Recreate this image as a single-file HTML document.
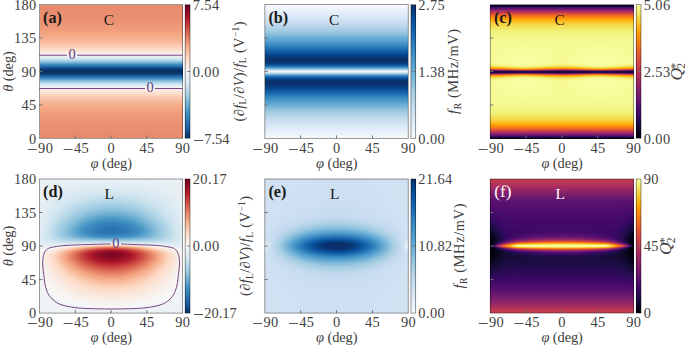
<!DOCTYPE html>
<html><head><meta charset="utf-8"><style>
html,body{margin:0;padding:0;background:#fff}
#w{position:relative;width:685px;height:346px;overflow:hidden;background:#fff}
.hm{position:absolute;display:flex;flex-direction:column}
.hm i{display:block;flex:1 1 0}
svg{position:absolute;left:0;top:0}
svg{font-family:"Liberation Serif",serif;font-size:14.4px;fill:#404040}
.n{letter-spacing:0.4px}
.tk{stroke:#777;stroke-width:1;fill:none}
.fr{fill:none;stroke:#000;stroke-opacity:0.45;stroke-width:0.9}
.ct{stroke:#764585;stroke-width:1;fill:none}
.cl{fill:#643a80}
.w{fill:#fff}
.k{fill:#1a1a1a}
.mn{stroke:#555;stroke-width:1;fill:none}
</style></head><body><div id="w">

<div style="position:absolute;left:39.50px;top:4.50px;width:143.10px;height:133.90px;background:linear-gradient(#e98b6e,#e98b6e,#e98b6e,#e98b6e,#e98b6e,#e98b6e,#e98b6e,#e98b6e,#e98b6e,#e98b6e,#e98b6e,#e98b6e,#ea8e70,#ea8e70,#ea8e70,#ea8e70,#ea8e70,#ea8e70,#ea8e70,#ea8e70,#ea8e70,#ea8e70,#ea8e70,#ea8e70,#ea8e70,#eb9172,#eb9172,#eb9172,#eb9172,#eb9172,#eb9172,#eb9172,#ec9374,#ec9374,#ec9374,#ec9374,#ec9374,#ec9374,#ee9677,#ee9677,#ee9677,#ee9677,#ef9979,#ef9979,#ef9979,#ef9979,#f09c7b,#f09c7b,#f09c7b,#f09c7b,#f19e7d,#f19e7d,#f19e7d,#f2a17f,#f2a17f,#f3a481,#f3a481,#f3a481,#f4a683,#f4a683,#f5a886,#f5a886,#f5aa89,#f5aa89,#f5ac8b,#f5ac8b,#f6af8e,#f6af8e,#f6b191,#f6b394,#f6b394,#f7b596,#f7b799,#f7b99c,#f7b99c,#f8bb9e,#f8bda1,#f8bfa4,#f9c2a7,#f9c4a9,#f9c6ac,#fac8af,#facab1,#fbccb4,#fbd0b9,#fcd3bc,#fcd5bf,#fdd9c4,#fddbc7,#fdddcb,#fcdfcf,#fce0d0,#fbe3d4,#fbe5d8,#fae7dc,#fae9df,#f9ebe3,#f9efe9,#f8f1ed,#f8f3f0,#f7f6f6,#f3f5f6,#eff3f5,#eaf1f5,#e6eff4,#e1edf3,#dbeaf2,#d7e8f1,#d1e5f0,#c7e0ed,#bddbea,#b1d5e7,#a7d0e4,#9bc9e0,#8dc2dc,#81bad8,#71b0d3,#62a7ce,#4f9bc7,#4291c2,#3b88be,#3480b9,#2e77b5,#276eb0,#2065ab,#1b5a9c,#175290,#124984,#0f437b,#0c3d73,#08366a,#073467,#053061,#053061,#053061,#053061,#073467,#08366a,#0c3d73,#0f437b,#124984,#175290,#1b5a9c,#2065ab,#276eb0,#2e77b5,#3480b9,#3b88be,#4291c2,#4f9bc7,#62a7ce,#71b0d3,#81bad8,#8dc2dc,#9bc9e0,#a7d0e4,#b1d5e7,#bddbea,#c7e0ed,#d1e5f0,#d7e8f1,#dbeaf2,#e1edf3,#e6eff4,#eaf1f5,#eff3f5,#f3f5f6,#f7f6f6,#f8f3f0,#f8f1ed,#f9efe9,#f9ebe3,#fae9df,#fae7dc,#fbe5d8,#fbe3d4,#fce0d0,#fcdfcf,#fdddcb,#fddbc7,#fdd9c4,#fcd5bf,#fcd3bc,#fbd0b9,#fbccb4,#facab1,#fac8af,#f9c6ac,#f9c4a9,#f9c2a7,#f8bfa4,#f8bda1,#f8bb9e,#f7b99c,#f7b99c,#f7b799,#f7b596,#f6b394,#f6b394,#f6b191,#f6af8e,#f6af8e,#f5ac8b,#f5ac8b,#f5aa89,#f5aa89,#f5a886,#f5a886,#f4a683,#f4a683,#f3a481,#f3a481,#f3a481,#f2a17f,#f2a17f,#f19e7d,#f19e7d,#f19e7d,#f09c7b,#f09c7b,#f09c7b,#f09c7b,#ef9979,#ef9979,#ef9979,#ef9979,#ee9677,#ee9677,#ee9677,#ee9677,#ec9374,#ec9374,#ec9374,#ec9374,#ec9374,#ec9374,#eb9172,#eb9172,#eb9172,#eb9172,#eb9172,#eb9172,#eb9172,#ea8e70,#ea8e70,#ea8e70,#ea8e70,#ea8e70,#ea8e70,#ea8e70,#ea8e70,#ea8e70,#ea8e70,#ea8e70,#ea8e70,#ea8e70,#e98b6e,#e98b6e,#e98b6e,#e98b6e,#e98b6e,#e98b6e,#e98b6e,#e98b6e,#e98b6e,#e98b6e,#e98b6e,#e98b6e)"></div>
<div style="position:absolute;left:264.80px;top:4.50px;width:143.50px;height:133.90px;background:linear-gradient(#f7fbff,#f5fafe,#f4f9fe,#f3f8fe,#f2f7fd,#f1f7fd,#eff6fc,#eef5fc,#edf4fc,#ebf3fb,#eaf3fb,#e9f2fa,#e7f1fa,#e7f0fa,#e5eff9,#e3eef9,#e3eef8,#e1edf8,#dfecf7,#dfebf7,#ddeaf7,#dce9f6,#dbe9f6,#d9e8f5,#d8e7f5,#d6e6f4,#d6e5f4,#d4e4f4,#d3e3f3,#d1e2f3,#d0e2f2,#cfe1f2,#cde0f1,#ccdff1,#cadef0,#caddf0,#c8dcf0,#c7dbef,#c4daee,#c2d9ee,#bfd8ed,#bdd7ec,#bad6eb,#b8d5ea,#b5d4e9,#b3d3e8,#b0d2e7,#aed1e7,#abd0e6,#a9cfe5,#a6cee4,#a4cce3,#a1cbe2,#9fcae1,#9ac8e0,#97c6df,#94c4df,#91c3de,#8cc0dd,#89bedc,#85bcdc,#81badb,#7db8da,#79b5d9,#75b4d8,#71b1d7,#6dafd7,#69add5,#65aad4,#63a8d3,#5fa6d1,#5ba3d0,#57a0ce,#549fcd,#519ccc,#4d99ca,#4997c9,#4594c7,#4191c6,#3e8ec4,#3b8bc2,#3888c1,#3484bf,#3181bd,#2e7ebc,#2b7bba,#2676b8,#2373b6,#2070b4,#1d6cb1,#1b69af,#1865ac,#1562a9,#125ea6,#105ba4,#0e58a2,#0a549e,#08519c,#084d96,#084a91,#08478d,#084488,#084184,#083d7f,#083a7a,#083877,#083674,#083471,#08326e,#08316d,#08306b,#08306b,#08306b,#08316d,#08326e,#083471,#083877,#083c7d,#084285,#08488e,#08509b,#0e58a2,#1562a9,#1f6eb3,#2c7cba,#3a8ac2,#4d99ca,#63a8d3,#7db8da,#9dcae1,#b7d4ea,#cddff1,#ddeaf7,#eef5fc,#eef5fc,#ddeaf7,#cddff1,#b7d4ea,#9dcae1,#7db8da,#63a8d3,#4d99ca,#3a8ac2,#2c7cba,#1f6eb3,#1562a9,#0e58a2,#08509b,#08488e,#084285,#083c7d,#083877,#083471,#08326e,#08316d,#08306b,#08306b,#08306b,#08316d,#08326e,#083471,#083674,#083877,#083a7a,#083d7f,#084184,#084488,#08478d,#084a91,#084d96,#08519c,#0a549e,#0e58a2,#105ba4,#125ea6,#1562a9,#1865ac,#1b69af,#1d6cb1,#2070b4,#2373b6,#2676b8,#2b7bba,#2e7ebc,#3181bd,#3484bf,#3888c1,#3b8bc2,#3e8ec4,#4191c6,#4594c7,#4997c9,#4d99ca,#519ccc,#549fcd,#57a0ce,#5ba3d0,#5fa6d1,#63a8d3,#65aad4,#69add5,#6dafd7,#71b1d7,#75b4d8,#79b5d9,#7db8da,#81badb,#85bcdc,#89bedc,#8cc0dd,#91c3de,#94c4df,#97c6df,#9ac8e0,#9fcae1,#a1cbe2,#a4cce3,#a6cee4,#a9cfe5,#abd0e6,#aed1e7,#b0d2e7,#b3d3e8,#b5d4e9,#b8d5ea,#bad6eb,#bdd7ec,#bfd8ed,#c2d9ee,#c4daee,#c7dbef,#c8dcf0,#caddf0,#cadef0,#ccdff1,#cde0f1,#cfe1f2,#d0e2f2,#d1e2f3,#d3e3f3,#d4e4f4,#d6e5f4,#d6e6f4,#d8e7f5,#d9e8f5,#dbe9f6,#dce9f6,#ddeaf7,#dfebf7,#dfecf7,#e1edf8,#e3eef8,#e3eef9,#e5eff9,#e7f0fa,#e7f1fa,#e9f2fa,#eaf3fb,#ebf3fb,#edf4fc,#eef5fc,#eff6fc,#f1f7fd,#f2f7fd,#f3f8fe,#f4f9fe,#f5fafe,#f7fbff)"></div>
<div class="hm" style="left:490.30px;top:4.50px;width:143.30px;height:133.90px"><i style="background:linear-gradient(90deg,#040314,#040314,#040314,#040314,#040314,#040314,#040314,#040314,#040314,#040314,#040314,#040314,#040314,#040314,#040314,#040314,#040314,#040314,#040314,#040314,#040314,#040314,#040314,#040314)"></i><i style="background:linear-gradient(90deg,#1c0c43,#1c0c43,#1c0c43,#1c0c43,#1c0c43,#1c0c43,#1c0c43,#1c0c43,#1c0c43,#1c0c43,#1c0c43,#1c0c43,#1c0c43,#1c0c43,#1c0c43,#1c0c43,#1c0c43,#1c0c43,#1c0c43,#1c0c43,#1c0c43,#1c0c43,#1c0c43,#1c0c43)"></i><i style="background:linear-gradient(90deg,#3e0966,#3e0966,#3e0966,#3e0966,#3e0966,#3e0966,#3e0966,#3e0966,#3e0966,#3e0966,#3e0966,#3e0966,#3e0966,#3e0966,#3e0966,#3e0966,#3e0966,#3e0966,#3e0966,#3e0966,#3e0966,#3e0966,#3e0966,#3e0966)"></i><i style="background:linear-gradient(90deg,#5c126e,#5c126e,#5c126e,#5c126e,#5c126e,#5c126e,#5c126e,#5c126e,#5c126e,#5c126e,#5c126e,#5c126e,#5c126e,#5c126e,#5c126e,#5c126e,#5c126e,#5c126e,#5c126e,#5c126e,#5c126e,#5c126e,#5c126e,#5c126e)"></i><i style="background:linear-gradient(90deg,#781c6d,#781c6d,#781c6d,#781c6d,#781c6d,#781c6d,#781c6d,#781c6d,#781c6d,#781c6d,#781c6d,#781c6d,#781c6d,#781c6d,#781c6d,#781c6d,#781c6d,#781c6d,#781c6d,#781c6d,#781c6d,#781c6d,#781c6d,#781c6d)"></i><i style="background:linear-gradient(90deg,#952667,#952667,#952667,#952667,#952667,#952667,#952667,#952667,#952667,#952667,#952667,#952667,#952667,#952667,#952667,#952667,#952667,#952667,#952667,#952667,#952667,#952667,#952667,#952667)"></i><i style="background:linear-gradient(90deg,#ae305c,#ae305c,#ae305c,#ae305c,#ae305c,#ae305c,#ae305c,#ae305c,#ae305c,#ae305c,#ae305c,#ae305c,#ae305c,#ae305c,#ae305c,#ae305c,#ae305c,#ae305c,#ae305c,#ae305c,#ae305c,#ae305c,#ae305c,#ae305c)"></i><i style="background:linear-gradient(90deg,#c33b4f,#c33b4f,#c33b4f,#c33b4f,#c33b4f,#c33b4f,#c33b4f,#c33b4f,#c33b4f,#c33b4f,#c33b4f,#c33b4f,#c33b4f,#c33b4f,#c33b4f,#c33b4f,#c33b4f,#c33b4f,#c33b4f,#c33b4f,#c33b4f,#c33b4f,#c33b4f,#c33b4f)"></i><i style="background:linear-gradient(90deg,#d54a41,#d54a41,#d54a41,#d54a41,#d54a41,#d54a41,#d54a41,#d54a41,#d54a41,#d54a41,#d54a41,#d54a41,#d54a41,#d54a41,#d54a41,#d54a41,#d54a41,#d54a41,#d54a41,#d54a41,#d54a41,#d54a41,#d54a41,#d54a41)"></i><i style="background:linear-gradient(90deg,#e45a31,#e45a31,#e45a31,#e45a31,#e45a31,#e45a31,#e45a31,#e45a31,#e45a31,#e45a31,#e45a31,#e45a31,#e45a31,#e45a31,#e45a31,#e45a31,#e45a31,#e45a31,#e45a31,#e45a31,#e45a31,#e45a31,#e45a31,#e45a31)"></i><i style="background:linear-gradient(90deg,#ee6a24,#ee6a24,#ee6a24,#ee6a24,#ee6a24,#ee6a24,#ee6a24,#ee6a24,#ee6a24,#ee6a24,#ee6a24,#ee6a24,#ee6a24,#ee6a24,#ee6a24,#ee6a24,#ee6a24,#ee6a24,#ee6a24,#ee6a24,#ee6a24,#ee6a24,#ee6a24,#ee6a24)"></i><i style="background:linear-gradient(90deg,#f57b17,#f57b17,#f57b17,#f57b17,#f57b17,#f57b17,#f57b17,#f57b17,#f57b17,#f57b17,#f57b17,#f57b17,#f57b17,#f57b17,#f57b17,#f57b17,#f57b17,#f57b17,#f57b17,#f57b17,#f57b17,#f57b17,#f57b17,#f57b17)"></i><i style="background:linear-gradient(90deg,#f98b0b,#f98b0b,#f98b0b,#f98b0b,#f98b0b,#f98b0b,#f98b0b,#f98b0b,#f98b0b,#f98b0b,#f98b0b,#f98b0b,#f98b0b,#f98b0b,#f98b0b,#f98b0b,#f98b0b,#f98b0b,#f98b0b,#f98b0b,#f98b0b,#f98b0b,#f98b0b,#f98b0b)"></i><i style="background:linear-gradient(90deg,#fb9906,#fb9906,#fb9906,#fb9906,#fb9906,#fb9906,#fb9906,#fb9906,#fb9906,#fb9906,#fb9906,#fb9906,#fb9906,#fb9906,#fb9906,#fb9906,#fb9906,#fb9906,#fb9906,#fb9906,#fb9906,#fb9906,#fb9906,#fb9906)"></i><i style="background:linear-gradient(90deg,#fca60c,#fca60c,#fca60c,#fca60c,#fca60c,#fca60c,#fca60c,#fca60c,#fca60c,#fca60c,#fca60c,#fca60c,#fca60c,#fca60c,#fca60c,#fca60c,#fca60c,#fca60c,#fca60c,#fca60c,#fca60c,#fca60c,#fca60c,#fca60c)"></i><i style="background:linear-gradient(90deg,#fcb216,#fcb216,#fcb216,#fcb216,#fcb216,#fcb216,#fcb216,#fcb216,#fcb216,#fcb216,#fcb216,#fcb216,#fcb216,#fcb216,#fcb216,#fcb216,#fcb216,#fcb216,#fcb216,#fcb216,#fcb216,#fcb216,#fcb216,#fcb216)"></i><i style="background:linear-gradient(90deg,#fbbe23,#fbbe23,#fbbe23,#fbbe23,#fbbe23,#fbbe23,#fbbe23,#fbbe23,#fbbe23,#fbbe23,#fbbe23,#fbbe23,#fbbe23,#fbbe23,#fbbe23,#fbbe23,#fbbe23,#fbbe23,#fbbe23,#fbbe23,#fbbe23,#fbbe23,#fbbe23,#fbbe23)"></i><i style="background:linear-gradient(90deg,#f9c72f,#f9c72f,#f9c72f,#f9c72f,#f9c72f,#f9c72f,#f9c72f,#f9c72f,#f9c72f,#f9c72f,#f9c72f,#f9c72f,#f9c72f,#f9c72f,#f9c72f,#f9c72f,#f9c72f,#f9c72f,#f9c72f,#f9c72f,#f9c72f,#f9c72f,#f9c72f,#f9c72f)"></i><i style="background:linear-gradient(90deg,#f8cf3a,#f8cf3a,#f8cf3a,#f8cf3a,#f8cf3a,#f8cf3a,#f8cf3a,#f8cf3a,#f8cf3a,#f8cf3a,#f8cf3a,#f8cf3a,#f8cf3a,#f8cf3a,#f8cf3a,#f8cf3a,#f8cf3a,#f8cf3a,#f8cf3a,#f8cf3a,#f8cf3a,#f8cf3a,#f8cf3a,#f8cf3a)"></i><i style="background:linear-gradient(90deg,#f6d543,#f6d543,#f6d543,#f6d543,#f6d543,#f6d543,#f6d543,#f6d543,#f6d543,#f6d543,#f6d543,#f6d543,#f6d543,#f6d543,#f6d543,#f6d543,#f6d543,#f6d543,#f6d543,#f6d543,#f6d543,#f6d543,#f6d543,#f6d543)"></i><i style="background:linear-gradient(90deg,#f5db4c,#f5db4c,#f5db4c,#f5db4c,#f5db4c,#f5db4c,#f5db4c,#f5db4c,#f5db4c,#f5db4c,#f5db4c,#f5db4c,#f5db4c,#f5db4c,#f5db4c,#f5db4c,#f5db4c,#f5db4c,#f5db4c,#f5db4c,#f5db4c,#f5db4c,#f5db4c,#f5db4c)"></i><i style="background:linear-gradient(90deg,#f4e156,#f4e156,#f4e156,#f4e156,#f4e156,#f4e156,#f4e156,#f4e156,#f4e156,#f4e156,#f4e156,#f4e156,#f4e156,#f4e156,#f4e156,#f4e156,#f4e156,#f4e156,#f4e156,#f4e156,#f4e156,#f4e156,#f4e156,#f4e156)"></i><i style="background:linear-gradient(90deg,#f3e55d,#f3e55d,#f3e55d,#f3e55d,#f3e55d,#f3e55d,#f3e55d,#f3e55d,#f3e55d,#f3e55d,#f3e55d,#f3e55d,#f3e55d,#f3e55d,#f3e55d,#f3e55d,#f3e55d,#f3e55d,#f3e55d,#f3e55d,#f3e55d,#f3e55d,#f3e55d,#f3e55d)"></i><i style="background:linear-gradient(90deg,#f2e865,#f2e865,#f2e865,#f2e865,#f2e865,#f2e865,#f2e865,#f2e865,#f2e865,#f2e865,#f2e865,#f2e865,#f2e865,#f2e865,#f2e865,#f2e865,#f2e865,#f2e865,#f2e865,#f2e865,#f2e865,#f2e865,#f2e865,#f2e865)"></i><i style="background:linear-gradient(90deg,#f1ec6d,#f1ec6d,#f1ec6d,#f1ec6d,#f1ec6d,#f1ec6d,#f1ec6d,#f1ec6d,#f1ec6d,#f1ec6d,#f1ec6d,#f1ec6d,#f1ec6d,#f1ec6d,#f1ec6d,#f1ec6d,#f1ec6d,#f1ec6d,#f1ec6d,#f1ec6d,#f1ec6d,#f1ec6d,#f1ec6d,#f1ec6d)"></i><i style="background:linear-gradient(90deg,#f1ef75,#f1ef75,#f1ef75,#f1ef75,#f1ef75,#f1ef75,#f1ef75,#f1ef75,#f1ef75,#f1ef75,#f1ef75,#f1ef75,#f1ef75,#f1ef75,#f1ef75,#f1ef75,#f1ef75,#f1ef75,#f1ef75,#f1ef75,#f1ef75,#f1ef75,#f1ef75,#f1ef75)"></i><i style="background:linear-gradient(90deg,#f1f179,#f1f179,#f1f179,#f1f179,#f1f179,#f1f179,#f1f179,#f1f179,#f1f179,#f1f179,#f1f179,#f1f179,#f1f179,#f1f179,#f1f179,#f1f179,#f1f179,#f1f179,#f1f179,#f1f179,#f1f179,#f1f179,#f1f179,#f1f179)"></i><i style="background:linear-gradient(90deg,#f2f27d,#f2f27d,#f2f27d,#f2f27d,#f2f27d,#f2f27d,#f2f27d,#f2f27d,#f2f27d,#f2f27d,#f2f27d,#f2f27d,#f2f27d,#f2f27d,#f2f27d,#f2f27d,#f2f27d,#f2f27d,#f2f27d,#f2f27d,#f2f27d,#f2f27d,#f2f27d,#f2f27d)"></i><i style="background:linear-gradient(90deg,#f2f482,#f2f482,#f2f482,#f2f482,#f2f482,#f2f482,#f2f482,#f2f482,#f2f482,#f2f482,#f2f482,#f2f482,#f2f482,#f2f482,#f2f482,#f2f482,#f2f482,#f2f482,#f2f482,#f2f482,#f2f482,#f2f482,#f2f482,#f2f482)"></i><i style="background:linear-gradient(90deg,#f3f586,#f3f586,#f3f586,#f3f586,#f3f586,#f3f586,#f3f586,#f3f586,#f3f586,#f3f586,#f3f586,#f3f586,#f3f586,#f3f586,#f3f586,#f3f586,#f3f586,#f3f586,#f3f586,#f3f586,#f3f586,#f3f586,#f3f586,#f3f586)"></i><i style="background:linear-gradient(90deg,#f3f586,#f3f586,#f3f586,#f3f586,#f3f68a,#f3f68a,#f3f68a,#f3f68a,#f3f586,#f3f586,#f3f586,#f3f586,#f3f586,#f3f586,#f3f586,#f3f586,#f3f68a,#f3f68a,#f3f68a,#f3f68a,#f3f586,#f3f586,#f3f586,#f3f586)"></i><i style="background:linear-gradient(90deg,#f3f68a,#f3f68a,#f3f68a,#f3f68a,#f3f68a,#f3f68a,#f3f68a,#f3f68a,#f3f68a,#f3f68a,#f3f68a,#f3f68a,#f3f68a,#f3f68a,#f3f68a,#f3f68a,#f3f68a,#f3f68a,#f3f68a,#f3f68a,#f3f68a,#f3f68a,#f3f68a,#f3f68a)"></i><i style="background:linear-gradient(90deg,#f3f68a,#f3f68a,#f4f88e,#f4f88e,#f4f88e,#f4f88e,#f4f88e,#f4f88e,#f4f88e,#f4f88e,#f3f68a,#f3f68a,#f3f68a,#f3f68a,#f4f88e,#f4f88e,#f4f88e,#f4f88e,#f4f88e,#f4f88e,#f4f88e,#f4f88e,#f3f68a,#f3f68a)"></i><i style="background:linear-gradient(90deg,#f4f88e,#f4f88e,#f4f88e,#f4f88e,#f4f88e,#f4f88e,#f4f88e,#f4f88e,#f4f88e,#f4f88e,#f4f88e,#f4f88e,#f4f88e,#f4f88e,#f4f88e,#f4f88e,#f4f88e,#f4f88e,#f4f88e,#f4f88e,#f4f88e,#f4f88e,#f4f88e,#f4f88e)"></i><i style="background:linear-gradient(90deg,#f4f88e,#f4f88e,#f4f88e,#f4f88e,#f5f992,#f5f992,#f5f992,#f5f992,#f4f88e,#f4f88e,#f4f88e,#f4f88e,#f4f88e,#f4f88e,#f4f88e,#f4f88e,#f5f992,#f5f992,#f5f992,#f5f992,#f4f88e,#f4f88e,#f4f88e,#f4f88e)"></i><i style="background:linear-gradient(90deg,#f5f992,#f5f992,#f5f992,#f5f992,#f5f992,#f5f992,#f5f992,#f5f992,#f5f992,#f5f992,#f5f992,#f5f992,#f5f992,#f5f992,#f5f992,#f5f992,#f5f992,#f5f992,#f5f992,#f5f992,#f5f992,#f5f992,#f5f992,#f5f992)"></i><i style="background:linear-gradient(90deg,#f5f992,#f5f992,#f5f992,#f5f992,#f5f992,#f5f992,#f5f992,#f5f992,#f5f992,#f5f992,#f5f992,#f5f992,#f5f992,#f5f992,#f5f992,#f5f992,#f5f992,#f5f992,#f5f992,#f5f992,#f5f992,#f5f992,#f5f992,#f5f992)"></i><i style="background:linear-gradient(90deg,#f5f992,#f5f992,#f5f992,#f5f992,#f6fa96,#f6fa96,#f6fa96,#f6fa96,#f5f992,#f5f992,#f5f992,#f5f992,#f5f992,#f5f992,#f5f992,#f5f992,#f6fa96,#f6fa96,#f6fa96,#f6fa96,#f5f992,#f5f992,#f5f992,#f5f992)"></i><i style="background:linear-gradient(90deg,#f5f992,#f5f992,#f5f992,#f6fa96,#f6fa96,#f6fa96,#f6fa96,#f6fa96,#f6fa96,#f5f992,#f5f992,#f5f992,#f5f992,#f5f992,#f5f992,#f6fa96,#f6fa96,#f6fa96,#f6fa96,#f6fa96,#f6fa96,#f5f992,#f5f992,#f5f992)"></i><i style="background:linear-gradient(90deg,#f5f992,#f6fa96,#f6fa96,#f6fa96,#f6fa96,#f6fa96,#f6fa96,#f6fa96,#f6fa96,#f6fa96,#f6fa96,#f5f992,#f5f992,#f6fa96,#f6fa96,#f6fa96,#f6fa96,#f6fa96,#f6fa96,#f6fa96,#f6fa96,#f6fa96,#f6fa96,#f5f992)"></i><i style="background:linear-gradient(90deg,#f6fa96,#f6fa96,#f6fa96,#f6fa96,#f6fa96,#f6fa96,#f6fa96,#f6fa96,#f6fa96,#f6fa96,#f6fa96,#f6fa96,#f6fa96,#f6fa96,#f6fa96,#f6fa96,#f6fa96,#f6fa96,#f6fa96,#f6fa96,#f6fa96,#f6fa96,#f6fa96,#f6fa96)"></i><i style="background:linear-gradient(90deg,#f6fa96,#f6fa96,#f6fa96,#f6fa96,#f6fa96,#f8fb9a,#f8fb9a,#f6fa96,#f6fa96,#f6fa96,#f6fa96,#f6fa96,#f6fa96,#f6fa96,#f6fa96,#f6fa96,#f6fa96,#f8fb9a,#f8fb9a,#f6fa96,#f6fa96,#f6fa96,#f6fa96,#f6fa96)"></i><i style="background:linear-gradient(90deg,#f6fa96,#f6fa96,#f6fa96,#f6fa96,#f8fb9a,#f8fb9a,#f8fb9a,#f8fb9a,#f6fa96,#f6fa96,#f6fa96,#f6fa96,#f6fa96,#f6fa96,#f6fa96,#f6fa96,#f8fb9a,#f8fb9a,#f8fb9a,#f8fb9a,#f6fa96,#f6fa96,#f6fa96,#f6fa96)"></i><i style="background:linear-gradient(90deg,#f6fa96,#f6fa96,#f6fa96,#f8fb9a,#f8fb9a,#f8fb9a,#f8fb9a,#f8fb9a,#f8fb9a,#f6fa96,#f6fa96,#f6fa96,#f6fa96,#f6fa96,#f6fa96,#f8fb9a,#f8fb9a,#f8fb9a,#f8fb9a,#f8fb9a,#f8fb9a,#f6fa96,#f6fa96,#f6fa96)"></i><i style="background:linear-gradient(90deg,#f6fa96,#f6fa96,#f6fa96,#f8fb9a,#f8fb9a,#f8fb9a,#f8fb9a,#f8fb9a,#f8fb9a,#f6fa96,#f6fa96,#f6fa96,#f6fa96,#f6fa96,#f6fa96,#f8fb9a,#f8fb9a,#f8fb9a,#f8fb9a,#f8fb9a,#f8fb9a,#f6fa96,#f6fa96,#f6fa96)"></i><i style="background:linear-gradient(90deg,#f6fa96,#f6fa96,#f8fb9a,#f8fb9a,#f8fb9a,#f8fb9a,#f8fb9a,#f8fb9a,#f8fb9a,#f8fb9a,#f6fa96,#f6fa96,#f6fa96,#f6fa96,#f8fb9a,#f8fb9a,#f8fb9a,#f8fb9a,#f8fb9a,#f8fb9a,#f8fb9a,#f8fb9a,#f6fa96,#f6fa96)"></i><i style="background:linear-gradient(90deg,#f6fa96,#f6fa96,#f8fb9a,#f8fb9a,#f8fb9a,#f9fc9d,#f9fc9d,#f8fb9a,#f8fb9a,#f8fb9a,#f6fa96,#f6fa96,#f6fa96,#f6fa96,#f8fb9a,#f8fb9a,#f8fb9a,#f9fc9d,#f9fc9d,#f8fb9a,#f8fb9a,#f8fb9a,#f6fa96,#f6fa96)"></i><i style="background:linear-gradient(90deg,#f6fa96,#f6fa96,#f8fb9a,#f8fb9a,#f9fc9d,#f9fc9d,#f9fc9d,#f9fc9d,#f8fb9a,#f8fb9a,#f6fa96,#f6fa96,#f6fa96,#f6fa96,#f8fb9a,#f8fb9a,#f9fc9d,#f9fc9d,#f9fc9d,#f9fc9d,#f8fb9a,#f8fb9a,#f6fa96,#f6fa96)"></i><i style="background:linear-gradient(90deg,#f6fa96,#f6fa96,#f8fb9a,#f8fb9a,#f9fc9d,#f9fc9d,#f9fc9d,#f9fc9d,#f8fb9a,#f8fb9a,#f6fa96,#f6fa96,#f6fa96,#f6fa96,#f8fb9a,#f8fb9a,#f9fc9d,#f9fc9d,#f9fc9d,#f9fc9d,#f8fb9a,#f8fb9a,#f6fa96,#f6fa96)"></i><i style="background:linear-gradient(90deg,#f6fa96,#f6fa96,#f8fb9a,#f8fb9a,#f9fc9d,#f9fc9d,#f9fc9d,#f9fc9d,#f8fb9a,#f8fb9a,#f6fa96,#f6fa96,#f6fa96,#f6fa96,#f8fb9a,#f8fb9a,#f9fc9d,#f9fc9d,#f9fc9d,#f9fc9d,#f8fb9a,#f8fb9a,#f6fa96,#f6fa96)"></i><i style="background:linear-gradient(90deg,#f6fa96,#f8fb9a,#f8fb9a,#f9fc9d,#f9fc9d,#f9fc9d,#f9fc9d,#f9fc9d,#f9fc9d,#f8fb9a,#f8fb9a,#f6fa96,#f6fa96,#f8fb9a,#f8fb9a,#f9fc9d,#f9fc9d,#f9fc9d,#f9fc9d,#f9fc9d,#f9fc9d,#f8fb9a,#f8fb9a,#f6fa96)"></i><i style="background:linear-gradient(90deg,#f6fa96,#f8fb9a,#f8fb9a,#f9fc9d,#f9fc9d,#fafda1,#fafda1,#f9fc9d,#f9fc9d,#f8fb9a,#f8fb9a,#f6fa96,#f6fa96,#f8fb9a,#f8fb9a,#f9fc9d,#f9fc9d,#fafda1,#fafda1,#f9fc9d,#f9fc9d,#f8fb9a,#f8fb9a,#f6fa96)"></i><i style="background:linear-gradient(90deg,#f6fa96,#f8fb9a,#f8fb9a,#f9fc9d,#f9fc9d,#fafda1,#fafda1,#f9fc9d,#f9fc9d,#f8fb9a,#f8fb9a,#f6fa96,#f6fa96,#f8fb9a,#f8fb9a,#f9fc9d,#f9fc9d,#fafda1,#fafda1,#f9fc9d,#f9fc9d,#f8fb9a,#f8fb9a,#f6fa96)"></i><i style="background:linear-gradient(90deg,#f6fa96,#f8fb9a,#f8fb9a,#f9fc9d,#fafda1,#fafda1,#fafda1,#fafda1,#f9fc9d,#f8fb9a,#f8fb9a,#f6fa96,#f6fa96,#f8fb9a,#f8fb9a,#f9fc9d,#fafda1,#fafda1,#fafda1,#fafda1,#f9fc9d,#f8fb9a,#f8fb9a,#f6fa96)"></i><i style="background:linear-gradient(90deg,#f6fa96,#f8fb9a,#f8fb9a,#f9fc9d,#fafda1,#fafda1,#fafda1,#fafda1,#f9fc9d,#f8fb9a,#f8fb9a,#f6fa96,#f6fa96,#f8fb9a,#f8fb9a,#f9fc9d,#fafda1,#fafda1,#fafda1,#fafda1,#f9fc9d,#f8fb9a,#f8fb9a,#f6fa96)"></i><i style="background:linear-gradient(90deg,#f6fa96,#f8fb9a,#f8fb9a,#f9fc9d,#fafda1,#fafda1,#fafda1,#fafda1,#f9fc9d,#f8fb9a,#f8fb9a,#f6fa96,#f6fa96,#f8fb9a,#f8fb9a,#f9fc9d,#fafda1,#fafda1,#fafda1,#fafda1,#f9fc9d,#f8fb9a,#f8fb9a,#f6fa96)"></i><i style="background:linear-gradient(90deg,#f6fa96,#f8fb9a,#f9fc9d,#f9fc9d,#fafda1,#fafda1,#fafda1,#fafda1,#f9fc9d,#f9fc9d,#f8fb9a,#f6fa96,#f6fa96,#f8fb9a,#f9fc9d,#f9fc9d,#fafda1,#fafda1,#fafda1,#fafda1,#f9fc9d,#f9fc9d,#f8fb9a,#f6fa96)"></i><i style="background:linear-gradient(90deg,#f6fa96,#f8fb9a,#f9fc9d,#f9fc9d,#fafda1,#fcffa4,#fcffa4,#fafda1,#f9fc9d,#f9fc9d,#f8fb9a,#f6fa96,#f6fa96,#f8fb9a,#f9fc9d,#f9fc9d,#fafda1,#fcffa4,#fcffa4,#fafda1,#f9fc9d,#f9fc9d,#f8fb9a,#f6fa96)"></i><i style="background:linear-gradient(90deg,#f4f88e,#f5f992,#f8fb9a,#fafda1,#fafda1,#fcffa4,#fcffa4,#fafda1,#fafda1,#f8fb9a,#f5f992,#f4f88e,#f4f88e,#f5f992,#f8fb9a,#fafda1,#fafda1,#fcffa4,#fcffa4,#fafda1,#fafda1,#f8fb9a,#f5f992,#f4f88e)"></i><i style="background:linear-gradient(90deg,#f2f482,#f3f586,#f4f88e,#f6fa96,#f9fc9d,#fcffa4,#fcffa4,#f9fc9d,#f6fa96,#f4f88e,#f3f586,#f2f482,#f2f482,#f3f586,#f4f88e,#f6fa96,#f9fc9d,#fcffa4,#fcffa4,#f9fc9d,#f6fa96,#f4f88e,#f3f586,#f2f482)"></i><i style="background:linear-gradient(90deg,#f1ec6d,#f1ef75,#f2f482,#f3f68a,#f5f992,#f6fa96,#f6fa96,#f5f992,#f3f68a,#f2f482,#f1ef75,#f1ec6d,#f1ec6d,#f1ef75,#f2f482,#f3f68a,#f5f992,#f6fa96,#f6fa96,#f5f992,#f3f68a,#f2f482,#f1ef75,#f1ec6d)"></i><i style="background:linear-gradient(90deg,#f5d949,#f4dd4f,#f3e35a,#f1ec6d,#f2f482,#f3f68a,#f3f68a,#f2f482,#f1ec6d,#f3e35a,#f4dd4f,#f5d949,#f5d949,#f4dd4f,#f3e35a,#f1ec6d,#f2f482,#f3f68a,#f3f68a,#f2f482,#f1ec6d,#f3e35a,#f4dd4f,#f5d949)"></i><i style="background:linear-gradient(90deg,#fbb81d,#fbbe23,#f9c932,#f6d746,#f4dd4f,#f3e35a,#f3e35a,#f4dd4f,#f6d746,#f9c932,#fbbe23,#fbb81d,#fbb81d,#fbbe23,#f9c932,#f6d746,#f4dd4f,#f3e35a,#f3e35a,#f4dd4f,#f6d746,#f9c932,#fbbe23,#fbb81d)"></i><i style="background:linear-gradient(90deg,#fa9008,#fb9606,#fb9d07,#fca80d,#fcb418,#fbbc21,#fbbc21,#fcb418,#fca80d,#fb9d07,#fb9606,#fa9008,#fa9008,#fb9606,#fb9d07,#fca80d,#fcb418,#fbbc21,#fbbc21,#fcb418,#fca80d,#fb9d07,#fb9606,#fa9008)"></i><i style="background:linear-gradient(90deg,#ca404a,#cf4446,#da4e3c,#e65d2f,#ef6c23,#f37819,#f37819,#ef6c23,#e65d2f,#da4e3c,#cf4446,#ca404a,#ca404a,#cf4446,#da4e3c,#e65d2f,#ef6c23,#f37819,#f37819,#ef6c23,#e65d2f,#da4e3c,#cf4446,#ca404a)"></i><i style="background:linear-gradient(90deg,#771c6d,#7a1d6d,#82206c,#8c2369,#932667,#9a2865,#9a2865,#932667,#8c2369,#82206c,#7a1d6d,#771c6d,#771c6d,#7a1d6d,#82206c,#8c2369,#932667,#9a2865,#9a2865,#932667,#8c2369,#82206c,#7a1d6d,#771c6d)"></i><i style="background:linear-gradient(90deg,#150b37,#160b39,#180c3c,#190c3e,#1b0c41,#1c0c43,#1c0c43,#1b0c41,#190c3e,#180c3c,#160b39,#150b37,#150b37,#160b39,#180c3c,#190c3e,#1b0c41,#1c0c43,#1c0c43,#1b0c41,#190c3e,#180c3c,#160b39,#150b37)"></i><i style="background:linear-gradient(90deg,#150b37,#160b39,#180c3c,#190c3e,#1b0c41,#1c0c43,#1c0c43,#1b0c41,#190c3e,#180c3c,#160b39,#150b37,#150b37,#160b39,#180c3c,#190c3e,#1b0c41,#1c0c43,#1c0c43,#1b0c41,#190c3e,#180c3c,#160b39,#150b37)"></i><i style="background:linear-gradient(90deg,#771c6d,#7a1d6d,#82206c,#8c2369,#932667,#9a2865,#9a2865,#932667,#8c2369,#82206c,#7a1d6d,#771c6d,#771c6d,#7a1d6d,#82206c,#8c2369,#932667,#9a2865,#9a2865,#932667,#8c2369,#82206c,#7a1d6d,#771c6d)"></i><i style="background:linear-gradient(90deg,#ca404a,#cf4446,#da4e3c,#e65d2f,#ef6c23,#f37819,#f37819,#ef6c23,#e65d2f,#da4e3c,#cf4446,#ca404a,#ca404a,#cf4446,#da4e3c,#e65d2f,#ef6c23,#f37819,#f37819,#ef6c23,#e65d2f,#da4e3c,#cf4446,#ca404a)"></i><i style="background:linear-gradient(90deg,#fa9008,#fb9606,#fb9d07,#fca80d,#fcb418,#fbbc21,#fbbc21,#fcb418,#fca80d,#fb9d07,#fb9606,#fa9008,#fa9008,#fb9606,#fb9d07,#fca80d,#fcb418,#fbbc21,#fbbc21,#fcb418,#fca80d,#fb9d07,#fb9606,#fa9008)"></i><i style="background:linear-gradient(90deg,#fbb81d,#fbbe23,#f9c932,#f6d746,#f4dd4f,#f3e35a,#f3e35a,#f4dd4f,#f6d746,#f9c932,#fbbe23,#fbb81d,#fbb81d,#fbbe23,#f9c932,#f6d746,#f4dd4f,#f3e35a,#f3e35a,#f4dd4f,#f6d746,#f9c932,#fbbe23,#fbb81d)"></i><i style="background:linear-gradient(90deg,#f5d949,#f4dd4f,#f3e35a,#f1ec6d,#f2f482,#f3f68a,#f3f68a,#f2f482,#f1ec6d,#f3e35a,#f4dd4f,#f5d949,#f5d949,#f4dd4f,#f3e35a,#f1ec6d,#f2f482,#f3f68a,#f3f68a,#f2f482,#f1ec6d,#f3e35a,#f4dd4f,#f5d949)"></i><i style="background:linear-gradient(90deg,#f1ec6d,#f1ef75,#f2f482,#f3f68a,#f5f992,#f6fa96,#f6fa96,#f5f992,#f3f68a,#f2f482,#f1ef75,#f1ec6d,#f1ec6d,#f1ef75,#f2f482,#f3f68a,#f5f992,#f6fa96,#f6fa96,#f5f992,#f3f68a,#f2f482,#f1ef75,#f1ec6d)"></i><i style="background:linear-gradient(90deg,#f2f482,#f3f586,#f4f88e,#f6fa96,#f9fc9d,#fcffa4,#fcffa4,#f9fc9d,#f6fa96,#f4f88e,#f3f586,#f2f482,#f2f482,#f3f586,#f4f88e,#f6fa96,#f9fc9d,#fcffa4,#fcffa4,#f9fc9d,#f6fa96,#f4f88e,#f3f586,#f2f482)"></i><i style="background:linear-gradient(90deg,#f4f88e,#f5f992,#f8fb9a,#fafda1,#fafda1,#fcffa4,#fcffa4,#fafda1,#fafda1,#f8fb9a,#f5f992,#f4f88e,#f4f88e,#f5f992,#f8fb9a,#fafda1,#fafda1,#fcffa4,#fcffa4,#fafda1,#fafda1,#f8fb9a,#f5f992,#f4f88e)"></i><i style="background:linear-gradient(90deg,#f6fa96,#f8fb9a,#f9fc9d,#f9fc9d,#fafda1,#fcffa4,#fcffa4,#fafda1,#f9fc9d,#f9fc9d,#f8fb9a,#f6fa96,#f6fa96,#f8fb9a,#f9fc9d,#f9fc9d,#fafda1,#fcffa4,#fcffa4,#fafda1,#f9fc9d,#f9fc9d,#f8fb9a,#f6fa96)"></i><i style="background:linear-gradient(90deg,#f6fa96,#f8fb9a,#f9fc9d,#f9fc9d,#fafda1,#fafda1,#fafda1,#fafda1,#f9fc9d,#f9fc9d,#f8fb9a,#f6fa96,#f6fa96,#f8fb9a,#f9fc9d,#f9fc9d,#fafda1,#fafda1,#fafda1,#fafda1,#f9fc9d,#f9fc9d,#f8fb9a,#f6fa96)"></i><i style="background:linear-gradient(90deg,#f6fa96,#f8fb9a,#f8fb9a,#f9fc9d,#fafda1,#fafda1,#fafda1,#fafda1,#f9fc9d,#f8fb9a,#f8fb9a,#f6fa96,#f6fa96,#f8fb9a,#f8fb9a,#f9fc9d,#fafda1,#fafda1,#fafda1,#fafda1,#f9fc9d,#f8fb9a,#f8fb9a,#f6fa96)"></i><i style="background:linear-gradient(90deg,#f6fa96,#f8fb9a,#f8fb9a,#f9fc9d,#fafda1,#fafda1,#fafda1,#fafda1,#f9fc9d,#f8fb9a,#f8fb9a,#f6fa96,#f6fa96,#f8fb9a,#f8fb9a,#f9fc9d,#fafda1,#fafda1,#fafda1,#fafda1,#f9fc9d,#f8fb9a,#f8fb9a,#f6fa96)"></i><i style="background:linear-gradient(90deg,#f6fa96,#f8fb9a,#f8fb9a,#f9fc9d,#fafda1,#fafda1,#fafda1,#fafda1,#f9fc9d,#f8fb9a,#f8fb9a,#f6fa96,#f6fa96,#f8fb9a,#f8fb9a,#f9fc9d,#fafda1,#fafda1,#fafda1,#fafda1,#f9fc9d,#f8fb9a,#f8fb9a,#f6fa96)"></i><i style="background:linear-gradient(90deg,#f6fa96,#f8fb9a,#f8fb9a,#f9fc9d,#f9fc9d,#fafda1,#fafda1,#f9fc9d,#f9fc9d,#f8fb9a,#f8fb9a,#f6fa96,#f6fa96,#f8fb9a,#f8fb9a,#f9fc9d,#f9fc9d,#fafda1,#fafda1,#f9fc9d,#f9fc9d,#f8fb9a,#f8fb9a,#f6fa96)"></i><i style="background:linear-gradient(90deg,#f6fa96,#f8fb9a,#f8fb9a,#f9fc9d,#f9fc9d,#fafda1,#fafda1,#f9fc9d,#f9fc9d,#f8fb9a,#f8fb9a,#f6fa96,#f6fa96,#f8fb9a,#f8fb9a,#f9fc9d,#f9fc9d,#fafda1,#fafda1,#f9fc9d,#f9fc9d,#f8fb9a,#f8fb9a,#f6fa96)"></i><i style="background:linear-gradient(90deg,#f6fa96,#f8fb9a,#f8fb9a,#f9fc9d,#f9fc9d,#f9fc9d,#f9fc9d,#f9fc9d,#f9fc9d,#f8fb9a,#f8fb9a,#f6fa96,#f6fa96,#f8fb9a,#f8fb9a,#f9fc9d,#f9fc9d,#f9fc9d,#f9fc9d,#f9fc9d,#f9fc9d,#f8fb9a,#f8fb9a,#f6fa96)"></i><i style="background:linear-gradient(90deg,#f6fa96,#f6fa96,#f8fb9a,#f8fb9a,#f9fc9d,#f9fc9d,#f9fc9d,#f9fc9d,#f8fb9a,#f8fb9a,#f6fa96,#f6fa96,#f6fa96,#f6fa96,#f8fb9a,#f8fb9a,#f9fc9d,#f9fc9d,#f9fc9d,#f9fc9d,#f8fb9a,#f8fb9a,#f6fa96,#f6fa96)"></i><i style="background:linear-gradient(90deg,#f6fa96,#f6fa96,#f8fb9a,#f8fb9a,#f9fc9d,#f9fc9d,#f9fc9d,#f9fc9d,#f8fb9a,#f8fb9a,#f6fa96,#f6fa96,#f6fa96,#f6fa96,#f8fb9a,#f8fb9a,#f9fc9d,#f9fc9d,#f9fc9d,#f9fc9d,#f8fb9a,#f8fb9a,#f6fa96,#f6fa96)"></i><i style="background:linear-gradient(90deg,#f6fa96,#f6fa96,#f8fb9a,#f8fb9a,#f9fc9d,#f9fc9d,#f9fc9d,#f9fc9d,#f8fb9a,#f8fb9a,#f6fa96,#f6fa96,#f6fa96,#f6fa96,#f8fb9a,#f8fb9a,#f9fc9d,#f9fc9d,#f9fc9d,#f9fc9d,#f8fb9a,#f8fb9a,#f6fa96,#f6fa96)"></i><i style="background:linear-gradient(90deg,#f6fa96,#f6fa96,#f8fb9a,#f8fb9a,#f8fb9a,#f9fc9d,#f9fc9d,#f8fb9a,#f8fb9a,#f8fb9a,#f6fa96,#f6fa96,#f6fa96,#f6fa96,#f8fb9a,#f8fb9a,#f8fb9a,#f9fc9d,#f9fc9d,#f8fb9a,#f8fb9a,#f8fb9a,#f6fa96,#f6fa96)"></i><i style="background:linear-gradient(90deg,#f6fa96,#f6fa96,#f8fb9a,#f8fb9a,#f8fb9a,#f8fb9a,#f8fb9a,#f8fb9a,#f8fb9a,#f8fb9a,#f6fa96,#f6fa96,#f6fa96,#f6fa96,#f8fb9a,#f8fb9a,#f8fb9a,#f8fb9a,#f8fb9a,#f8fb9a,#f8fb9a,#f8fb9a,#f6fa96,#f6fa96)"></i><i style="background:linear-gradient(90deg,#f6fa96,#f6fa96,#f6fa96,#f8fb9a,#f8fb9a,#f8fb9a,#f8fb9a,#f8fb9a,#f8fb9a,#f6fa96,#f6fa96,#f6fa96,#f6fa96,#f6fa96,#f6fa96,#f8fb9a,#f8fb9a,#f8fb9a,#f8fb9a,#f8fb9a,#f8fb9a,#f6fa96,#f6fa96,#f6fa96)"></i><i style="background:linear-gradient(90deg,#f6fa96,#f6fa96,#f6fa96,#f8fb9a,#f8fb9a,#f8fb9a,#f8fb9a,#f8fb9a,#f8fb9a,#f6fa96,#f6fa96,#f6fa96,#f6fa96,#f6fa96,#f6fa96,#f8fb9a,#f8fb9a,#f8fb9a,#f8fb9a,#f8fb9a,#f8fb9a,#f6fa96,#f6fa96,#f6fa96)"></i><i style="background:linear-gradient(90deg,#f6fa96,#f6fa96,#f6fa96,#f6fa96,#f8fb9a,#f8fb9a,#f8fb9a,#f8fb9a,#f6fa96,#f6fa96,#f6fa96,#f6fa96,#f6fa96,#f6fa96,#f6fa96,#f6fa96,#f8fb9a,#f8fb9a,#f8fb9a,#f8fb9a,#f6fa96,#f6fa96,#f6fa96,#f6fa96)"></i><i style="background:linear-gradient(90deg,#f6fa96,#f6fa96,#f6fa96,#f6fa96,#f6fa96,#f8fb9a,#f8fb9a,#f6fa96,#f6fa96,#f6fa96,#f6fa96,#f6fa96,#f6fa96,#f6fa96,#f6fa96,#f6fa96,#f6fa96,#f8fb9a,#f8fb9a,#f6fa96,#f6fa96,#f6fa96,#f6fa96,#f6fa96)"></i><i style="background:linear-gradient(90deg,#f6fa96,#f6fa96,#f6fa96,#f6fa96,#f6fa96,#f6fa96,#f6fa96,#f6fa96,#f6fa96,#f6fa96,#f6fa96,#f6fa96,#f6fa96,#f6fa96,#f6fa96,#f6fa96,#f6fa96,#f6fa96,#f6fa96,#f6fa96,#f6fa96,#f6fa96,#f6fa96,#f6fa96)"></i><i style="background:linear-gradient(90deg,#f5f992,#f6fa96,#f6fa96,#f6fa96,#f6fa96,#f6fa96,#f6fa96,#f6fa96,#f6fa96,#f6fa96,#f6fa96,#f5f992,#f5f992,#f6fa96,#f6fa96,#f6fa96,#f6fa96,#f6fa96,#f6fa96,#f6fa96,#f6fa96,#f6fa96,#f6fa96,#f5f992)"></i><i style="background:linear-gradient(90deg,#f5f992,#f5f992,#f5f992,#f6fa96,#f6fa96,#f6fa96,#f6fa96,#f6fa96,#f6fa96,#f5f992,#f5f992,#f5f992,#f5f992,#f5f992,#f5f992,#f6fa96,#f6fa96,#f6fa96,#f6fa96,#f6fa96,#f6fa96,#f5f992,#f5f992,#f5f992)"></i><i style="background:linear-gradient(90deg,#f5f992,#f5f992,#f5f992,#f5f992,#f6fa96,#f6fa96,#f6fa96,#f6fa96,#f5f992,#f5f992,#f5f992,#f5f992,#f5f992,#f5f992,#f5f992,#f5f992,#f6fa96,#f6fa96,#f6fa96,#f6fa96,#f5f992,#f5f992,#f5f992,#f5f992)"></i><i style="background:linear-gradient(90deg,#f5f992,#f5f992,#f5f992,#f5f992,#f5f992,#f5f992,#f5f992,#f5f992,#f5f992,#f5f992,#f5f992,#f5f992,#f5f992,#f5f992,#f5f992,#f5f992,#f5f992,#f5f992,#f5f992,#f5f992,#f5f992,#f5f992,#f5f992,#f5f992)"></i><i style="background:linear-gradient(90deg,#f5f992,#f5f992,#f5f992,#f5f992,#f5f992,#f5f992,#f5f992,#f5f992,#f5f992,#f5f992,#f5f992,#f5f992,#f5f992,#f5f992,#f5f992,#f5f992,#f5f992,#f5f992,#f5f992,#f5f992,#f5f992,#f5f992,#f5f992,#f5f992)"></i><i style="background:linear-gradient(90deg,#f4f88e,#f4f88e,#f4f88e,#f4f88e,#f5f992,#f5f992,#f5f992,#f5f992,#f4f88e,#f4f88e,#f4f88e,#f4f88e,#f4f88e,#f4f88e,#f4f88e,#f4f88e,#f5f992,#f5f992,#f5f992,#f5f992,#f4f88e,#f4f88e,#f4f88e,#f4f88e)"></i><i style="background:linear-gradient(90deg,#f4f88e,#f4f88e,#f4f88e,#f4f88e,#f4f88e,#f4f88e,#f4f88e,#f4f88e,#f4f88e,#f4f88e,#f4f88e,#f4f88e,#f4f88e,#f4f88e,#f4f88e,#f4f88e,#f4f88e,#f4f88e,#f4f88e,#f4f88e,#f4f88e,#f4f88e,#f4f88e,#f4f88e)"></i><i style="background:linear-gradient(90deg,#f3f68a,#f3f68a,#f4f88e,#f4f88e,#f4f88e,#f4f88e,#f4f88e,#f4f88e,#f4f88e,#f4f88e,#f3f68a,#f3f68a,#f3f68a,#f3f68a,#f4f88e,#f4f88e,#f4f88e,#f4f88e,#f4f88e,#f4f88e,#f4f88e,#f4f88e,#f3f68a,#f3f68a)"></i><i style="background:linear-gradient(90deg,#f3f68a,#f3f68a,#f3f68a,#f3f68a,#f3f68a,#f3f68a,#f3f68a,#f3f68a,#f3f68a,#f3f68a,#f3f68a,#f3f68a,#f3f68a,#f3f68a,#f3f68a,#f3f68a,#f3f68a,#f3f68a,#f3f68a,#f3f68a,#f3f68a,#f3f68a,#f3f68a,#f3f68a)"></i><i style="background:linear-gradient(90deg,#f3f586,#f3f586,#f3f586,#f3f586,#f3f68a,#f3f68a,#f3f68a,#f3f68a,#f3f586,#f3f586,#f3f586,#f3f586,#f3f586,#f3f586,#f3f586,#f3f586,#f3f68a,#f3f68a,#f3f68a,#f3f68a,#f3f586,#f3f586,#f3f586,#f3f586)"></i><i style="background:linear-gradient(90deg,#f3f586,#f3f586,#f3f586,#f3f586,#f3f586,#f3f586,#f3f586,#f3f586,#f3f586,#f3f586,#f3f586,#f3f586,#f3f586,#f3f586,#f3f586,#f3f586,#f3f586,#f3f586,#f3f586,#f3f586,#f3f586,#f3f586,#f3f586,#f3f586)"></i><i style="background:linear-gradient(90deg,#f2f482,#f2f482,#f2f482,#f2f482,#f2f482,#f2f482,#f2f482,#f2f482,#f2f482,#f2f482,#f2f482,#f2f482,#f2f482,#f2f482,#f2f482,#f2f482,#f2f482,#f2f482,#f2f482,#f2f482,#f2f482,#f2f482,#f2f482,#f2f482)"></i><i style="background:linear-gradient(90deg,#f2f27d,#f2f27d,#f2f27d,#f2f27d,#f2f27d,#f2f27d,#f2f27d,#f2f27d,#f2f27d,#f2f27d,#f2f27d,#f2f27d,#f2f27d,#f2f27d,#f2f27d,#f2f27d,#f2f27d,#f2f27d,#f2f27d,#f2f27d,#f2f27d,#f2f27d,#f2f27d,#f2f27d)"></i><i style="background:linear-gradient(90deg,#f1f179,#f1f179,#f1f179,#f1f179,#f1f179,#f1f179,#f1f179,#f1f179,#f1f179,#f1f179,#f1f179,#f1f179,#f1f179,#f1f179,#f1f179,#f1f179,#f1f179,#f1f179,#f1f179,#f1f179,#f1f179,#f1f179,#f1f179,#f1f179)"></i><i style="background:linear-gradient(90deg,#f1ef75,#f1ef75,#f1ef75,#f1ef75,#f1ef75,#f1ef75,#f1ef75,#f1ef75,#f1ef75,#f1ef75,#f1ef75,#f1ef75,#f1ef75,#f1ef75,#f1ef75,#f1ef75,#f1ef75,#f1ef75,#f1ef75,#f1ef75,#f1ef75,#f1ef75,#f1ef75,#f1ef75)"></i><i style="background:linear-gradient(90deg,#f1ec6d,#f1ec6d,#f1ec6d,#f1ec6d,#f1ec6d,#f1ec6d,#f1ec6d,#f1ec6d,#f1ec6d,#f1ec6d,#f1ec6d,#f1ec6d,#f1ec6d,#f1ec6d,#f1ec6d,#f1ec6d,#f1ec6d,#f1ec6d,#f1ec6d,#f1ec6d,#f1ec6d,#f1ec6d,#f1ec6d,#f1ec6d)"></i><i style="background:linear-gradient(90deg,#f2e865,#f2e865,#f2e865,#f2e865,#f2e865,#f2e865,#f2e865,#f2e865,#f2e865,#f2e865,#f2e865,#f2e865,#f2e865,#f2e865,#f2e865,#f2e865,#f2e865,#f2e865,#f2e865,#f2e865,#f2e865,#f2e865,#f2e865,#f2e865)"></i><i style="background:linear-gradient(90deg,#f3e55d,#f3e55d,#f3e55d,#f3e55d,#f3e55d,#f3e55d,#f3e55d,#f3e55d,#f3e55d,#f3e55d,#f3e55d,#f3e55d,#f3e55d,#f3e55d,#f3e55d,#f3e55d,#f3e55d,#f3e55d,#f3e55d,#f3e55d,#f3e55d,#f3e55d,#f3e55d,#f3e55d)"></i><i style="background:linear-gradient(90deg,#f4e156,#f4e156,#f4e156,#f4e156,#f4e156,#f4e156,#f4e156,#f4e156,#f4e156,#f4e156,#f4e156,#f4e156,#f4e156,#f4e156,#f4e156,#f4e156,#f4e156,#f4e156,#f4e156,#f4e156,#f4e156,#f4e156,#f4e156,#f4e156)"></i><i style="background:linear-gradient(90deg,#f5db4c,#f5db4c,#f5db4c,#f5db4c,#f5db4c,#f5db4c,#f5db4c,#f5db4c,#f5db4c,#f5db4c,#f5db4c,#f5db4c,#f5db4c,#f5db4c,#f5db4c,#f5db4c,#f5db4c,#f5db4c,#f5db4c,#f5db4c,#f5db4c,#f5db4c,#f5db4c,#f5db4c)"></i><i style="background:linear-gradient(90deg,#f6d543,#f6d543,#f6d543,#f6d543,#f6d543,#f6d543,#f6d543,#f6d543,#f6d543,#f6d543,#f6d543,#f6d543,#f6d543,#f6d543,#f6d543,#f6d543,#f6d543,#f6d543,#f6d543,#f6d543,#f6d543,#f6d543,#f6d543,#f6d543)"></i><i style="background:linear-gradient(90deg,#f8cf3a,#f8cf3a,#f8cf3a,#f8cf3a,#f8cf3a,#f8cf3a,#f8cf3a,#f8cf3a,#f8cf3a,#f8cf3a,#f8cf3a,#f8cf3a,#f8cf3a,#f8cf3a,#f8cf3a,#f8cf3a,#f8cf3a,#f8cf3a,#f8cf3a,#f8cf3a,#f8cf3a,#f8cf3a,#f8cf3a,#f8cf3a)"></i><i style="background:linear-gradient(90deg,#f9c72f,#f9c72f,#f9c72f,#f9c72f,#f9c72f,#f9c72f,#f9c72f,#f9c72f,#f9c72f,#f9c72f,#f9c72f,#f9c72f,#f9c72f,#f9c72f,#f9c72f,#f9c72f,#f9c72f,#f9c72f,#f9c72f,#f9c72f,#f9c72f,#f9c72f,#f9c72f,#f9c72f)"></i><i style="background:linear-gradient(90deg,#fbbe23,#fbbe23,#fbbe23,#fbbe23,#fbbe23,#fbbe23,#fbbe23,#fbbe23,#fbbe23,#fbbe23,#fbbe23,#fbbe23,#fbbe23,#fbbe23,#fbbe23,#fbbe23,#fbbe23,#fbbe23,#fbbe23,#fbbe23,#fbbe23,#fbbe23,#fbbe23,#fbbe23)"></i><i style="background:linear-gradient(90deg,#fcb216,#fcb216,#fcb216,#fcb216,#fcb216,#fcb216,#fcb216,#fcb216,#fcb216,#fcb216,#fcb216,#fcb216,#fcb216,#fcb216,#fcb216,#fcb216,#fcb216,#fcb216,#fcb216,#fcb216,#fcb216,#fcb216,#fcb216,#fcb216)"></i><i style="background:linear-gradient(90deg,#fca60c,#fca60c,#fca60c,#fca60c,#fca60c,#fca60c,#fca60c,#fca60c,#fca60c,#fca60c,#fca60c,#fca60c,#fca60c,#fca60c,#fca60c,#fca60c,#fca60c,#fca60c,#fca60c,#fca60c,#fca60c,#fca60c,#fca60c,#fca60c)"></i><i style="background:linear-gradient(90deg,#fb9906,#fb9906,#fb9906,#fb9906,#fb9906,#fb9906,#fb9906,#fb9906,#fb9906,#fb9906,#fb9906,#fb9906,#fb9906,#fb9906,#fb9906,#fb9906,#fb9906,#fb9906,#fb9906,#fb9906,#fb9906,#fb9906,#fb9906,#fb9906)"></i><i style="background:linear-gradient(90deg,#f98b0b,#f98b0b,#f98b0b,#f98b0b,#f98b0b,#f98b0b,#f98b0b,#f98b0b,#f98b0b,#f98b0b,#f98b0b,#f98b0b,#f98b0b,#f98b0b,#f98b0b,#f98b0b,#f98b0b,#f98b0b,#f98b0b,#f98b0b,#f98b0b,#f98b0b,#f98b0b,#f98b0b)"></i><i style="background:linear-gradient(90deg,#f57b17,#f57b17,#f57b17,#f57b17,#f57b17,#f57b17,#f57b17,#f57b17,#f57b17,#f57b17,#f57b17,#f57b17,#f57b17,#f57b17,#f57b17,#f57b17,#f57b17,#f57b17,#f57b17,#f57b17,#f57b17,#f57b17,#f57b17,#f57b17)"></i><i style="background:linear-gradient(90deg,#ee6a24,#ee6a24,#ee6a24,#ee6a24,#ee6a24,#ee6a24,#ee6a24,#ee6a24,#ee6a24,#ee6a24,#ee6a24,#ee6a24,#ee6a24,#ee6a24,#ee6a24,#ee6a24,#ee6a24,#ee6a24,#ee6a24,#ee6a24,#ee6a24,#ee6a24,#ee6a24,#ee6a24)"></i><i style="background:linear-gradient(90deg,#e45a31,#e45a31,#e45a31,#e45a31,#e45a31,#e45a31,#e45a31,#e45a31,#e45a31,#e45a31,#e45a31,#e45a31,#e45a31,#e45a31,#e45a31,#e45a31,#e45a31,#e45a31,#e45a31,#e45a31,#e45a31,#e45a31,#e45a31,#e45a31)"></i><i style="background:linear-gradient(90deg,#d54a41,#d54a41,#d54a41,#d54a41,#d54a41,#d54a41,#d54a41,#d54a41,#d54a41,#d54a41,#d54a41,#d54a41,#d54a41,#d54a41,#d54a41,#d54a41,#d54a41,#d54a41,#d54a41,#d54a41,#d54a41,#d54a41,#d54a41,#d54a41)"></i><i style="background:linear-gradient(90deg,#c33b4f,#c33b4f,#c33b4f,#c33b4f,#c33b4f,#c33b4f,#c33b4f,#c33b4f,#c33b4f,#c33b4f,#c33b4f,#c33b4f,#c33b4f,#c33b4f,#c33b4f,#c33b4f,#c33b4f,#c33b4f,#c33b4f,#c33b4f,#c33b4f,#c33b4f,#c33b4f,#c33b4f)"></i><i style="background:linear-gradient(90deg,#ae305c,#ae305c,#ae305c,#ae305c,#ae305c,#ae305c,#ae305c,#ae305c,#ae305c,#ae305c,#ae305c,#ae305c,#ae305c,#ae305c,#ae305c,#ae305c,#ae305c,#ae305c,#ae305c,#ae305c,#ae305c,#ae305c,#ae305c,#ae305c)"></i><i style="background:linear-gradient(90deg,#952667,#952667,#952667,#952667,#952667,#952667,#952667,#952667,#952667,#952667,#952667,#952667,#952667,#952667,#952667,#952667,#952667,#952667,#952667,#952667,#952667,#952667,#952667,#952667)"></i><i style="background:linear-gradient(90deg,#781c6d,#781c6d,#781c6d,#781c6d,#781c6d,#781c6d,#781c6d,#781c6d,#781c6d,#781c6d,#781c6d,#781c6d,#781c6d,#781c6d,#781c6d,#781c6d,#781c6d,#781c6d,#781c6d,#781c6d,#781c6d,#781c6d,#781c6d,#781c6d)"></i><i style="background:linear-gradient(90deg,#5c126e,#5c126e,#5c126e,#5c126e,#5c126e,#5c126e,#5c126e,#5c126e,#5c126e,#5c126e,#5c126e,#5c126e,#5c126e,#5c126e,#5c126e,#5c126e,#5c126e,#5c126e,#5c126e,#5c126e,#5c126e,#5c126e,#5c126e,#5c126e)"></i><i style="background:linear-gradient(90deg,#3e0966,#3e0966,#3e0966,#3e0966,#3e0966,#3e0966,#3e0966,#3e0966,#3e0966,#3e0966,#3e0966,#3e0966,#3e0966,#3e0966,#3e0966,#3e0966,#3e0966,#3e0966,#3e0966,#3e0966,#3e0966,#3e0966,#3e0966,#3e0966)"></i><i style="background:linear-gradient(90deg,#1c0c43,#1c0c43,#1c0c43,#1c0c43,#1c0c43,#1c0c43,#1c0c43,#1c0c43,#1c0c43,#1c0c43,#1c0c43,#1c0c43,#1c0c43,#1c0c43,#1c0c43,#1c0c43,#1c0c43,#1c0c43,#1c0c43,#1c0c43,#1c0c43,#1c0c43,#1c0c43,#1c0c43)"></i><i style="background:linear-gradient(90deg,#040314,#040314,#040314,#040314,#040314,#040314,#040314,#040314,#040314,#040314,#040314,#040314,#040314,#040314,#040314,#040314,#040314,#040314,#040314,#040314,#040314,#040314,#040314,#040314)"></i></div>
<div class="hm" style="left:39.50px;top:179.00px;width:143.10px;height:134.10px"><i style="background:linear-gradient(90deg,#ecf2f5,#ecf2f5,#ecf2f5,#ecf2f5,#ecf2f5,#ecf2f5,#ecf2f5,#ecf2f5,#ecf2f5,#ecf2f5,#ecf2f5,#ecf2f5,#eaf1f5,#eaf1f5,#eaf1f5,#eaf1f5,#eaf1f5,#eaf1f5,#eaf1f5,#eaf1f5,#eaf1f5,#eaf1f5,#eaf1f5,#eaf1f5,#eaf1f5,#eaf1f5,#eaf1f5,#eaf1f5,#ecf2f5,#ecf2f5,#ecf2f5,#ecf2f5,#ecf2f5,#ecf2f5,#ecf2f5,#ecf2f5,#ecf2f5,#ecf2f5,#ecf2f5,#ecf2f5)"></i><i style="background:linear-gradient(90deg,#ecf2f5,#ecf2f5,#ecf2f5,#ecf2f5,#eaf1f5,#eaf1f5,#eaf1f5,#eaf1f5,#eaf1f5,#eaf1f5,#eaf1f5,#eaf1f5,#eaf1f5,#eaf1f5,#eaf1f5,#eaf1f5,#e9f0f4,#e9f0f4,#e9f0f4,#e9f0f4,#e9f0f4,#e9f0f4,#e9f0f4,#e9f0f4,#eaf1f5,#eaf1f5,#eaf1f5,#eaf1f5,#eaf1f5,#eaf1f5,#eaf1f5,#eaf1f5,#eaf1f5,#eaf1f5,#eaf1f5,#eaf1f5,#ecf2f5,#ecf2f5,#ecf2f5,#ecf2f5)"></i><i style="background:linear-gradient(90deg,#ecf2f5,#ecf2f5,#eaf1f5,#eaf1f5,#eaf1f5,#eaf1f5,#eaf1f5,#eaf1f5,#e9f0f4,#e9f0f4,#e9f0f4,#e9f0f4,#e9f0f4,#e9f0f4,#e9f0f4,#e9f0f4,#e7f0f4,#e7f0f4,#e7f0f4,#e7f0f4,#e7f0f4,#e7f0f4,#e7f0f4,#e7f0f4,#e9f0f4,#e9f0f4,#e9f0f4,#e9f0f4,#e9f0f4,#e9f0f4,#e9f0f4,#e9f0f4,#eaf1f5,#eaf1f5,#eaf1f5,#eaf1f5,#eaf1f5,#eaf1f5,#ecf2f5,#ecf2f5)"></i><i style="background:linear-gradient(90deg,#ecf2f5,#eaf1f5,#eaf1f5,#eaf1f5,#eaf1f5,#eaf1f5,#e9f0f4,#e9f0f4,#e9f0f4,#e9f0f4,#e7f0f4,#e7f0f4,#e7f0f4,#e7f0f4,#e7f0f4,#e7f0f4,#e6eff4,#e6eff4,#e6eff4,#e6eff4,#e6eff4,#e6eff4,#e6eff4,#e6eff4,#e7f0f4,#e7f0f4,#e7f0f4,#e7f0f4,#e7f0f4,#e7f0f4,#e9f0f4,#e9f0f4,#e9f0f4,#e9f0f4,#eaf1f5,#eaf1f5,#eaf1f5,#eaf1f5,#eaf1f5,#ecf2f5)"></i><i style="background:linear-gradient(90deg,#ecf2f5,#eaf1f5,#eaf1f5,#eaf1f5,#e9f0f4,#e9f0f4,#e9f0f4,#e9f0f4,#e7f0f4,#e7f0f4,#e7f0f4,#e6eff4,#e6eff4,#e6eff4,#e6eff4,#e6eff4,#e4eef4,#e4eef4,#e4eef4,#e4eef4,#e4eef4,#e4eef4,#e4eef4,#e4eef4,#e6eff4,#e6eff4,#e6eff4,#e6eff4,#e6eff4,#e7f0f4,#e7f0f4,#e7f0f4,#e9f0f4,#e9f0f4,#e9f0f4,#e9f0f4,#eaf1f5,#eaf1f5,#eaf1f5,#ecf2f5)"></i><i style="background:linear-gradient(90deg,#eaf1f5,#eaf1f5,#eaf1f5,#e9f0f4,#e9f0f4,#e9f0f4,#e7f0f4,#e7f0f4,#e7f0f4,#e6eff4,#e6eff4,#e6eff4,#e4eef4,#e4eef4,#e4eef4,#e4eef4,#e3edf3,#e3edf3,#e3edf3,#e3edf3,#e3edf3,#e3edf3,#e3edf3,#e3edf3,#e4eef4,#e4eef4,#e4eef4,#e4eef4,#e6eff4,#e6eff4,#e6eff4,#e7f0f4,#e7f0f4,#e7f0f4,#e9f0f4,#e9f0f4,#e9f0f4,#eaf1f5,#eaf1f5,#eaf1f5)"></i><i style="background:linear-gradient(90deg,#eaf1f5,#eaf1f5,#eaf1f5,#e9f0f4,#e9f0f4,#e7f0f4,#e7f0f4,#e6eff4,#e6eff4,#e6eff4,#e4eef4,#e4eef4,#e3edf3,#e3edf3,#e3edf3,#e3edf3,#e1edf3,#e1edf3,#e1edf3,#e1edf3,#e1edf3,#e1edf3,#e1edf3,#e1edf3,#e3edf3,#e3edf3,#e3edf3,#e3edf3,#e4eef4,#e4eef4,#e6eff4,#e6eff4,#e6eff4,#e7f0f4,#e7f0f4,#e9f0f4,#e9f0f4,#eaf1f5,#eaf1f5,#eaf1f5)"></i><i style="background:linear-gradient(90deg,#eaf1f5,#eaf1f5,#e9f0f4,#e9f0f4,#e7f0f4,#e7f0f4,#e6eff4,#e6eff4,#e4eef4,#e4eef4,#e3edf3,#e3edf3,#e3edf3,#e1edf3,#e1edf3,#e0ecf3,#e0ecf3,#e0ecf3,#e0ecf3,#e0ecf3,#e0ecf3,#e0ecf3,#e0ecf3,#e0ecf3,#e0ecf3,#e1edf3,#e1edf3,#e3edf3,#e3edf3,#e3edf3,#e4eef4,#e4eef4,#e6eff4,#e6eff4,#e7f0f4,#e7f0f4,#e9f0f4,#e9f0f4,#eaf1f5,#eaf1f5)"></i><i style="background:linear-gradient(90deg,#eaf1f5,#eaf1f5,#e9f0f4,#e9f0f4,#e7f0f4,#e6eff4,#e6eff4,#e4eef4,#e4eef4,#e3edf3,#e3edf3,#e1edf3,#e1edf3,#e0ecf3,#e0ecf3,#deebf2,#deebf2,#deebf2,#deebf2,#deebf2,#deebf2,#deebf2,#deebf2,#deebf2,#deebf2,#e0ecf3,#e0ecf3,#e1edf3,#e1edf3,#e3edf3,#e3edf3,#e4eef4,#e4eef4,#e6eff4,#e6eff4,#e7f0f4,#e9f0f4,#e9f0f4,#eaf1f5,#eaf1f5)"></i><i style="background:linear-gradient(90deg,#eaf1f5,#e9f0f4,#e9f0f4,#e7f0f4,#e7f0f4,#e6eff4,#e4eef4,#e4eef4,#e3edf3,#e1edf3,#e1edf3,#e0ecf3,#e0ecf3,#deebf2,#deebf2,#ddebf2,#ddebf2,#ddebf2,#dbeaf2,#dbeaf2,#dbeaf2,#dbeaf2,#ddebf2,#ddebf2,#ddebf2,#deebf2,#deebf2,#e0ecf3,#e0ecf3,#e1edf3,#e1edf3,#e3edf3,#e4eef4,#e4eef4,#e6eff4,#e7f0f4,#e7f0f4,#e9f0f4,#e9f0f4,#eaf1f5)"></i><i style="background:linear-gradient(90deg,#eaf1f5,#e9f0f4,#e9f0f4,#e7f0f4,#e6eff4,#e6eff4,#e4eef4,#e3edf3,#e1edf3,#e1edf3,#e0ecf3,#deebf2,#deebf2,#ddebf2,#dbeaf2,#dbeaf2,#dbeaf2,#dae9f2,#dae9f2,#dae9f2,#dae9f2,#dae9f2,#dae9f2,#dbeaf2,#dbeaf2,#dbeaf2,#ddebf2,#deebf2,#deebf2,#e0ecf3,#e1edf3,#e1edf3,#e3edf3,#e4eef4,#e6eff4,#e6eff4,#e7f0f4,#e9f0f4,#e9f0f4,#eaf1f5)"></i><i style="background:linear-gradient(90deg,#eaf1f5,#e9f0f4,#e7f0f4,#e7f0f4,#e6eff4,#e4eef4,#e3edf3,#e1edf3,#e1edf3,#e0ecf3,#deebf2,#ddebf2,#ddebf2,#dbeaf2,#dae9f2,#dae9f2,#d8e9f1,#d8e9f1,#d8e9f1,#d8e9f1,#d8e9f1,#d8e9f1,#d8e9f1,#d8e9f1,#dae9f2,#dae9f2,#dbeaf2,#ddebf2,#ddebf2,#deebf2,#e0ecf3,#e1edf3,#e1edf3,#e3edf3,#e4eef4,#e6eff4,#e7f0f4,#e7f0f4,#e9f0f4,#eaf1f5)"></i><i style="background:linear-gradient(90deg,#eaf1f5,#e9f0f4,#e7f0f4,#e6eff4,#e4eef4,#e4eef4,#e3edf3,#e1edf3,#e0ecf3,#deebf2,#ddebf2,#dbeaf2,#dbeaf2,#dae9f2,#d8e9f1,#d8e9f1,#d7e8f1,#d7e8f1,#d7e8f1,#d5e7f1,#d5e7f1,#d7e8f1,#d7e8f1,#d7e8f1,#d8e9f1,#d8e9f1,#dae9f2,#dbeaf2,#dbeaf2,#ddebf2,#deebf2,#e0ecf3,#e1edf3,#e3edf3,#e4eef4,#e4eef4,#e6eff4,#e7f0f4,#e9f0f4,#eaf1f5)"></i><i style="background:linear-gradient(90deg,#eaf1f5,#e9f0f4,#e7f0f4,#e6eff4,#e4eef4,#e3edf3,#e1edf3,#e0ecf3,#deebf2,#ddebf2,#dbeaf2,#dae9f2,#d8e9f1,#d8e9f1,#d7e8f1,#d5e7f1,#d5e7f1,#d4e6f1,#d4e6f1,#d4e6f1,#d4e6f1,#d4e6f1,#d4e6f1,#d5e7f1,#d5e7f1,#d7e8f1,#d8e9f1,#d8e9f1,#dae9f2,#dbeaf2,#ddebf2,#deebf2,#e0ecf3,#e1edf3,#e3edf3,#e4eef4,#e6eff4,#e7f0f4,#e9f0f4,#eaf1f5)"></i><i style="background:linear-gradient(90deg,#eaf1f5,#e9f0f4,#e7f0f4,#e6eff4,#e4eef4,#e1edf3,#e0ecf3,#deebf2,#ddebf2,#dbeaf2,#dae9f2,#d8e9f1,#d7e8f1,#d5e7f1,#d5e7f1,#d4e6f1,#d2e6f0,#d2e6f0,#d2e6f0,#d2e6f0,#d2e6f0,#d2e6f0,#d2e6f0,#d2e6f0,#d4e6f1,#d5e7f1,#d5e7f1,#d7e8f1,#d8e9f1,#dae9f2,#dbeaf2,#ddebf2,#deebf2,#e0ecf3,#e1edf3,#e4eef4,#e6eff4,#e7f0f4,#e9f0f4,#eaf1f5)"></i><i style="background:linear-gradient(90deg,#eaf1f5,#e7f0f4,#e6eff4,#e4eef4,#e3edf3,#e1edf3,#e0ecf3,#deebf2,#ddebf2,#dae9f2,#d8e9f1,#d7e8f1,#d5e7f1,#d4e6f1,#d2e6f0,#d2e6f0,#d1e5f0,#d1e5f0,#cfe4ef,#cfe4ef,#cfe4ef,#cfe4ef,#d1e5f0,#d1e5f0,#d2e6f0,#d2e6f0,#d4e6f1,#d5e7f1,#d7e8f1,#d8e9f1,#dae9f2,#ddebf2,#deebf2,#e0ecf3,#e1edf3,#e3edf3,#e4eef4,#e6eff4,#e7f0f4,#eaf1f5)"></i><i style="background:linear-gradient(90deg,#eaf1f5,#e7f0f4,#e6eff4,#e4eef4,#e3edf3,#e0ecf3,#deebf2,#ddebf2,#dbeaf2,#d8e9f1,#d7e8f1,#d5e7f1,#d4e6f1,#d2e6f0,#d1e5f0,#cfe4ef,#cfe4ef,#cce2ef,#cce2ef,#cce2ef,#cce2ef,#cce2ef,#cce2ef,#cfe4ef,#cfe4ef,#d1e5f0,#d2e6f0,#d4e6f1,#d5e7f1,#d7e8f1,#d8e9f1,#dbeaf2,#ddebf2,#deebf2,#e0ecf3,#e3edf3,#e4eef4,#e6eff4,#e7f0f4,#eaf1f5)"></i><i style="background:linear-gradient(90deg,#e9f0f4,#e7f0f4,#e6eff4,#e3edf3,#e1edf3,#e0ecf3,#deebf2,#dbeaf2,#dae9f2,#d8e9f1,#d5e7f1,#d4e6f1,#d2e6f0,#d1e5f0,#cfe4ef,#cce2ef,#cae1ee,#cae1ee,#c7e0ed,#c7e0ed,#c7e0ed,#c7e0ed,#cae1ee,#cae1ee,#cce2ef,#cfe4ef,#d1e5f0,#d2e6f0,#d4e6f1,#d5e7f1,#d8e9f1,#dae9f2,#dbeaf2,#deebf2,#e0ecf3,#e1edf3,#e3edf3,#e6eff4,#e7f0f4,#e9f0f4)"></i><i style="background:linear-gradient(90deg,#e9f0f4,#e7f0f4,#e4eef4,#e3edf3,#e1edf3,#deebf2,#ddebf2,#dae9f2,#d8e9f1,#d7e8f1,#d4e6f1,#d2e6f0,#d1e5f0,#cce2ef,#cae1ee,#c7e0ed,#c7e0ed,#c5dfec,#c5dfec,#c5dfec,#c5dfec,#c5dfec,#c5dfec,#c7e0ed,#c7e0ed,#cae1ee,#cce2ef,#d1e5f0,#d2e6f0,#d4e6f1,#d7e8f1,#d8e9f1,#dae9f2,#ddebf2,#deebf2,#e1edf3,#e3edf3,#e4eef4,#e7f0f4,#e9f0f4)"></i><i style="background:linear-gradient(90deg,#e9f0f4,#e6eff4,#e4eef4,#e3edf3,#e0ecf3,#deebf2,#dbeaf2,#dae9f2,#d7e8f1,#d5e7f1,#d2e6f0,#d1e5f0,#cce2ef,#cae1ee,#c7e0ed,#c5dfec,#c2ddec,#c2ddec,#c0dceb,#c0dceb,#c0dceb,#c0dceb,#c2ddec,#c2ddec,#c5dfec,#c7e0ed,#cae1ee,#cce2ef,#d1e5f0,#d2e6f0,#d5e7f1,#d7e8f1,#dae9f2,#dbeaf2,#deebf2,#e0ecf3,#e3edf3,#e4eef4,#e6eff4,#e9f0f4)"></i><i style="background:linear-gradient(90deg,#e9f0f4,#e6eff4,#e4eef4,#e1edf3,#e0ecf3,#ddebf2,#dae9f2,#d8e9f1,#d5e7f1,#d4e6f1,#d1e5f0,#cce2ef,#cae1ee,#c7e0ed,#c5dfec,#c0dceb,#c0dceb,#bddbea,#bddbea,#bbdaea,#bbdaea,#bddbea,#bddbea,#c0dceb,#c0dceb,#c5dfec,#c7e0ed,#cae1ee,#cce2ef,#d1e5f0,#d4e6f1,#d5e7f1,#d8e9f1,#dae9f2,#ddebf2,#e0ecf3,#e1edf3,#e4eef4,#e6eff4,#e9f0f4)"></i><i style="background:linear-gradient(90deg,#e9f0f4,#e6eff4,#e3edf3,#e1edf3,#deebf2,#dbeaf2,#dae9f2,#d7e8f1,#d4e6f1,#d2e6f0,#cfe4ef,#cae1ee,#c7e0ed,#c2ddec,#c0dceb,#bddbea,#bbdaea,#b8d8e9,#b8d8e9,#b8d8e9,#b8d8e9,#b8d8e9,#b8d8e9,#bbdaea,#bddbea,#c0dceb,#c2ddec,#c7e0ed,#cae1ee,#cfe4ef,#d2e6f0,#d4e6f1,#d7e8f1,#dae9f2,#dbeaf2,#deebf2,#e1edf3,#e3edf3,#e6eff4,#e9f0f4)"></i><i style="background:linear-gradient(90deg,#e9f0f4,#e6eff4,#e3edf3,#e0ecf3,#deebf2,#dbeaf2,#d8e9f1,#d5e7f1,#d2e6f0,#cfe4ef,#cce2ef,#c7e0ed,#c2ddec,#c0dceb,#bbdaea,#b8d8e9,#b6d7e8,#b6d7e8,#b3d6e8,#b3d6e8,#b3d6e8,#b3d6e8,#b6d7e8,#b6d7e8,#b8d8e9,#bbdaea,#c0dceb,#c2ddec,#c7e0ed,#cce2ef,#cfe4ef,#d2e6f0,#d5e7f1,#d8e9f1,#dbeaf2,#deebf2,#e0ecf3,#e3edf3,#e6eff4,#e9f0f4)"></i><i style="background:linear-gradient(90deg,#e9f0f4,#e6eff4,#e3edf3,#e0ecf3,#ddebf2,#dae9f2,#d7e8f1,#d4e6f1,#d1e5f0,#cce2ef,#c7e0ed,#c5dfec,#c0dceb,#bbdaea,#b8d8e9,#b6d7e8,#b3d6e8,#b1d5e7,#aed3e6,#aed3e6,#aed3e6,#aed3e6,#b1d5e7,#b3d6e8,#b6d7e8,#b8d8e9,#bbdaea,#c0dceb,#c5dfec,#c7e0ed,#cce2ef,#d1e5f0,#d4e6f1,#d7e8f1,#dae9f2,#ddebf2,#e0ecf3,#e3edf3,#e6eff4,#e9f0f4)"></i><i style="background:linear-gradient(90deg,#e9f0f4,#e4eef4,#e1edf3,#deebf2,#dbeaf2,#dae9f2,#d5e7f1,#d2e6f0,#cfe4ef,#cae1ee,#c5dfec,#c0dceb,#bddbea,#b8d8e9,#b3d6e8,#b1d5e7,#aed3e6,#acd2e5,#acd2e5,#a9d1e5,#a9d1e5,#acd2e5,#acd2e5,#aed3e6,#b1d5e7,#b3d6e8,#b8d8e9,#bddbea,#c0dceb,#c5dfec,#cae1ee,#cfe4ef,#d2e6f0,#d5e7f1,#dae9f2,#dbeaf2,#deebf2,#e1edf3,#e4eef4,#e9f0f4)"></i><i style="background:linear-gradient(90deg,#e9f0f4,#e4eef4,#e1edf3,#deebf2,#dbeaf2,#d8e9f1,#d5e7f1,#d2e6f0,#cce2ef,#c7e0ed,#c2ddec,#bddbea,#b8d8e9,#b3d6e8,#b1d5e7,#acd2e5,#a9d1e5,#a7d0e4,#a7d0e4,#a5cee3,#a5cee3,#a7d0e4,#a7d0e4,#a9d1e5,#acd2e5,#b1d5e7,#b3d6e8,#b8d8e9,#bddbea,#c2ddec,#c7e0ed,#cce2ef,#d2e6f0,#d5e7f1,#d8e9f1,#dbeaf2,#deebf2,#e1edf3,#e4eef4,#e9f0f4)"></i><i style="background:linear-gradient(90deg,#e7f0f4,#e4eef4,#e1edf3,#ddebf2,#dae9f2,#d7e8f1,#d4e6f1,#d1e5f0,#cae1ee,#c5dfec,#c0dceb,#bbdaea,#b6d7e8,#b1d5e7,#acd2e5,#a9d1e5,#a5cee3,#a2cde3,#a2cde3,#a0cce2,#a0cce2,#a2cde3,#a2cde3,#a5cee3,#a9d1e5,#acd2e5,#b1d5e7,#b6d7e8,#bbdaea,#c0dceb,#c5dfec,#cae1ee,#d1e5f0,#d4e6f1,#d7e8f1,#dae9f2,#ddebf2,#e1edf3,#e4eef4,#e7f0f4)"></i><i style="background:linear-gradient(90deg,#e7f0f4,#e4eef4,#e0ecf3,#ddebf2,#dae9f2,#d5e7f1,#d2e6f0,#cfe4ef,#c7e0ed,#c2ddec,#bbdaea,#b6d7e8,#b1d5e7,#acd2e5,#a7d0e4,#a5cee3,#a0cce2,#9dcbe1,#9dcbe1,#9dcbe1,#9dcbe1,#9dcbe1,#9dcbe1,#a0cce2,#a5cee3,#a7d0e4,#acd2e5,#b1d5e7,#b6d7e8,#bbdaea,#c2ddec,#c7e0ed,#cfe4ef,#d2e6f0,#d5e7f1,#dae9f2,#ddebf2,#e0ecf3,#e4eef4,#e7f0f4)"></i><i style="background:linear-gradient(90deg,#e7f0f4,#e3edf3,#e0ecf3,#ddebf2,#d8e9f1,#d5e7f1,#d1e5f0,#cce2ef,#c5dfec,#c0dceb,#b8d8e9,#b3d6e8,#acd2e5,#a7d0e4,#a2cde3,#a0cce2,#9dcbe1,#9bc9e0,#98c8e0,#96c7df,#96c7df,#98c8e0,#9bc9e0,#9dcbe1,#a0cce2,#a2cde3,#a7d0e4,#acd2e5,#b3d6e8,#b8d8e9,#c0dceb,#c5dfec,#cce2ef,#d1e5f0,#d5e7f1,#d8e9f1,#ddebf2,#e0ecf3,#e3edf3,#e7f0f4)"></i><i style="background:linear-gradient(90deg,#e7f0f4,#e3edf3,#deebf2,#dbeaf2,#d7e8f1,#d4e6f1,#cfe4ef,#cae1ee,#c2ddec,#bbdaea,#b6d7e8,#aed3e6,#a9d1e5,#a5cee3,#a0cce2,#9bc9e0,#98c8e0,#96c7df,#93c6de,#90c4dd,#90c4dd,#93c6de,#96c7df,#98c8e0,#9bc9e0,#a0cce2,#a5cee3,#a9d1e5,#aed3e6,#b6d7e8,#bbdaea,#c2ddec,#cae1ee,#cfe4ef,#d4e6f1,#d7e8f1,#dbeaf2,#deebf2,#e3edf3,#e7f0f4)"></i><i style="background:linear-gradient(90deg,#e7f0f4,#e3edf3,#deebf2,#dae9f2,#d7e8f1,#d2e6f0,#cce2ef,#c7e0ed,#c0dceb,#b8d8e9,#b1d5e7,#acd2e5,#a5cee3,#a0cce2,#9bc9e0,#96c7df,#93c6de,#8dc2dc,#8dc2dc,#8ac0db,#8ac0db,#8dc2dc,#8dc2dc,#93c6de,#96c7df,#9bc9e0,#a0cce2,#a5cee3,#acd2e5,#b1d5e7,#b8d8e9,#c0dceb,#c7e0ed,#cce2ef,#d2e6f0,#d7e8f1,#dae9f2,#deebf2,#e3edf3,#e7f0f4)"></i><i style="background:linear-gradient(90deg,#e7f0f4,#e1edf3,#deebf2,#dae9f2,#d5e7f1,#d1e5f0,#cae1ee,#c5dfec,#bddbea,#b6d7e8,#aed3e6,#a7d0e4,#a0cce2,#9bc9e0,#96c7df,#90c4dd,#8dc2dc,#87beda,#87beda,#84bcd9,#84bcd9,#87beda,#87beda,#8dc2dc,#90c4dd,#96c7df,#9bc9e0,#a0cce2,#a7d0e4,#aed3e6,#b6d7e8,#bddbea,#c5dfec,#cae1ee,#d1e5f0,#d5e7f1,#dae9f2,#deebf2,#e1edf3,#e7f0f4)"></i><i style="background:linear-gradient(90deg,#e7f0f4,#e1edf3,#ddebf2,#d8e9f1,#d5e7f1,#d1e5f0,#cae1ee,#c0dceb,#b8d8e9,#b1d5e7,#a9d1e5,#a2cde3,#9dcbe1,#96c7df,#90c4dd,#8ac0db,#84bcd9,#81bad8,#7eb8d7,#7eb8d7,#7eb8d7,#7eb8d7,#81bad8,#84bcd9,#8ac0db,#90c4dd,#96c7df,#9dcbe1,#a2cde3,#a9d1e5,#b1d5e7,#b8d8e9,#c0dceb,#cae1ee,#d1e5f0,#d5e7f1,#d8e9f1,#ddebf2,#e1edf3,#e7f0f4)"></i><i style="background:linear-gradient(90deg,#e6eff4,#e1edf3,#ddebf2,#d8e9f1,#d4e6f1,#cfe4ef,#c7e0ed,#bddbea,#b6d7e8,#aed3e6,#a7d0e4,#a0cce2,#98c8e0,#90c4dd,#8ac0db,#84bcd9,#7eb8d7,#7bb6d6,#78b4d5,#78b4d5,#78b4d5,#78b4d5,#7bb6d6,#7eb8d7,#84bcd9,#8ac0db,#90c4dd,#98c8e0,#a0cce2,#a7d0e4,#aed3e6,#b6d7e8,#bddbea,#c7e0ed,#cfe4ef,#d4e6f1,#d8e9f1,#ddebf2,#e1edf3,#e6eff4)"></i><i style="background:linear-gradient(90deg,#e6eff4,#e1edf3,#dbeaf2,#d7e8f1,#d2e6f0,#cce2ef,#c5dfec,#bbdaea,#b3d6e8,#acd2e5,#a2cde3,#9bc9e0,#93c6de,#8ac0db,#84bcd9,#7eb8d7,#78b4d5,#75b2d4,#71b0d3,#6eaed2,#6eaed2,#71b0d3,#75b2d4,#78b4d5,#7eb8d7,#84bcd9,#8ac0db,#93c6de,#9bc9e0,#a2cde3,#acd2e5,#b3d6e8,#bbdaea,#c5dfec,#cce2ef,#d2e6f0,#d7e8f1,#dbeaf2,#e1edf3,#e6eff4)"></i><i style="background:linear-gradient(90deg,#e6eff4,#e0ecf3,#dbeaf2,#d7e8f1,#d1e5f0,#cae1ee,#c2ddec,#b8d8e9,#b1d5e7,#a7d0e4,#a0cce2,#96c7df,#8dc2dc,#84bcd9,#7eb8d7,#78b4d5,#71b0d3,#6bacd1,#6bacd1,#68abd0,#68abd0,#6bacd1,#6bacd1,#71b0d3,#78b4d5,#7eb8d7,#84bcd9,#8dc2dc,#96c7df,#a0cce2,#a7d0e4,#b1d5e7,#b8d8e9,#c2ddec,#cae1ee,#d1e5f0,#d7e8f1,#dbeaf2,#e0ecf3,#e6eff4)"></i><i style="background:linear-gradient(90deg,#e6eff4,#e0ecf3,#dae9f2,#d5e7f1,#d1e5f0,#c7e0ed,#c0dceb,#b6d7e8,#acd2e5,#a5cee3,#9bc9e0,#93c6de,#87beda,#7eb8d7,#78b4d5,#71b0d3,#6bacd1,#65a9cf,#62a7ce,#62a7ce,#62a7ce,#62a7ce,#65a9cf,#6bacd1,#71b0d3,#78b4d5,#7eb8d7,#87beda,#93c6de,#9bc9e0,#a5cee3,#acd2e5,#b6d7e8,#c0dceb,#c7e0ed,#d1e5f0,#d5e7f1,#dae9f2,#e0ecf3,#e6eff4)"></i><i style="background:linear-gradient(90deg,#e6eff4,#e0ecf3,#dae9f2,#d4e6f1,#cfe4ef,#c5dfec,#bddbea,#b3d6e8,#a9d1e5,#a0cce2,#96c7df,#8dc2dc,#84bcd9,#78b4d5,#71b0d3,#68abd0,#62a7ce,#5fa5cd,#5ca3cb,#59a1ca,#59a1ca,#5ca3cb,#5fa5cd,#62a7ce,#68abd0,#71b0d3,#78b4d5,#84bcd9,#8dc2dc,#96c7df,#a0cce2,#a9d1e5,#b3d6e8,#bddbea,#c5dfec,#cfe4ef,#d4e6f1,#dae9f2,#e0ecf3,#e6eff4)"></i><i style="background:linear-gradient(90deg,#e6eff4,#deebf2,#dae9f2,#d4e6f1,#cce2ef,#c2ddec,#bbdaea,#b1d5e7,#a7d0e4,#9dcbe1,#93c6de,#87beda,#7eb8d7,#71b0d3,#6bacd1,#62a7ce,#5ca3cb,#569fc9,#529dc8,#529dc8,#529dc8,#529dc8,#569fc9,#5ca3cb,#62a7ce,#6bacd1,#71b0d3,#7eb8d7,#87beda,#93c6de,#9dcbe1,#a7d0e4,#b1d5e7,#bbdaea,#c2ddec,#cce2ef,#d4e6f1,#dae9f2,#deebf2,#e6eff4)"></i><i style="background:linear-gradient(90deg,#e4eef4,#deebf2,#d8e9f1,#d2e6f0,#cae1ee,#c0dceb,#b6d7e8,#acd2e5,#a2cde3,#98c8e0,#8dc2dc,#81bad8,#78b4d5,#6bacd1,#62a7ce,#5ca3cb,#569fc9,#4f9bc7,#4c99c6,#4997c5,#4997c5,#4c99c6,#4f9bc7,#569fc9,#5ca3cb,#62a7ce,#6bacd1,#78b4d5,#81bad8,#8dc2dc,#98c8e0,#a2cde3,#acd2e5,#b6d7e8,#c0dceb,#cae1ee,#d2e6f0,#d8e9f1,#deebf2,#e4eef4)"></i><i style="background:linear-gradient(90deg,#e4eef4,#deebf2,#d8e9f1,#d2e6f0,#cae1ee,#c0dceb,#b3d6e8,#a9d1e5,#a0cce2,#96c7df,#8ac0db,#7eb8d7,#71b0d3,#65a9cf,#5ca3cb,#569fc9,#4c99c6,#4997c5,#4695c4,#4393c3,#4393c3,#4695c4,#4997c5,#4c99c6,#569fc9,#5ca3cb,#65a9cf,#71b0d3,#7eb8d7,#8ac0db,#96c7df,#a0cce2,#a9d1e5,#b3d6e8,#c0dceb,#cae1ee,#d2e6f0,#d8e9f1,#deebf2,#e4eef4)"></i><i style="background:linear-gradient(90deg,#e4eef4,#ddebf2,#d7e8f1,#d1e5f0,#c7e0ed,#bddbea,#b1d5e7,#a7d0e4,#9bc9e0,#90c4dd,#84bcd9,#78b4d5,#6bacd1,#5fa5cd,#569fc9,#4c99c6,#4695c4,#4291c2,#408fc1,#408fc1,#408fc1,#408fc1,#4291c2,#4695c4,#4c99c6,#569fc9,#5fa5cd,#6bacd1,#78b4d5,#84bcd9,#90c4dd,#9bc9e0,#a7d0e4,#b1d5e7,#bddbea,#c7e0ed,#d1e5f0,#d7e8f1,#ddebf2,#e4eef4)"></i><i style="background:linear-gradient(90deg,#e4eef4,#ddebf2,#d7e8f1,#cfe4ef,#c5dfec,#bbdaea,#aed3e6,#a5cee3,#98c8e0,#8dc2dc,#7eb8d7,#71b0d3,#65a9cf,#59a1ca,#4f9bc7,#4695c4,#4291c2,#3f8ec0,#3e8cbf,#3c8abe,#3c8abe,#3e8cbf,#3f8ec0,#4291c2,#4695c4,#4f9bc7,#59a1ca,#65a9cf,#71b0d3,#7eb8d7,#8dc2dc,#98c8e0,#a5cee3,#aed3e6,#bbdaea,#c5dfec,#cfe4ef,#d7e8f1,#ddebf2,#e4eef4)"></i><i style="background:linear-gradient(90deg,#e4eef4,#ddebf2,#d5e7f1,#cfe4ef,#c2ddec,#b8d8e9,#acd2e5,#a0cce2,#96c7df,#87beda,#7bb6d6,#6bacd1,#5fa5cd,#529dc8,#4997c5,#4291c2,#3f8ec0,#3c8abe,#3a87bd,#3a87bd,#3a87bd,#3a87bd,#3c8abe,#3f8ec0,#4291c2,#4997c5,#529dc8,#5fa5cd,#6bacd1,#7bb6d6,#87beda,#96c7df,#a0cce2,#acd2e5,#b8d8e9,#c2ddec,#cfe4ef,#d5e7f1,#ddebf2,#e4eef4)"></i><i style="background:linear-gradient(90deg,#e4eef4,#dbeaf2,#d5e7f1,#cce2ef,#c2ddec,#b6d7e8,#a9d1e5,#9dcbe1,#90c4dd,#84bcd9,#75b2d4,#65a9cf,#59a1ca,#4c99c6,#4393c3,#3f8ec0,#3b88be,#3885bc,#3783bb,#3681ba,#3681ba,#3783bb,#3885bc,#3b88be,#3f8ec0,#4393c3,#4c99c6,#59a1ca,#65a9cf,#75b2d4,#84bcd9,#90c4dd,#9dcbe1,#a9d1e5,#b6d7e8,#c2ddec,#cce2ef,#d5e7f1,#dbeaf2,#e4eef4)"></i><i style="background:linear-gradient(90deg,#e3edf3,#dbeaf2,#d4e6f1,#cae1ee,#c0dceb,#b3d6e8,#a7d0e4,#9bc9e0,#8dc2dc,#7eb8d7,#6eaed2,#62a7ce,#529dc8,#4695c4,#408fc1,#3c8abe,#3885bc,#3681ba,#3480b9,#337eb8,#337eb8,#3480b9,#3681ba,#3885bc,#3c8abe,#408fc1,#4695c4,#529dc8,#62a7ce,#6eaed2,#7eb8d7,#8dc2dc,#9bc9e0,#a7d0e4,#b3d6e8,#c0dceb,#cae1ee,#d4e6f1,#dbeaf2,#e3edf3)"></i><i style="background:linear-gradient(90deg,#e3edf3,#dbeaf2,#d4e6f1,#cae1ee,#bddbea,#b1d5e7,#a5cee3,#98c8e0,#8ac0db,#7bb6d6,#6bacd1,#5ca3cb,#4f9bc7,#4393c3,#3e8cbf,#3a87bd,#3681ba,#337eb8,#327cb7,#307ab6,#307ab6,#327cb7,#337eb8,#3681ba,#3a87bd,#3e8cbf,#4393c3,#4f9bc7,#5ca3cb,#6bacd1,#7bb6d6,#8ac0db,#98c8e0,#a5cee3,#b1d5e7,#bddbea,#cae1ee,#d4e6f1,#dbeaf2,#e3edf3)"></i><i style="background:linear-gradient(90deg,#e3edf3,#dae9f2,#d2e6f0,#c7e0ed,#bbdaea,#aed3e6,#a2cde3,#96c7df,#87beda,#78b4d5,#68abd0,#59a1ca,#4997c5,#408fc1,#3b88be,#3783bb,#3480b9,#327cb7,#2f79b5,#2e77b5,#2e77b5,#2f79b5,#327cb7,#3480b9,#3783bb,#3b88be,#408fc1,#4997c5,#59a1ca,#68abd0,#78b4d5,#87beda,#96c7df,#a2cde3,#aed3e6,#bbdaea,#c7e0ed,#d2e6f0,#dae9f2,#e3edf3)"></i><i style="background:linear-gradient(90deg,#e3edf3,#dae9f2,#d2e6f0,#c7e0ed,#bbdaea,#aed3e6,#a0cce2,#93c6de,#84bcd9,#71b0d3,#62a7ce,#529dc8,#4695c4,#3f8ec0,#3a87bd,#3681ba,#327cb7,#2f79b5,#2e77b5,#2c75b4,#2c75b4,#2e77b5,#2f79b5,#327cb7,#3681ba,#3a87bd,#3f8ec0,#4695c4,#529dc8,#62a7ce,#71b0d3,#84bcd9,#93c6de,#a0cce2,#aed3e6,#bbdaea,#c7e0ed,#d2e6f0,#dae9f2,#e3edf3)"></i><i style="background:linear-gradient(90deg,#e3edf3,#dae9f2,#d1e5f0,#c5dfec,#b8d8e9,#acd2e5,#9dcbe1,#90c4dd,#81bad8,#6eaed2,#5fa5cd,#4f9bc7,#4393c3,#3e8cbf,#3885bc,#3480b9,#307ab6,#2e77b5,#2b73b3,#2b73b3,#2b73b3,#2b73b3,#2e77b5,#307ab6,#3480b9,#3885bc,#3e8cbf,#4393c3,#4f9bc7,#5fa5cd,#6eaed2,#81bad8,#90c4dd,#9dcbe1,#acd2e5,#b8d8e9,#c5dfec,#d1e5f0,#dae9f2,#e3edf3)"></i><i style="background:linear-gradient(90deg,#e3edf3,#d8e9f1,#d1e5f0,#c5dfec,#b8d8e9,#a9d1e5,#9dcbe1,#8dc2dc,#7eb8d7,#6eaed2,#5fa5cd,#4f9bc7,#4291c2,#3c8abe,#3783bb,#337eb8,#2f79b5,#2c75b4,#2b73b3,#2a71b2,#2a71b2,#2b73b3,#2c75b4,#2f79b5,#337eb8,#3783bb,#3c8abe,#4291c2,#4f9bc7,#5fa5cd,#6eaed2,#7eb8d7,#8dc2dc,#9dcbe1,#a9d1e5,#b8d8e9,#c5dfec,#d1e5f0,#d8e9f1,#e3edf3)"></i><i style="background:linear-gradient(90deg,#e3edf3,#d8e9f1,#d1e5f0,#c2ddec,#b6d7e8,#a9d1e5,#9bc9e0,#8dc2dc,#7bb6d6,#6bacd1,#5ca3cb,#4c99c6,#408fc1,#3b88be,#3783bb,#327cb7,#2f79b5,#2c75b4,#2a71b2,#2a71b2,#2a71b2,#2a71b2,#2c75b4,#2f79b5,#327cb7,#3783bb,#3b88be,#408fc1,#4c99c6,#5ca3cb,#6bacd1,#7bb6d6,#8dc2dc,#9bc9e0,#a9d1e5,#b6d7e8,#c2ddec,#d1e5f0,#d8e9f1,#e3edf3)"></i><i style="background:linear-gradient(90deg,#e1edf3,#d8e9f1,#cfe4ef,#c2ddec,#b6d7e8,#a7d0e4,#9bc9e0,#8dc2dc,#7bb6d6,#6bacd1,#5ca3cb,#4c99c6,#408fc1,#3b88be,#3783bb,#327cb7,#2f79b5,#2c75b4,#2b73b3,#2a71b2,#2a71b2,#2b73b3,#2c75b4,#2f79b5,#327cb7,#3783bb,#3b88be,#408fc1,#4c99c6,#5ca3cb,#6bacd1,#7bb6d6,#8dc2dc,#9bc9e0,#a7d0e4,#b6d7e8,#c2ddec,#cfe4ef,#d8e9f1,#e1edf3)"></i><i style="background:linear-gradient(90deg,#e1edf3,#d8e9f1,#cfe4ef,#c2ddec,#b6d7e8,#a7d0e4,#9bc9e0,#8dc2dc,#7bb6d6,#6bacd1,#5ca3cb,#4c99c6,#4291c2,#3c8abe,#3783bb,#337eb8,#307ab6,#2e77b5,#2c75b4,#2b73b3,#2b73b3,#2c75b4,#2e77b5,#307ab6,#337eb8,#3783bb,#3c8abe,#4291c2,#4c99c6,#5ca3cb,#6bacd1,#7bb6d6,#8dc2dc,#9bc9e0,#a7d0e4,#b6d7e8,#c2ddec,#cfe4ef,#d8e9f1,#e1edf3)"></i><i style="background:linear-gradient(90deg,#e1edf3,#d8e9f1,#cfe4ef,#c2ddec,#b6d7e8,#a7d0e4,#9bc9e0,#8dc2dc,#7eb8d7,#6eaed2,#5fa5cd,#4f9bc7,#4393c3,#3e8cbf,#3a87bd,#3681ba,#327cb7,#307ab6,#2e77b5,#2e77b5,#2e77b5,#2e77b5,#307ab6,#327cb7,#3681ba,#3a87bd,#3e8cbf,#4393c3,#4f9bc7,#5fa5cd,#6eaed2,#7eb8d7,#8dc2dc,#9bc9e0,#a7d0e4,#b6d7e8,#c2ddec,#cfe4ef,#d8e9f1,#e1edf3)"></i><i style="background:linear-gradient(90deg,#e1edf3,#d8e9f1,#cfe4ef,#c2ddec,#b6d7e8,#a9d1e5,#9dcbe1,#90c4dd,#81bad8,#71b0d3,#62a7ce,#569fc9,#4997c5,#408fc1,#3c8abe,#3885bc,#3681ba,#337eb8,#327cb7,#327cb7,#327cb7,#327cb7,#337eb8,#3681ba,#3885bc,#3c8abe,#408fc1,#4997c5,#569fc9,#62a7ce,#71b0d3,#81bad8,#90c4dd,#9dcbe1,#a9d1e5,#b6d7e8,#c2ddec,#cfe4ef,#d8e9f1,#e1edf3)"></i><i style="background:linear-gradient(90deg,#e1edf3,#d8e9f1,#cfe4ef,#c2ddec,#b6d7e8,#a9d1e5,#9dcbe1,#93c6de,#84bcd9,#75b2d4,#68abd0,#5ca3cb,#4f9bc7,#4695c4,#408fc1,#3e8cbf,#3b88be,#3885bc,#3783bb,#3783bb,#3783bb,#3783bb,#3885bc,#3b88be,#3e8cbf,#408fc1,#4695c4,#4f9bc7,#5ca3cb,#68abd0,#75b2d4,#84bcd9,#93c6de,#9dcbe1,#a9d1e5,#b6d7e8,#c2ddec,#cfe4ef,#d8e9f1,#e1edf3)"></i><i style="background:linear-gradient(90deg,#e1edf3,#d8e9f1,#d1e5f0,#c5dfec,#b8d8e9,#acd2e5,#a2cde3,#96c7df,#8ac0db,#7eb8d7,#71b0d3,#65a9cf,#5ca3cb,#529dc8,#4997c5,#4393c3,#408fc1,#3f8ec0,#3e8cbf,#3e8cbf,#3e8cbf,#3e8cbf,#3f8ec0,#408fc1,#4393c3,#4997c5,#529dc8,#5ca3cb,#65a9cf,#71b0d3,#7eb8d7,#8ac0db,#96c7df,#a2cde3,#acd2e5,#b8d8e9,#c5dfec,#d1e5f0,#d8e9f1,#e1edf3)"></i><i style="background:linear-gradient(90deg,#e3edf3,#d8e9f1,#d1e5f0,#c7e0ed,#bbdaea,#b1d5e7,#a7d0e4,#9dcbe1,#93c6de,#87beda,#7bb6d6,#71b0d3,#68abd0,#62a7ce,#5ca3cb,#569fc9,#4f9bc7,#4c99c6,#4c99c6,#4997c5,#4997c5,#4c99c6,#4c99c6,#4f9bc7,#569fc9,#5ca3cb,#62a7ce,#68abd0,#71b0d3,#7bb6d6,#87beda,#93c6de,#9dcbe1,#a7d0e4,#b1d5e7,#bbdaea,#c7e0ed,#d1e5f0,#d8e9f1,#e3edf3)"></i><i style="background:linear-gradient(90deg,#e3edf3,#dae9f2,#d2e6f0,#cae1ee,#c0dceb,#b6d7e8,#acd2e5,#a2cde3,#9bc9e0,#93c6de,#8ac0db,#81bad8,#7bb6d6,#75b2d4,#6eaed2,#6bacd1,#68abd0,#65a9cf,#62a7ce,#62a7ce,#62a7ce,#62a7ce,#65a9cf,#68abd0,#6bacd1,#6eaed2,#75b2d4,#7bb6d6,#81bad8,#8ac0db,#93c6de,#9bc9e0,#a2cde3,#acd2e5,#b6d7e8,#c0dceb,#cae1ee,#d2e6f0,#dae9f2,#e3edf3)"></i><i style="background:linear-gradient(90deg,#e3edf3,#dae9f2,#d4e6f1,#cce2ef,#c2ddec,#bbdaea,#b3d6e8,#acd2e5,#a5cee3,#a0cce2,#98c8e0,#93c6de,#90c4dd,#8ac0db,#87beda,#84bcd9,#81bad8,#81bad8,#7eb8d7,#7eb8d7,#7eb8d7,#7eb8d7,#81bad8,#81bad8,#84bcd9,#87beda,#8ac0db,#90c4dd,#93c6de,#98c8e0,#a0cce2,#a5cee3,#acd2e5,#b3d6e8,#bbdaea,#c2ddec,#cce2ef,#d4e6f1,#dae9f2,#e3edf3)"></i><i style="background:linear-gradient(90deg,#e3edf3,#dbeaf2,#d5e7f1,#d1e5f0,#cae1ee,#c2ddec,#bbdaea,#b6d7e8,#b1d5e7,#acd2e5,#a9d1e5,#a5cee3,#a2cde3,#a0cce2,#a0cce2,#9dcbe1,#9dcbe1,#9dcbe1,#9bc9e0,#9bc9e0,#9bc9e0,#9bc9e0,#9dcbe1,#9dcbe1,#9dcbe1,#a0cce2,#a0cce2,#a2cde3,#a5cee3,#a9d1e5,#acd2e5,#b1d5e7,#b6d7e8,#bbdaea,#c2ddec,#cae1ee,#d1e5f0,#d5e7f1,#dbeaf2,#e3edf3)"></i><i style="background:linear-gradient(90deg,#e4eef4,#ddebf2,#d8e9f1,#d4e6f1,#cfe4ef,#cae1ee,#c5dfec,#c2ddec,#c0dceb,#bbdaea,#bbdaea,#b8d8e9,#b8d8e9,#b8d8e9,#b6d7e8,#b6d7e8,#b8d8e9,#b8d8e9,#b8d8e9,#b8d8e9,#b8d8e9,#b8d8e9,#b8d8e9,#b8d8e9,#b6d7e8,#b6d7e8,#b8d8e9,#b8d8e9,#b8d8e9,#bbdaea,#bbdaea,#c0dceb,#c2ddec,#c5dfec,#cae1ee,#cfe4ef,#d4e6f1,#d8e9f1,#ddebf2,#e4eef4)"></i><i style="background:linear-gradient(90deg,#e4eef4,#deebf2,#dbeaf2,#d7e8f1,#d5e7f1,#d2e6f0,#d1e5f0,#cfe4ef,#cfe4ef,#cce2ef,#cce2ef,#cfe4ef,#cfe4ef,#cfe4ef,#d1e5f0,#d2e6f0,#d2e6f0,#d2e6f0,#d4e6f1,#d4e6f1,#d4e6f1,#d4e6f1,#d2e6f0,#d2e6f0,#d2e6f0,#d1e5f0,#cfe4ef,#cfe4ef,#cfe4ef,#cce2ef,#cce2ef,#cfe4ef,#cfe4ef,#d1e5f0,#d2e6f0,#d5e7f1,#d7e8f1,#dbeaf2,#deebf2,#e4eef4)"></i><i style="background:linear-gradient(90deg,#e6eff4,#e1edf3,#deebf2,#dbeaf2,#dae9f2,#d8e9f1,#d8e9f1,#d8e9f1,#d8e9f1,#dae9f2,#dbeaf2,#ddebf2,#deebf2,#e0ecf3,#e1edf3,#e3edf3,#e4eef4,#e6eff4,#e6eff4,#e6eff4,#e6eff4,#e6eff4,#e6eff4,#e4eef4,#e3edf3,#e1edf3,#e0ecf3,#deebf2,#ddebf2,#dbeaf2,#dae9f2,#d8e9f1,#d8e9f1,#d8e9f1,#d8e9f1,#dae9f2,#dbeaf2,#deebf2,#e1edf3,#e6eff4)"></i><i style="background:linear-gradient(90deg,#e7f0f4,#e3edf3,#e1edf3,#e0ecf3,#e0ecf3,#e0ecf3,#e1edf3,#e1edf3,#e4eef4,#e6eff4,#e7f0f4,#eaf1f5,#eff3f5,#f3f5f6,#f6f7f7,#f8f4f2,#f8f2ef,#f9f0eb,#f9efe9,#f9eee7,#f9eee7,#f9efe9,#f9f0eb,#f8f2ef,#f8f4f2,#f6f7f7,#f3f5f6,#eff3f5,#eaf1f5,#e7f0f4,#e6eff4,#e4eef4,#e1edf3,#e1edf3,#e0ecf3,#e0ecf3,#e0ecf3,#e1edf3,#e3edf3,#e7f0f4)"></i><i style="background:linear-gradient(90deg,#e9f0f4,#e6eff4,#e4eef4,#e4eef4,#e6eff4,#e7f0f4,#e9f0f4,#ecf2f5,#f0f4f6,#f5f6f7,#f8f4f2,#f9f0eb,#faeae1,#fbe6da,#fbe3d4,#fcdecd,#fddbc7,#fcd7c2,#fcd5bf,#fcd3bc,#fcd3bc,#fcd5bf,#fcd7c2,#fddbc7,#fcdecd,#fbe3d4,#fbe6da,#faeae1,#f9f0eb,#f8f4f2,#f5f6f7,#f0f4f6,#ecf2f5,#e9f0f4,#e7f0f4,#e6eff4,#e4eef4,#e4eef4,#e6eff4,#e9f0f4)"></i><i style="background:linear-gradient(90deg,#e9f0f4,#e9f0f4,#e9f0f4,#eaf1f5,#ecf2f5,#f0f4f6,#f5f6f7,#f8f4f2,#f9f0eb,#faeae1,#fbe5d8,#fcdecd,#fcd7c2,#fbccb4,#f9c4a9,#f8bb9e,#f6b394,#f6af8e,#f5aa89,#f5a886,#f5a886,#f5aa89,#f6af8e,#f6b394,#f8bb9e,#f9c4a9,#fbccb4,#fcd7c2,#fcdecd,#fbe5d8,#faeae1,#f9f0eb,#f8f4f2,#f5f6f7,#f0f4f6,#ecf2f5,#eaf1f5,#e9f0f4,#e9f0f4,#e9f0f4)"></i><i style="background:linear-gradient(90deg,#eaf1f5,#ecf2f5,#edf2f5,#f0f4f6,#f5f6f7,#f8f4f2,#f9efe9,#fae9df,#fbe4d6,#fdddcb,#fcd3bc,#f9c6ac,#f7b99c,#f5ac8b,#f2a17f,#ec9374,#e8896c,#e48066,#e27b62,#e17860,#e17860,#e27b62,#e48066,#e8896c,#ec9374,#f2a17f,#f5ac8b,#f7b99c,#f9c6ac,#fcd3bc,#fdddcb,#fbe4d6,#fae9df,#f9efe9,#f8f4f2,#f5f6f7,#f0f4f6,#edf2f5,#ecf2f5,#eaf1f5)"></i><i style="background:linear-gradient(90deg,#edf2f5,#eff3f5,#f3f5f6,#f7f6f6,#f8f2ef,#f9ede5,#fbe6da,#fcdfcf,#fcd7c2,#fac8af,#f7b99c,#f5aa89,#f09c7b,#e8896c,#e27b62,#dc6e57,#d7634f,#d35a4a,#cf5246,#ce4f45,#ce4f45,#cf5246,#d35a4a,#d7634f,#dc6e57,#e27b62,#e8896c,#f09c7b,#f5aa89,#f7b99c,#fac8af,#fcd7c2,#fcdfcf,#fbe6da,#f9ede5,#f8f2ef,#f7f6f6,#f3f5f6,#eff3f5,#edf2f5)"></i><i style="background:linear-gradient(90deg,#eff3f5,#f3f5f6,#f7f6f6,#f8f1ed,#f9ebe3,#fbe6da,#fcdecd,#fcd3bc,#f9c4a9,#f7b596,#f3a481,#eb9172,#e37e64,#db6b55,#d35a4a,#cc4c44,#c6413e,#c13639,#be3036,#bd2d35,#bd2d35,#be3036,#c13639,#c6413e,#cc4c44,#d35a4a,#db6b55,#e37e64,#eb9172,#f3a481,#f7b596,#f9c4a9,#fcd3bc,#fcdecd,#fbe6da,#f9ebe3,#f8f1ed,#f7f6f6,#f3f5f6,#eff3f5)"></i><i style="background:linear-gradient(90deg,#f0f4f6,#f6f7f7,#f8f2ef,#f9ede5,#fae7dc,#fcdfcf,#fcd5bf,#f9c6ac,#f7b596,#f3a481,#ea8e70,#e27b62,#d86551,#cf5246,#c6413e,#bf3338,#b82531,#b41c2d,#b1182b,#ab162a,#ab162a,#b1182b,#b41c2d,#b82531,#bf3338,#c6413e,#cf5246,#d86551,#e27b62,#ea8e70,#f3a481,#f7b596,#f9c6ac,#fcd5bf,#fcdfcf,#fae7dc,#f9ede5,#f8f2ef,#f6f7f7,#f0f4f6)"></i><i style="background:linear-gradient(90deg,#f2f5f6,#f7f5f4,#f9f0eb,#fae9df,#fbe3d4,#fddbc7,#facab1,#f7b99c,#f5a886,#ec9374,#e37e64,#da6853,#d05548,#c6413e,#bd2d35,#b61f2e,#ab162a,#a21328,#991027,#960f27,#960f27,#991027,#a21328,#ab162a,#b61f2e,#bd2d35,#c6413e,#d05548,#da6853,#e37e64,#ec9374,#f5a886,#f7b99c,#facab1,#fddbc7,#fbe3d4,#fae9df,#f9f0eb,#f7f5f4,#f2f5f6)"></i><i style="background:linear-gradient(90deg,#f3f5f6,#f8f3f0,#f9ede5,#fbe6da,#fcdecd,#fcd3bc,#f9c2a7,#f6b191,#f19e7d,#e8896c,#dd7059,#d35a4a,#c94741,#bf3338,#b61f2e,#ab162a,#9c1127,#930e26,#8d0c25,#870a24,#870a24,#8d0c25,#930e26,#9c1127,#ab162a,#b61f2e,#bf3338,#c94741,#d35a4a,#dd7059,#e8896c,#f19e7d,#f6b191,#f9c2a7,#fcd3bc,#fcdecd,#fbe6da,#f9ede5,#f8f3f0,#f3f5f6)"></i><i style="background:linear-gradient(90deg,#f5f6f7,#f8f2ef,#f9ebe3,#fbe4d6,#fddcc9,#fbccb4,#f8bda1,#f5aa89,#ee9677,#e48066,#da6853,#cf5246,#c53e3d,#bb2a34,#b1182b,#a21328,#930e26,#8a0b25,#840924,#810823,#810823,#840924,#8a0b25,#930e26,#a21328,#b1182b,#bb2a34,#c53e3d,#cf5246,#da6853,#e48066,#ee9677,#f5aa89,#f8bda1,#fbccb4,#fddcc9,#fbe4d6,#f9ebe3,#f8f2ef,#f5f6f7)"></i><i style="background:linear-gradient(90deg,#f5f6f7,#f8f1ed,#fae9df,#fce2d2,#fdd9c4,#facab1,#f7b99c,#f4a683,#eb9172,#e27b62,#d7634f,#cc4c44,#c2383a,#b82531,#ae172a,#9c1127,#900d26,#870a24,#7f0823,#7c0722,#7c0722,#7f0823,#870a24,#900d26,#9c1127,#ae172a,#b82531,#c2383a,#cc4c44,#d7634f,#e27b62,#eb9172,#f4a683,#f7b99c,#facab1,#fdd9c4,#fce2d2,#fae9df,#f8f1ed,#f5f6f7)"></i><i style="background:linear-gradient(90deg,#f6f7f7,#f9f0eb,#fae8de,#fce0d0,#fcd7c2,#f9c6ac,#f7b596,#f3a481,#ea8e70,#e17860,#d7634f,#cc4c44,#c13639,#b82531,#ab162a,#9c1127,#900d26,#870a24,#7f0823,#7c0722,#7c0722,#7f0823,#870a24,#900d26,#9c1127,#ab162a,#b82531,#c13639,#cc4c44,#d7634f,#e17860,#ea8e70,#f3a481,#f7b596,#f9c6ac,#fcd7c2,#fce0d0,#fae8de,#f9f0eb,#f6f7f7)"></i><i style="background:linear-gradient(90deg,#f6f7f7,#f9f0eb,#fae8de,#fce0d0,#fcd7c2,#f9c6ac,#f7b596,#f3a481,#ea8e70,#e17860,#d7634f,#cc4c44,#c2383a,#b82531,#ae172a,#9f1228,#930e26,#870a24,#810823,#7f0823,#7f0823,#810823,#870a24,#930e26,#9f1228,#ae172a,#b82531,#c2383a,#cc4c44,#d7634f,#e17860,#ea8e70,#f3a481,#f7b596,#f9c6ac,#fcd7c2,#fce0d0,#fae8de,#f9f0eb,#f6f7f7)"></i><i style="background:linear-gradient(90deg,#f6f7f7,#f9efe9,#fae7dc,#fce0d0,#fcd5bf,#f9c6ac,#f7b596,#f3a481,#ea8e70,#e17860,#d7634f,#ce4f45,#c43b3c,#ba2832,#b1182b,#a21328,#960f27,#8d0c25,#870a24,#840924,#840924,#870a24,#8d0c25,#960f27,#a21328,#b1182b,#ba2832,#c43b3c,#ce4f45,#d7634f,#e17860,#ea8e70,#f3a481,#f7b596,#f9c6ac,#fcd5bf,#fce0d0,#fae7dc,#f9efe9,#f6f7f7)"></i><i style="background:linear-gradient(90deg,#f6f7f7,#f9efe9,#fae7dc,#fce0d0,#fcd5bf,#f9c6ac,#f7b596,#f4a683,#eb9172,#e27b62,#d86551,#cf5246,#c53e3d,#bd2d35,#b41c2d,#a81529,#9c1127,#930e26,#8d0c25,#8a0b25,#8a0b25,#8d0c25,#930e26,#9c1127,#a81529,#b41c2d,#bd2d35,#c53e3d,#cf5246,#d86551,#e27b62,#eb9172,#f4a683,#f7b596,#f9c6ac,#fcd5bf,#fce0d0,#fae7dc,#f9efe9,#f6f7f7)"></i><i style="background:linear-gradient(90deg,#f6f7f7,#f9efe9,#fae8de,#fce0d0,#fcd7c2,#fac8af,#f7b799,#f5a886,#ec9374,#e37e64,#db6b55,#d25849,#c84440,#bf3338,#b82531,#b1182b,#a51429,#9c1127,#960f27,#930e26,#930e26,#960f27,#9c1127,#a51429,#b1182b,#b82531,#bf3338,#c84440,#d25849,#db6b55,#e37e64,#ec9374,#f5a886,#f7b799,#fac8af,#fcd7c2,#fce0d0,#fae8de,#f9efe9,#f6f7f7)"></i><i style="background:linear-gradient(90deg,#f6f7f7,#f9efe9,#fae8de,#fce0d0,#fcd7c2,#fac8af,#f7b99c,#f5aa89,#ee9677,#e58368,#dd7059,#d55d4c,#cc4c44,#c43b3c,#bb2a34,#b61f2e,#ae172a,#a51429,#9f1228,#9c1127,#9c1127,#9f1228,#a51429,#ae172a,#b61f2e,#bb2a34,#c43b3c,#cc4c44,#d55d4c,#dd7059,#e58368,#ee9677,#f5aa89,#f7b99c,#fac8af,#fcd7c2,#fce0d0,#fae8de,#f9efe9,#f6f7f7)"></i><i style="background:linear-gradient(90deg,#f6f7f7,#f9f0eb,#fae8de,#fce2d2,#fdd9c4,#facab1,#f8bb9e,#f5ac8b,#f09c7b,#e8896c,#df765e,#d7634f,#cf5246,#c6413e,#bf3338,#ba2832,#b41c2d,#ae172a,#ab162a,#a81529,#a81529,#ab162a,#ae172a,#b41c2d,#ba2832,#bf3338,#c6413e,#cf5246,#d7634f,#df765e,#e8896c,#f09c7b,#f5ac8b,#f8bb9e,#facab1,#fdd9c4,#fce2d2,#fae8de,#f9f0eb,#f6f7f7)"></i><i style="background:linear-gradient(90deg,#f6f7f7,#f9f0eb,#fae9df,#fbe3d4,#fddbc7,#fbccb4,#f8bfa4,#f6b191,#f2a17f,#ea8e70,#e27b62,#db6b55,#d35a4a,#cb4942,#c43b3c,#be3036,#b82531,#b61f2e,#b3192c,#b1182b,#b1182b,#b3192c,#b61f2e,#b82531,#be3036,#c43b3c,#cb4942,#d35a4a,#db6b55,#e27b62,#ea8e70,#f2a17f,#f6b191,#f8bfa4,#fbccb4,#fddbc7,#fbe3d4,#fae9df,#f9f0eb,#f6f7f7)"></i><i style="background:linear-gradient(90deg,#f6f7f7,#f9f0eb,#fae9df,#fbe3d4,#fddcc9,#fbd0b9,#f9c2a7,#f6b394,#f4a683,#ec9374,#e58368,#dd7059,#d7634f,#cf5246,#c84440,#c2383a,#be3036,#ba2832,#b82531,#b72230,#b72230,#b82531,#ba2832,#be3036,#c2383a,#c84440,#cf5246,#d7634f,#dd7059,#e58368,#ec9374,#f4a683,#f6b394,#f9c2a7,#fbd0b9,#fddcc9,#fbe3d4,#fae9df,#f9f0eb,#f6f7f7)"></i><i style="background:linear-gradient(90deg,#f5f6f7,#f8f1ed,#faeae1,#fbe4d6,#fdddcb,#fcd3bc,#f9c6ac,#f7b799,#f5aa89,#ef9979,#e8896c,#e17860,#da6853,#d35a4a,#ce4f45,#c84440,#c2383a,#bf3338,#bd2d35,#bb2a34,#bb2a34,#bd2d35,#bf3338,#c2383a,#c84440,#ce4f45,#d35a4a,#da6853,#e17860,#e8896c,#ef9979,#f5aa89,#f7b799,#f9c6ac,#fcd3bc,#fdddcb,#fbe4d6,#faeae1,#f8f1ed,#f5f6f7)"></i><i style="background:linear-gradient(90deg,#f5f6f7,#f8f1ed,#faeae1,#fbe5d8,#fcdecd,#fcd5bf,#fac8af,#f8bb9e,#f6af8e,#f19e7d,#ea8e70,#e48066,#dd7059,#d7634f,#d25849,#cc4c44,#c84440,#c43b3c,#c2383a,#c13639,#c13639,#c2383a,#c43b3c,#c84440,#cc4c44,#d25849,#d7634f,#dd7059,#e48066,#ea8e70,#f19e7d,#f6af8e,#f8bb9e,#fac8af,#fcd5bf,#fcdecd,#fbe5d8,#faeae1,#f8f1ed,#f5f6f7)"></i><i style="background:linear-gradient(90deg,#f5f6f7,#f8f2ef,#f9ebe3,#fbe6da,#fcdfcf,#fcd7c2,#facab1,#f8bda1,#f6b191,#f4a683,#ee9677,#e6866a,#e17860,#db6b55,#d6604d,#d05548,#cc4c44,#c94741,#c6413e,#c53e3d,#c53e3d,#c6413e,#c94741,#cc4c44,#d05548,#d6604d,#db6b55,#e17860,#e6866a,#ee9677,#f4a683,#f6b191,#f8bda1,#facab1,#fcd7c2,#fcdfcf,#fbe6da,#f9ebe3,#f8f2ef,#f5f6f7)"></i><i style="background:linear-gradient(90deg,#f5f6f7,#f8f2ef,#f9ede5,#fae7dc,#fce0d0,#fddbc7,#fbceb7,#f9c2a7,#f7b596,#f5aa89,#f09c7b,#ea8e70,#e48066,#de735c,#da6853,#d55d4c,#d25849,#ce4f45,#cc4c44,#cb4942,#cb4942,#cc4c44,#ce4f45,#d25849,#d55d4c,#da6853,#de735c,#e48066,#ea8e70,#f09c7b,#f5aa89,#f7b596,#f9c2a7,#fbceb7,#fddbc7,#fce0d0,#fae7dc,#f9ede5,#f8f2ef,#f5f6f7)"></i><i style="background:linear-gradient(90deg,#f5f6f7,#f8f2ef,#f9ede5,#fae7dc,#fce2d2,#fddcc9,#fbd0b9,#f9c6ac,#f7b99c,#f6af8e,#f2a17f,#ec9374,#e6866a,#e27b62,#dd7059,#da6853,#d6604d,#d35a4a,#d05548,#cf5246,#cf5246,#d05548,#d35a4a,#d6604d,#da6853,#dd7059,#e27b62,#e6866a,#ec9374,#f2a17f,#f6af8e,#f7b99c,#f9c6ac,#fbd0b9,#fddcc9,#fce2d2,#fae7dc,#f9ede5,#f8f2ef,#f5f6f7)"></i><i style="background:linear-gradient(90deg,#f3f5f6,#f8f3f0,#f9eee7,#fae8de,#fbe3d4,#fdddcb,#fcd5bf,#facab1,#f8bda1,#f6b394,#f5a886,#f09c7b,#ea8e70,#e58368,#e17860,#dd7059,#da6853,#d7634f,#d6604d,#d55d4c,#d55d4c,#d6604d,#d7634f,#da6853,#dd7059,#e17860,#e58368,#ea8e70,#f09c7b,#f5a886,#f6b394,#f8bda1,#facab1,#fcd5bf,#fdddcb,#fbe3d4,#fae8de,#f9eee7,#f8f3f0,#f3f5f6)"></i><i style="background:linear-gradient(90deg,#f3f5f6,#f8f3f0,#f9efe9,#fae9df,#fbe4d6,#fcdecd,#fcd7c2,#fbccb4,#f9c2a7,#f7b799,#f5ac8b,#f2a17f,#ee9677,#e98b6e,#e48066,#e17860,#dd7059,#db6b55,#da6853,#d86551,#d86551,#da6853,#db6b55,#dd7059,#e17860,#e48066,#e98b6e,#ee9677,#f2a17f,#f5ac8b,#f7b799,#f9c2a7,#fbccb4,#fcd7c2,#fcdecd,#fbe4d6,#fae9df,#f9efe9,#f8f3f0,#f3f5f6)"></i><i style="background:linear-gradient(90deg,#f3f5f6,#f8f4f2,#f9efe9,#faeae1,#fbe5d8,#fce0d0,#fddbc7,#fbd0b9,#f9c6ac,#f8bb9e,#f6b191,#f5a886,#f09c7b,#eb9172,#e8896c,#e48066,#e17860,#de735c,#dd7059,#dc6e57,#dc6e57,#dd7059,#de735c,#e17860,#e48066,#e8896c,#eb9172,#f09c7b,#f5a886,#f6b191,#f8bb9e,#f9c6ac,#fbd0b9,#fddbc7,#fce0d0,#fbe5d8,#faeae1,#f9efe9,#f8f4f2,#f3f5f6)"></i><i style="background:linear-gradient(90deg,#f3f5f6,#f8f4f2,#f9f0eb,#f9ebe3,#fbe6da,#fce2d2,#fddcc9,#fcd3bc,#facab1,#f8bfa4,#f7b596,#f5ac8b,#f3a481,#ef9979,#eb9172,#e8896c,#e48066,#e27b62,#e17860,#e17860,#e17860,#e17860,#e27b62,#e48066,#e8896c,#eb9172,#ef9979,#f3a481,#f5ac8b,#f7b596,#f8bfa4,#facab1,#fcd3bc,#fddcc9,#fce2d2,#fbe6da,#f9ebe3,#f9f0eb,#f8f4f2,#f3f5f6)"></i><i style="background:linear-gradient(90deg,#f3f5f6,#f7f5f4,#f9f0eb,#f9ebe3,#fae7dc,#fbe3d4,#fdddcb,#fcd7c2,#fbccb4,#f9c4a9,#f7b99c,#f6b191,#f5a886,#f2a17f,#ee9677,#eb9172,#e8896c,#e58368,#e48066,#e48066,#e48066,#e48066,#e58368,#e8896c,#eb9172,#ee9677,#f2a17f,#f5a886,#f6b191,#f7b99c,#f9c4a9,#fbccb4,#fcd7c2,#fdddcb,#fbe3d4,#fae7dc,#f9ebe3,#f9f0eb,#f7f5f4,#f3f5f6)"></i><i style="background:linear-gradient(90deg,#f2f5f6,#f7f5f4,#f8f1ed,#f9ede5,#fae8de,#fbe4d6,#fcdfcf,#fdd9c4,#fbd0b9,#fac8af,#f8bda1,#f7b596,#f6af8e,#f4a683,#f19e7d,#ee9677,#eb9172,#e98b6e,#e8896c,#e8896c,#e8896c,#e8896c,#e98b6e,#eb9172,#ee9677,#f19e7d,#f4a683,#f6af8e,#f7b596,#f8bda1,#fac8af,#fbd0b9,#fdd9c4,#fcdfcf,#fbe4d6,#fae8de,#f9ede5,#f8f1ed,#f7f5f4,#f2f5f6)"></i><i style="background:linear-gradient(90deg,#f2f5f6,#f7f5f4,#f8f2ef,#f9eee7,#fae9df,#fbe5d8,#fce0d0,#fddcc9,#fcd5bf,#facab1,#f9c2a7,#f8bb9e,#f6b394,#f5ac8b,#f4a683,#f19e7d,#ef9979,#ec9374,#eb9172,#eb9172,#eb9172,#eb9172,#ec9374,#ef9979,#f19e7d,#f4a683,#f5ac8b,#f6b394,#f8bb9e,#f9c2a7,#facab1,#fcd5bf,#fddcc9,#fce0d0,#fbe5d8,#fae9df,#f9eee7,#f8f2ef,#f7f5f4,#f2f5f6)"></i><i style="background:linear-gradient(90deg,#f2f5f6,#f7f6f6,#f8f2ef,#f9efe9,#faeae1,#fbe6da,#fce2d2,#fdddcb,#fcd7c2,#fbceb7,#f9c6ac,#f8bfa4,#f7b799,#f6b191,#f5aa89,#f4a683,#f2a17f,#f09c7b,#ef9979,#ee9677,#ee9677,#ef9979,#f09c7b,#f2a17f,#f4a683,#f5aa89,#f6b191,#f7b799,#f8bfa4,#f9c6ac,#fbceb7,#fcd7c2,#fdddcb,#fce2d2,#fbe6da,#faeae1,#f9efe9,#f8f2ef,#f7f6f6,#f2f5f6)"></i><i style="background:linear-gradient(90deg,#f2f5f6,#f7f6f6,#f8f3f0,#f9efe9,#f9ebe3,#fae7dc,#fbe3d4,#fcdecd,#fddbc7,#fcd3bc,#facab1,#f9c4a9,#f8bb9e,#f7b596,#f6af8e,#f5aa89,#f4a683,#f3a481,#f2a17f,#f19e7d,#f19e7d,#f2a17f,#f3a481,#f4a683,#f5aa89,#f6af8e,#f7b596,#f8bb9e,#f9c4a9,#facab1,#fcd3bc,#fddbc7,#fcdecd,#fbe3d4,#fae7dc,#f9ebe3,#f9efe9,#f8f3f0,#f7f6f6,#f2f5f6)"></i><i style="background:linear-gradient(90deg,#f2f5f6,#f6f7f7,#f8f3f0,#f9f0eb,#f9ede5,#fae8de,#fbe4d6,#fce0d0,#fddcc9,#fcd7c2,#fbceb7,#fac8af,#f8bfa4,#f7b99c,#f7b596,#f6b191,#f5ac8b,#f5a886,#f4a683,#f4a683,#f4a683,#f4a683,#f5a886,#f5ac8b,#f6b191,#f7b596,#f7b99c,#f8bfa4,#fac8af,#fbceb7,#fcd7c2,#fddcc9,#fce0d0,#fbe4d6,#fae8de,#f9ede5,#f9f0eb,#f8f3f0,#f6f7f7,#f2f5f6)"></i><i style="background:linear-gradient(90deg,#f0f4f6,#f6f7f7,#f8f4f2,#f8f1ed,#f9ede5,#fae9df,#fbe6da,#fce2d2,#fcdecd,#fdd9c4,#fcd3bc,#facab1,#f9c4a9,#f8bfa4,#f7b99c,#f7b596,#f6b191,#f6af8e,#f5ac8b,#f5aa89,#f5aa89,#f5ac8b,#f6af8e,#f6b191,#f7b596,#f7b99c,#f8bfa4,#f9c4a9,#facab1,#fcd3bc,#fdd9c4,#fcdecd,#fce2d2,#fbe6da,#fae9df,#f9ede5,#f8f1ed,#f8f4f2,#f6f7f7,#f0f4f6)"></i><i style="background:linear-gradient(90deg,#f0f4f6,#f6f7f7,#f8f4f2,#f8f1ed,#f9eee7,#faeae1,#fae7dc,#fbe3d4,#fcdfcf,#fddcc9,#fcd5bf,#fbceb7,#fac8af,#f9c4a9,#f8bda1,#f7b99c,#f7b799,#f6b394,#f6b191,#f6b191,#f6b191,#f6b191,#f6b394,#f7b799,#f7b99c,#f8bda1,#f9c4a9,#fac8af,#fbceb7,#fcd5bf,#fddcc9,#fcdfcf,#fbe3d4,#fae7dc,#faeae1,#f9eee7,#f8f1ed,#f8f4f2,#f6f7f7,#f0f4f6)"></i><i style="background:linear-gradient(90deg,#f0f4f6,#f5f6f7,#f7f5f4,#f8f2ef,#f9efe9,#f9ebe3,#fae8de,#fbe5d8,#fce0d0,#fdddcb,#fdd9c4,#fcd3bc,#fbccb4,#fac8af,#f9c2a7,#f8bfa4,#f8bb9e,#f7b99c,#f7b799,#f7b596,#f7b596,#f7b799,#f7b99c,#f8bb9e,#f8bfa4,#f9c2a7,#fac8af,#fbccb4,#fcd3bc,#fdd9c4,#fdddcb,#fce0d0,#fbe5d8,#fae8de,#f9ebe3,#f9efe9,#f8f2ef,#f7f5f4,#f5f6f7,#f0f4f6)"></i><i style="background:linear-gradient(90deg,#f0f4f6,#f5f6f7,#f7f5f4,#f8f2ef,#f9f0eb,#f9ede5,#fae9df,#fbe6da,#fbe3d4,#fcdfcf,#fddcc9,#fcd7c2,#fbd0b9,#fbccb4,#fac8af,#f9c4a9,#f8bfa4,#f8bda1,#f8bb9e,#f8bb9e,#f8bb9e,#f8bb9e,#f8bda1,#f8bfa4,#f9c4a9,#fac8af,#fbccb4,#fbd0b9,#fcd7c2,#fddcc9,#fcdfcf,#fbe3d4,#fbe6da,#fae9df,#f9ede5,#f9f0eb,#f8f2ef,#f7f5f4,#f5f6f7,#f0f4f6)"></i><i style="background:linear-gradient(90deg,#f0f4f6,#f5f6f7,#f7f6f6,#f8f3f0,#f9f0eb,#f9eee7,#faeae1,#fae7dc,#fbe4d6,#fce0d0,#fdddcb,#fddbc7,#fcd5bf,#fbd0b9,#fbccb4,#fac8af,#f9c4a9,#f9c2a7,#f8bfa4,#f8bfa4,#f8bfa4,#f8bfa4,#f9c2a7,#f9c4a9,#fac8af,#fbccb4,#fbd0b9,#fcd5bf,#fddbc7,#fdddcb,#fce0d0,#fbe4d6,#fae7dc,#faeae1,#f9eee7,#f9f0eb,#f8f3f0,#f7f6f6,#f5f6f7,#f0f4f6)"></i><i style="background:linear-gradient(90deg,#f0f4f6,#f5f6f7,#f7f6f6,#f8f3f0,#f8f1ed,#f9eee7,#f9ebe3,#fae8de,#fbe5d8,#fce2d2,#fcdfcf,#fddcc9,#fdd9c4,#fcd5bf,#fbd0b9,#fbccb4,#fac8af,#f9c6ac,#f9c6ac,#f9c4a9,#f9c4a9,#f9c6ac,#f9c6ac,#fac8af,#fbccb4,#fbd0b9,#fcd5bf,#fdd9c4,#fddcc9,#fcdfcf,#fce2d2,#fbe5d8,#fae8de,#f9ebe3,#f9eee7,#f8f1ed,#f8f3f0,#f7f6f6,#f5f6f7,#f0f4f6)"></i><i style="background:linear-gradient(90deg,#f0f4f6,#f3f5f6,#f7f6f6,#f8f4f2,#f8f2ef,#f9efe9,#f9ede5,#fae9df,#fbe6da,#fbe4d6,#fce0d0,#fcdecd,#fddbc7,#fcd7c2,#fcd5bf,#fbd0b9,#fbceb7,#fbccb4,#facab1,#fac8af,#fac8af,#facab1,#fbccb4,#fbceb7,#fbd0b9,#fcd5bf,#fcd7c2,#fddbc7,#fcdecd,#fce0d0,#fbe4d6,#fbe6da,#fae9df,#f9ede5,#f9efe9,#f8f2ef,#f8f4f2,#f7f6f6,#f3f5f6,#f0f4f6)"></i><i style="background:linear-gradient(90deg,#eff3f5,#f3f5f6,#f6f7f7,#f7f5f4,#f8f2ef,#f9f0eb,#f9ede5,#faeae1,#fae8de,#fbe5d8,#fbe3d4,#fcdfcf,#fdddcb,#fddbc7,#fcd7c2,#fcd5bf,#fcd3bc,#fbd0b9,#fbceb7,#fbceb7,#fbceb7,#fbceb7,#fbd0b9,#fcd3bc,#fcd5bf,#fcd7c2,#fddbc7,#fdddcb,#fcdfcf,#fbe3d4,#fbe5d8,#fae8de,#faeae1,#f9ede5,#f9f0eb,#f8f2ef,#f7f5f4,#f6f7f7,#f3f5f6,#eff3f5)"></i><i style="background:linear-gradient(90deg,#eff3f5,#f3f5f6,#f6f7f7,#f7f5f4,#f8f3f0,#f8f1ed,#f9eee7,#f9ebe3,#fae9df,#fbe6da,#fbe4d6,#fce2d2,#fcdfcf,#fdddcb,#fddbc7,#fdd9c4,#fcd7c2,#fcd5bf,#fcd3bc,#fcd3bc,#fcd3bc,#fcd3bc,#fcd5bf,#fcd7c2,#fdd9c4,#fddbc7,#fdddcb,#fcdfcf,#fce2d2,#fbe4d6,#fbe6da,#fae9df,#f9ebe3,#f9eee7,#f8f1ed,#f8f3f0,#f7f5f4,#f6f7f7,#f3f5f6,#eff3f5)"></i><i style="background:linear-gradient(90deg,#eff3f5,#f2f5f6,#f5f6f7,#f7f6f6,#f8f4f2,#f8f1ed,#f9efe9,#f9ede5,#faeae1,#fae8de,#fbe5d8,#fbe3d4,#fce0d0,#fcdfcf,#fdddcb,#fddcc9,#fdd9c4,#fdd9c4,#fcd7c2,#fcd7c2,#fcd7c2,#fcd7c2,#fdd9c4,#fdd9c4,#fddcc9,#fdddcb,#fcdfcf,#fce0d0,#fbe3d4,#fbe5d8,#fae8de,#faeae1,#f9ede5,#f9efe9,#f8f1ed,#f8f4f2,#f7f6f6,#f5f6f7,#f2f5f6,#eff3f5)"></i><i style="background:linear-gradient(90deg,#eff3f5,#f2f5f6,#f5f6f7,#f7f6f6,#f8f4f2,#f8f2ef,#f9f0eb,#f9eee7,#f9ebe3,#fae9df,#fae7dc,#fbe5d8,#fbe3d4,#fce0d0,#fcdfcf,#fdddcb,#fddcc9,#fddbc7,#fddbc7,#fddbc7,#fddbc7,#fddbc7,#fddbc7,#fddcc9,#fdddcb,#fcdfcf,#fce0d0,#fbe3d4,#fbe5d8,#fae7dc,#fae9df,#f9ebe3,#f9eee7,#f9f0eb,#f8f2ef,#f8f4f2,#f7f6f6,#f5f6f7,#f2f5f6,#eff3f5)"></i><i style="background:linear-gradient(90deg,#eff3f5,#f2f5f6,#f5f6f7,#f7f6f6,#f7f5f4,#f8f3f0,#f8f1ed,#f9efe9,#f9ede5,#faeae1,#fae8de,#fbe6da,#fbe4d6,#fbe3d4,#fce0d0,#fcdfcf,#fcdecd,#fdddcb,#fdddcb,#fddcc9,#fddcc9,#fdddcb,#fdddcb,#fcdecd,#fcdfcf,#fce0d0,#fbe3d4,#fbe4d6,#fbe6da,#fae8de,#faeae1,#f9ede5,#f9efe9,#f8f1ed,#f8f3f0,#f7f5f4,#f7f6f6,#f5f6f7,#f2f5f6,#eff3f5)"></i><i style="background:linear-gradient(90deg,#eff3f5,#f2f5f6,#f3f5f6,#f6f7f7,#f7f5f4,#f8f3f0,#f8f2ef,#f9f0eb,#f9eee7,#f9ebe3,#fae9df,#fae7dc,#fbe6da,#fbe4d6,#fbe3d4,#fce2d2,#fce0d0,#fcdfcf,#fcdfcf,#fcdecd,#fcdecd,#fcdfcf,#fcdfcf,#fce0d0,#fce2d2,#fbe3d4,#fbe4d6,#fbe6da,#fae7dc,#fae9df,#f9ebe3,#f9eee7,#f9f0eb,#f8f2ef,#f8f3f0,#f7f5f4,#f6f7f7,#f3f5f6,#f2f5f6,#eff3f5)"></i><i style="background:linear-gradient(90deg,#eff3f5,#f0f4f6,#f3f5f6,#f6f7f7,#f7f6f6,#f8f4f2,#f8f2ef,#f8f1ed,#f9efe9,#f9ede5,#faeae1,#fae9df,#fae7dc,#fbe6da,#fbe5d8,#fbe3d4,#fbe3d4,#fce2d2,#fce0d0,#fce0d0,#fce0d0,#fce0d0,#fce2d2,#fbe3d4,#fbe3d4,#fbe5d8,#fbe6da,#fae7dc,#fae9df,#faeae1,#f9ede5,#f9efe9,#f8f1ed,#f8f2ef,#f8f4f2,#f7f6f6,#f6f7f7,#f3f5f6,#f0f4f6,#eff3f5)"></i><i style="background:linear-gradient(90deg,#eff3f5,#f0f4f6,#f3f5f6,#f5f6f7,#f7f6f6,#f7f5f4,#f8f3f0,#f8f1ed,#f9f0eb,#f9eee7,#f9ede5,#faeae1,#fae9df,#fae7dc,#fbe6da,#fbe5d8,#fbe4d6,#fbe4d6,#fbe3d4,#fbe3d4,#fbe3d4,#fbe3d4,#fbe4d6,#fbe4d6,#fbe5d8,#fbe6da,#fae7dc,#fae9df,#faeae1,#f9ede5,#f9eee7,#f9f0eb,#f8f1ed,#f8f3f0,#f7f5f4,#f7f6f6,#f5f6f7,#f3f5f6,#f0f4f6,#eff3f5)"></i><i style="background:linear-gradient(90deg,#edf2f5,#f0f4f6,#f2f5f6,#f5f6f7,#f6f7f7,#f7f5f4,#f8f4f2,#f8f2ef,#f8f1ed,#f9efe9,#f9eee7,#f9ebe3,#faeae1,#fae9df,#fae8de,#fae7dc,#fbe6da,#fbe5d8,#fbe5d8,#fbe5d8,#fbe5d8,#fbe5d8,#fbe5d8,#fbe6da,#fae7dc,#fae8de,#fae9df,#faeae1,#f9ebe3,#f9eee7,#f9efe9,#f8f1ed,#f8f2ef,#f8f4f2,#f7f5f4,#f6f7f7,#f5f6f7,#f2f5f6,#f0f4f6,#edf2f5)"></i><i style="background:linear-gradient(90deg,#edf2f5,#f0f4f6,#f2f5f6,#f3f5f6,#f6f7f7,#f7f6f6,#f7f5f4,#f8f3f0,#f8f2ef,#f9f0eb,#f9efe9,#f9ede5,#f9ebe3,#faeae1,#fae9df,#fae8de,#fae7dc,#fae7dc,#fbe6da,#fbe6da,#fbe6da,#fbe6da,#fae7dc,#fae7dc,#fae8de,#fae9df,#faeae1,#f9ebe3,#f9ede5,#f9efe9,#f9f0eb,#f8f2ef,#f8f3f0,#f7f5f4,#f7f6f6,#f6f7f7,#f3f5f6,#f2f5f6,#f0f4f6,#edf2f5)"></i><i style="background:linear-gradient(90deg,#edf2f5,#f0f4f6,#f2f5f6,#f3f5f6,#f5f6f7,#f6f7f7,#f7f5f4,#f8f4f2,#f8f3f0,#f8f1ed,#f9f0eb,#f9efe9,#f9ede5,#f9ebe3,#faeae1,#faeae1,#fae9df,#fae8de,#fae8de,#fae8de,#fae8de,#fae8de,#fae8de,#fae9df,#faeae1,#faeae1,#f9ebe3,#f9ede5,#f9efe9,#f9f0eb,#f8f1ed,#f8f3f0,#f8f4f2,#f7f5f4,#f6f7f7,#f5f6f7,#f3f5f6,#f2f5f6,#f0f4f6,#edf2f5)"></i><i style="background:linear-gradient(90deg,#edf2f5,#eff3f5,#f2f5f6,#f3f5f6,#f5f6f7,#f6f7f7,#f7f6f6,#f7f5f4,#f8f3f0,#f8f2ef,#f8f1ed,#f9f0eb,#f9efe9,#f9eee7,#f9ede5,#f9ebe3,#faeae1,#faeae1,#faeae1,#fae9df,#fae9df,#faeae1,#faeae1,#faeae1,#f9ebe3,#f9ede5,#f9eee7,#f9efe9,#f9f0eb,#f8f1ed,#f8f2ef,#f8f3f0,#f7f5f4,#f7f6f6,#f6f7f7,#f5f6f7,#f3f5f6,#f2f5f6,#eff3f5,#edf2f5)"></i><i style="background:linear-gradient(90deg,#edf2f5,#eff3f5,#f0f4f6,#f2f5f6,#f3f5f6,#f5f6f7,#f6f7f7,#f7f5f4,#f8f4f2,#f8f3f0,#f8f2ef,#f8f1ed,#f9f0eb,#f9efe9,#f9eee7,#f9ede5,#f9ede5,#f9ebe3,#f9ebe3,#f9ebe3,#f9ebe3,#f9ebe3,#f9ebe3,#f9ede5,#f9ede5,#f9eee7,#f9efe9,#f9f0eb,#f8f1ed,#f8f2ef,#f8f3f0,#f8f4f2,#f7f5f4,#f6f7f7,#f5f6f7,#f3f5f6,#f2f5f6,#f0f4f6,#eff3f5,#edf2f5)"></i><i style="background:linear-gradient(90deg,#edf2f5,#eff3f5,#f0f4f6,#f2f5f6,#f3f5f6,#f5f6f7,#f6f7f7,#f7f6f6,#f7f5f4,#f8f4f2,#f8f3f0,#f8f2ef,#f8f1ed,#f9f0eb,#f9efe9,#f9efe9,#f9eee7,#f9eee7,#f9eee7,#f9ede5,#f9ede5,#f9eee7,#f9eee7,#f9eee7,#f9efe9,#f9efe9,#f9f0eb,#f8f1ed,#f8f2ef,#f8f3f0,#f8f4f2,#f7f5f4,#f7f6f6,#f6f7f7,#f5f6f7,#f3f5f6,#f2f5f6,#f0f4f6,#eff3f5,#edf2f5)"></i><i style="background:linear-gradient(90deg,#edf2f5,#eff3f5,#f0f4f6,#f2f5f6,#f2f5f6,#f3f5f6,#f5f6f7,#f6f7f7,#f7f6f6,#f7f5f4,#f8f4f2,#f8f3f0,#f8f2ef,#f8f1ed,#f8f1ed,#f9f0eb,#f9f0eb,#f9efe9,#f9efe9,#f9efe9,#f9efe9,#f9efe9,#f9efe9,#f9f0eb,#f9f0eb,#f8f1ed,#f8f1ed,#f8f2ef,#f8f3f0,#f8f4f2,#f7f5f4,#f7f6f6,#f6f7f7,#f5f6f7,#f3f5f6,#f2f5f6,#f2f5f6,#f0f4f6,#eff3f5,#edf2f5)"></i><i style="background:linear-gradient(90deg,#edf2f5,#eff3f5,#eff3f5,#f0f4f6,#f2f5f6,#f3f5f6,#f5f6f7,#f6f7f7,#f6f7f7,#f7f6f6,#f7f5f4,#f8f4f2,#f8f3f0,#f8f3f0,#f8f2ef,#f8f1ed,#f8f1ed,#f8f1ed,#f9f0eb,#f9f0eb,#f9f0eb,#f9f0eb,#f8f1ed,#f8f1ed,#f8f1ed,#f8f2ef,#f8f3f0,#f8f3f0,#f8f4f2,#f7f5f4,#f7f6f6,#f6f7f7,#f6f7f7,#f5f6f7,#f3f5f6,#f2f5f6,#f0f4f6,#eff3f5,#eff3f5,#edf2f5)"></i><i style="background:linear-gradient(90deg,#edf2f5,#edf2f5,#eff3f5,#f0f4f6,#f2f5f6,#f2f5f6,#f3f5f6,#f5f6f7,#f6f7f7,#f6f7f7,#f7f6f6,#f7f5f4,#f8f4f2,#f8f4f2,#f8f3f0,#f8f3f0,#f8f2ef,#f8f2ef,#f8f2ef,#f8f2ef,#f8f2ef,#f8f2ef,#f8f2ef,#f8f2ef,#f8f3f0,#f8f3f0,#f8f4f2,#f8f4f2,#f7f5f4,#f7f6f6,#f6f7f7,#f6f7f7,#f5f6f7,#f3f5f6,#f2f5f6,#f2f5f6,#f0f4f6,#eff3f5,#edf2f5,#edf2f5)"></i><i style="background:linear-gradient(90deg,#edf2f5,#edf2f5,#eff3f5,#f0f4f6,#f0f4f6,#f2f5f6,#f3f5f6,#f3f5f6,#f5f6f7,#f6f7f7,#f6f7f7,#f7f6f6,#f7f5f4,#f7f5f4,#f8f4f2,#f8f4f2,#f8f4f2,#f8f3f0,#f8f3f0,#f8f3f0,#f8f3f0,#f8f3f0,#f8f3f0,#f8f4f2,#f8f4f2,#f8f4f2,#f7f5f4,#f7f5f4,#f7f6f6,#f6f7f7,#f6f7f7,#f5f6f7,#f3f5f6,#f3f5f6,#f2f5f6,#f0f4f6,#f0f4f6,#eff3f5,#edf2f5,#edf2f5)"></i><i style="background:linear-gradient(90deg,#ecf2f5,#edf2f5,#eff3f5,#eff3f5,#f0f4f6,#f0f4f6,#f2f5f6,#f3f5f6,#f3f5f6,#f5f6f7,#f5f6f7,#f6f7f7,#f7f6f6,#f7f6f6,#f7f6f6,#f7f5f4,#f7f5f4,#f7f5f4,#f8f4f2,#f8f4f2,#f8f4f2,#f8f4f2,#f7f5f4,#f7f5f4,#f7f5f4,#f7f6f6,#f7f6f6,#f7f6f6,#f6f7f7,#f5f6f7,#f5f6f7,#f3f5f6,#f3f5f6,#f2f5f6,#f0f4f6,#f0f4f6,#eff3f5,#eff3f5,#edf2f5,#ecf2f5)"></i><i style="background:linear-gradient(90deg,#ecf2f5,#edf2f5,#edf2f5,#eff3f5,#eff3f5,#f0f4f6,#f0f4f6,#f2f5f6,#f3f5f6,#f3f5f6,#f5f6f7,#f5f6f7,#f6f7f7,#f6f7f7,#f6f7f7,#f7f6f6,#f7f6f6,#f7f6f6,#f7f6f6,#f7f6f6,#f7f6f6,#f7f6f6,#f7f6f6,#f7f6f6,#f7f6f6,#f6f7f7,#f6f7f7,#f6f7f7,#f5f6f7,#f5f6f7,#f3f5f6,#f3f5f6,#f2f5f6,#f0f4f6,#f0f4f6,#eff3f5,#eff3f5,#edf2f5,#edf2f5,#ecf2f5)"></i><i style="background:linear-gradient(90deg,#ecf2f5,#edf2f5,#edf2f5,#eff3f5,#eff3f5,#eff3f5,#f0f4f6,#f0f4f6,#f2f5f6,#f2f5f6,#f3f5f6,#f3f5f6,#f5f6f7,#f5f6f7,#f5f6f7,#f6f7f7,#f6f7f7,#f6f7f7,#f6f7f7,#f6f7f7,#f6f7f7,#f6f7f7,#f6f7f7,#f6f7f7,#f6f7f7,#f5f6f7,#f5f6f7,#f5f6f7,#f3f5f6,#f3f5f6,#f2f5f6,#f2f5f6,#f0f4f6,#f0f4f6,#eff3f5,#eff3f5,#eff3f5,#edf2f5,#edf2f5,#ecf2f5)"></i><i style="background:linear-gradient(90deg,#ecf2f5,#edf2f5,#edf2f5,#edf2f5,#eff3f5,#eff3f5,#eff3f5,#f0f4f6,#f0f4f6,#f2f5f6,#f2f5f6,#f2f5f6,#f3f5f6,#f3f5f6,#f3f5f6,#f3f5f6,#f5f6f7,#f5f6f7,#f5f6f7,#f5f6f7,#f5f6f7,#f5f6f7,#f5f6f7,#f5f6f7,#f3f5f6,#f3f5f6,#f3f5f6,#f3f5f6,#f2f5f6,#f2f5f6,#f2f5f6,#f0f4f6,#f0f4f6,#eff3f5,#eff3f5,#eff3f5,#edf2f5,#edf2f5,#edf2f5,#ecf2f5)"></i><i style="background:linear-gradient(90deg,#ecf2f5,#edf2f5,#edf2f5,#edf2f5,#edf2f5,#eff3f5,#eff3f5,#eff3f5,#f0f4f6,#f0f4f6,#f0f4f6,#f0f4f6,#f2f5f6,#f2f5f6,#f2f5f6,#f2f5f6,#f3f5f6,#f3f5f6,#f3f5f6,#f3f5f6,#f3f5f6,#f3f5f6,#f3f5f6,#f3f5f6,#f2f5f6,#f2f5f6,#f2f5f6,#f2f5f6,#f0f4f6,#f0f4f6,#f0f4f6,#f0f4f6,#eff3f5,#eff3f5,#eff3f5,#edf2f5,#edf2f5,#edf2f5,#edf2f5,#ecf2f5)"></i><i style="background:linear-gradient(90deg,#ecf2f5,#ecf2f5,#edf2f5,#edf2f5,#edf2f5,#edf2f5,#edf2f5,#eff3f5,#eff3f5,#eff3f5,#eff3f5,#f0f4f6,#f0f4f6,#f0f4f6,#f0f4f6,#f0f4f6,#f0f4f6,#f2f5f6,#f2f5f6,#f2f5f6,#f2f5f6,#f2f5f6,#f2f5f6,#f0f4f6,#f0f4f6,#f0f4f6,#f0f4f6,#f0f4f6,#f0f4f6,#eff3f5,#eff3f5,#eff3f5,#eff3f5,#edf2f5,#edf2f5,#edf2f5,#edf2f5,#edf2f5,#ecf2f5,#ecf2f5)"></i><i style="background:linear-gradient(90deg,#ecf2f5,#ecf2f5,#ecf2f5,#edf2f5,#edf2f5,#edf2f5,#edf2f5,#edf2f5,#edf2f5,#edf2f5,#eff3f5,#eff3f5,#eff3f5,#eff3f5,#eff3f5,#eff3f5,#eff3f5,#eff3f5,#f0f4f6,#f0f4f6,#f0f4f6,#f0f4f6,#eff3f5,#eff3f5,#eff3f5,#eff3f5,#eff3f5,#eff3f5,#eff3f5,#eff3f5,#edf2f5,#edf2f5,#edf2f5,#edf2f5,#edf2f5,#edf2f5,#edf2f5,#ecf2f5,#ecf2f5,#ecf2f5)"></i><i style="background:linear-gradient(90deg,#ecf2f5,#ecf2f5,#ecf2f5,#ecf2f5,#ecf2f5,#ecf2f5,#edf2f5,#edf2f5,#edf2f5,#edf2f5,#edf2f5,#edf2f5,#edf2f5,#edf2f5,#edf2f5,#edf2f5,#edf2f5,#edf2f5,#edf2f5,#edf2f5,#edf2f5,#edf2f5,#edf2f5,#edf2f5,#edf2f5,#edf2f5,#edf2f5,#edf2f5,#edf2f5,#edf2f5,#edf2f5,#edf2f5,#edf2f5,#edf2f5,#ecf2f5,#ecf2f5,#ecf2f5,#ecf2f5,#ecf2f5,#ecf2f5)"></i><i style="background:linear-gradient(90deg,#ecf2f5,#ecf2f5,#ecf2f5,#ecf2f5,#ecf2f5,#ecf2f5,#ecf2f5,#ecf2f5,#ecf2f5,#ecf2f5,#ecf2f5,#ecf2f5,#ecf2f5,#ecf2f5,#ecf2f5,#ecf2f5,#ecf2f5,#ecf2f5,#ecf2f5,#ecf2f5,#ecf2f5,#ecf2f5,#ecf2f5,#ecf2f5,#ecf2f5,#ecf2f5,#ecf2f5,#ecf2f5,#ecf2f5,#ecf2f5,#ecf2f5,#ecf2f5,#ecf2f5,#ecf2f5,#ecf2f5,#ecf2f5,#ecf2f5,#ecf2f5,#ecf2f5,#ecf2f5)"></i></div>
<div class="hm" style="left:264.80px;top:179.00px;width:143.50px;height:134.10px"><i style="background:linear-gradient(90deg,#d0e1f2,#d0e1f2,#d0e1f2,#d0e1f2,#d0e1f2,#d0e1f2,#d0e1f2,#cfe1f2,#cfe1f2,#cfe1f2,#cfe1f2,#cfe1f2,#cee0f2,#cee0f2,#cee0f2,#cee0f2,#cee0f2,#cee0f2,#cee0f2,#cee0f2,#cee0f2,#cee0f2,#cee0f2,#cee0f2,#cee0f2,#cee0f2,#cee0f2,#cee0f2,#cfe1f2,#cfe1f2,#cfe1f2,#cfe1f2,#cfe1f2,#d0e1f2,#d0e1f2,#d0e1f2,#d0e1f2,#d0e1f2,#d0e1f2,#d0e1f2)"></i><i style="background:linear-gradient(90deg,#d0e1f2,#d0e1f2,#d0e1f2,#d0e1f2,#d0e1f2,#d0e1f2,#cfe1f2,#cfe1f2,#cfe1f2,#cfe1f2,#cfe1f2,#cfe1f2,#cee0f2,#cee0f2,#cee0f2,#cee0f2,#cee0f2,#cee0f2,#cee0f2,#cee0f2,#cee0f2,#cee0f2,#cee0f2,#cee0f2,#cee0f2,#cee0f2,#cee0f2,#cee0f2,#cfe1f2,#cfe1f2,#cfe1f2,#cfe1f2,#cfe1f2,#cfe1f2,#d0e1f2,#d0e1f2,#d0e1f2,#d0e1f2,#d0e1f2,#d0e1f2)"></i><i style="background:linear-gradient(90deg,#d0e1f2,#d0e1f2,#d0e1f2,#d0e1f2,#d0e1f2,#d0e1f2,#cfe1f2,#cfe1f2,#cfe1f2,#cfe1f2,#cfe1f2,#cfe1f2,#cee0f2,#cee0f2,#cee0f2,#cee0f2,#cee0f2,#cee0f2,#cee0f2,#cee0f2,#cee0f2,#cee0f2,#cee0f2,#cee0f2,#cee0f2,#cee0f2,#cee0f2,#cee0f2,#cfe1f2,#cfe1f2,#cfe1f2,#cfe1f2,#cfe1f2,#cfe1f2,#d0e1f2,#d0e1f2,#d0e1f2,#d0e1f2,#d0e1f2,#d0e1f2)"></i><i style="background:linear-gradient(90deg,#d0e1f2,#d0e1f2,#d0e1f2,#d0e1f2,#d0e1f2,#d0e1f2,#cfe1f2,#cfe1f2,#cfe1f2,#cfe1f2,#cfe1f2,#cee0f2,#cee0f2,#cee0f2,#cee0f2,#cee0f2,#cee0f2,#cee0f2,#cee0f2,#cee0f2,#cee0f2,#cee0f2,#cee0f2,#cee0f2,#cee0f2,#cee0f2,#cee0f2,#cee0f2,#cee0f2,#cfe1f2,#cfe1f2,#cfe1f2,#cfe1f2,#cfe1f2,#d0e1f2,#d0e1f2,#d0e1f2,#d0e1f2,#d0e1f2,#d0e1f2)"></i><i style="background:linear-gradient(90deg,#d0e1f2,#d0e1f2,#d0e1f2,#d0e1f2,#d0e1f2,#d0e1f2,#cfe1f2,#cfe1f2,#cfe1f2,#cfe1f2,#cfe1f2,#cee0f2,#cee0f2,#cee0f2,#cee0f2,#cee0f2,#cee0f2,#cee0f2,#cee0f2,#cee0f2,#cee0f2,#cee0f2,#cee0f2,#cee0f2,#cee0f2,#cee0f2,#cee0f2,#cee0f2,#cee0f2,#cfe1f2,#cfe1f2,#cfe1f2,#cfe1f2,#cfe1f2,#d0e1f2,#d0e1f2,#d0e1f2,#d0e1f2,#d0e1f2,#d0e1f2)"></i><i style="background:linear-gradient(90deg,#d0e1f2,#d0e1f2,#d0e1f2,#d0e1f2,#d0e1f2,#d0e1f2,#cfe1f2,#cfe1f2,#cfe1f2,#cfe1f2,#cfe1f2,#cee0f2,#cee0f2,#cee0f2,#cee0f2,#cee0f2,#cee0f2,#cee0f2,#cde0f1,#cde0f1,#cde0f1,#cde0f1,#cee0f2,#cee0f2,#cee0f2,#cee0f2,#cee0f2,#cee0f2,#cee0f2,#cfe1f2,#cfe1f2,#cfe1f2,#cfe1f2,#cfe1f2,#d0e1f2,#d0e1f2,#d0e1f2,#d0e1f2,#d0e1f2,#d0e1f2)"></i><i style="background:linear-gradient(90deg,#d0e1f2,#d0e1f2,#d0e1f2,#d0e1f2,#d0e1f2,#d0e1f2,#cfe1f2,#cfe1f2,#cfe1f2,#cfe1f2,#cee0f2,#cee0f2,#cee0f2,#cee0f2,#cee0f2,#cee0f2,#cee0f2,#cde0f1,#cde0f1,#cde0f1,#cde0f1,#cde0f1,#cde0f1,#cee0f2,#cee0f2,#cee0f2,#cee0f2,#cee0f2,#cee0f2,#cee0f2,#cfe1f2,#cfe1f2,#cfe1f2,#cfe1f2,#d0e1f2,#d0e1f2,#d0e1f2,#d0e1f2,#d0e1f2,#d0e1f2)"></i><i style="background:linear-gradient(90deg,#d0e1f2,#d0e1f2,#d0e1f2,#d0e1f2,#d0e1f2,#d0e1f2,#cfe1f2,#cfe1f2,#cfe1f2,#cfe1f2,#cee0f2,#cee0f2,#cee0f2,#cee0f2,#cee0f2,#cee0f2,#cde0f1,#cde0f1,#cde0f1,#cde0f1,#cde0f1,#cde0f1,#cde0f1,#cde0f1,#cee0f2,#cee0f2,#cee0f2,#cee0f2,#cee0f2,#cee0f2,#cfe1f2,#cfe1f2,#cfe1f2,#cfe1f2,#d0e1f2,#d0e1f2,#d0e1f2,#d0e1f2,#d0e1f2,#d0e1f2)"></i><i style="background:linear-gradient(90deg,#d0e1f2,#d0e1f2,#d0e1f2,#d0e1f2,#d0e1f2,#d0e1f2,#cfe1f2,#cfe1f2,#cfe1f2,#cfe1f2,#cee0f2,#cee0f2,#cee0f2,#cee0f2,#cee0f2,#cde0f1,#cde0f1,#cde0f1,#cde0f1,#cde0f1,#cde0f1,#cde0f1,#cde0f1,#cde0f1,#cde0f1,#cee0f2,#cee0f2,#cee0f2,#cee0f2,#cee0f2,#cfe1f2,#cfe1f2,#cfe1f2,#cfe1f2,#d0e1f2,#d0e1f2,#d0e1f2,#d0e1f2,#d0e1f2,#d0e1f2)"></i><i style="background:linear-gradient(90deg,#d0e1f2,#d0e1f2,#d0e1f2,#d0e1f2,#d0e1f2,#cfe1f2,#cfe1f2,#cfe1f2,#cfe1f2,#cfe1f2,#cee0f2,#cee0f2,#cee0f2,#cee0f2,#cee0f2,#cde0f1,#cde0f1,#cde0f1,#cde0f1,#cde0f1,#cde0f1,#cde0f1,#cde0f1,#cde0f1,#cde0f1,#cee0f2,#cee0f2,#cee0f2,#cee0f2,#cee0f2,#cfe1f2,#cfe1f2,#cfe1f2,#cfe1f2,#cfe1f2,#d0e1f2,#d0e1f2,#d0e1f2,#d0e1f2,#d0e1f2)"></i><i style="background:linear-gradient(90deg,#d0e1f2,#d0e1f2,#d0e1f2,#d0e1f2,#d0e1f2,#cfe1f2,#cfe1f2,#cfe1f2,#cfe1f2,#cee0f2,#cee0f2,#cee0f2,#cee0f2,#cee0f2,#cde0f1,#cde0f1,#cde0f1,#cde0f1,#cde0f1,#cde0f1,#cde0f1,#cde0f1,#cde0f1,#cde0f1,#cde0f1,#cde0f1,#cee0f2,#cee0f2,#cee0f2,#cee0f2,#cee0f2,#cfe1f2,#cfe1f2,#cfe1f2,#cfe1f2,#d0e1f2,#d0e1f2,#d0e1f2,#d0e1f2,#d0e1f2)"></i><i style="background:linear-gradient(90deg,#d0e1f2,#d0e1f2,#d0e1f2,#d0e1f2,#d0e1f2,#cfe1f2,#cfe1f2,#cfe1f2,#cfe1f2,#cee0f2,#cee0f2,#cee0f2,#cee0f2,#cde0f1,#cde0f1,#cde0f1,#cde0f1,#cde0f1,#cde0f1,#cde0f1,#cde0f1,#cde0f1,#cde0f1,#cde0f1,#cde0f1,#cde0f1,#cde0f1,#cee0f2,#cee0f2,#cee0f2,#cee0f2,#cfe1f2,#cfe1f2,#cfe1f2,#cfe1f2,#d0e1f2,#d0e1f2,#d0e1f2,#d0e1f2,#d0e1f2)"></i><i style="background:linear-gradient(90deg,#d0e1f2,#d0e1f2,#d0e1f2,#d0e1f2,#d0e1f2,#cfe1f2,#cfe1f2,#cfe1f2,#cfe1f2,#cee0f2,#cee0f2,#cee0f2,#cee0f2,#cde0f1,#cde0f1,#cde0f1,#cde0f1,#cde0f1,#cde0f1,#cde0f1,#cde0f1,#cde0f1,#cde0f1,#cde0f1,#cde0f1,#cde0f1,#cde0f1,#cee0f2,#cee0f2,#cee0f2,#cee0f2,#cfe1f2,#cfe1f2,#cfe1f2,#cfe1f2,#d0e1f2,#d0e1f2,#d0e1f2,#d0e1f2,#d0e1f2)"></i><i style="background:linear-gradient(90deg,#d0e1f2,#d0e1f2,#d0e1f2,#d0e1f2,#d0e1f2,#cfe1f2,#cfe1f2,#cfe1f2,#cfe1f2,#cee0f2,#cee0f2,#cee0f2,#cee0f2,#cde0f1,#cde0f1,#cde0f1,#cde0f1,#cde0f1,#cde0f1,#cde0f1,#cde0f1,#cde0f1,#cde0f1,#cde0f1,#cde0f1,#cde0f1,#cde0f1,#cee0f2,#cee0f2,#cee0f2,#cee0f2,#cfe1f2,#cfe1f2,#cfe1f2,#cfe1f2,#d0e1f2,#d0e1f2,#d0e1f2,#d0e1f2,#d0e1f2)"></i><i style="background:linear-gradient(90deg,#d0e1f2,#d0e1f2,#d0e1f2,#d0e1f2,#d0e1f2,#cfe1f2,#cfe1f2,#cfe1f2,#cee0f2,#cee0f2,#cee0f2,#cee0f2,#cde0f1,#cde0f1,#cde0f1,#cde0f1,#cde0f1,#cde0f1,#cddff1,#cddff1,#cddff1,#cddff1,#cde0f1,#cde0f1,#cde0f1,#cde0f1,#cde0f1,#cde0f1,#cee0f2,#cee0f2,#cee0f2,#cee0f2,#cfe1f2,#cfe1f2,#cfe1f2,#d0e1f2,#d0e1f2,#d0e1f2,#d0e1f2,#d0e1f2)"></i><i style="background:linear-gradient(90deg,#d0e1f2,#d0e1f2,#d0e1f2,#d0e1f2,#d0e1f2,#cfe1f2,#cfe1f2,#cfe1f2,#cee0f2,#cee0f2,#cee0f2,#cee0f2,#cde0f1,#cde0f1,#cde0f1,#cde0f1,#cde0f1,#cddff1,#cddff1,#cddff1,#cddff1,#cddff1,#cddff1,#cde0f1,#cde0f1,#cde0f1,#cde0f1,#cde0f1,#cee0f2,#cee0f2,#cee0f2,#cee0f2,#cfe1f2,#cfe1f2,#cfe1f2,#d0e1f2,#d0e1f2,#d0e1f2,#d0e1f2,#d0e1f2)"></i><i style="background:linear-gradient(90deg,#d0e1f2,#d0e1f2,#d0e1f2,#d0e1f2,#d0e1f2,#cfe1f2,#cfe1f2,#cfe1f2,#cee0f2,#cee0f2,#cee0f2,#cde0f1,#cde0f1,#cde0f1,#cde0f1,#cde0f1,#cddff1,#cddff1,#cddff1,#cddff1,#cddff1,#cddff1,#cddff1,#cddff1,#cde0f1,#cde0f1,#cde0f1,#cde0f1,#cde0f1,#cee0f2,#cee0f2,#cee0f2,#cfe1f2,#cfe1f2,#cfe1f2,#d0e1f2,#d0e1f2,#d0e1f2,#d0e1f2,#d0e1f2)"></i><i style="background:linear-gradient(90deg,#d0e1f2,#d0e1f2,#d0e1f2,#d0e1f2,#d0e1f2,#cfe1f2,#cfe1f2,#cfe1f2,#cee0f2,#cee0f2,#cee0f2,#cde0f1,#cde0f1,#cde0f1,#cde0f1,#cddff1,#cddff1,#cddff1,#cddff1,#cddff1,#cddff1,#cddff1,#cddff1,#cddff1,#cddff1,#cde0f1,#cde0f1,#cde0f1,#cde0f1,#cee0f2,#cee0f2,#cee0f2,#cfe1f2,#cfe1f2,#cfe1f2,#d0e1f2,#d0e1f2,#d0e1f2,#d0e1f2,#d0e1f2)"></i><i style="background:linear-gradient(90deg,#d0e1f2,#d0e1f2,#d0e1f2,#d0e1f2,#cfe1f2,#cfe1f2,#cfe1f2,#cfe1f2,#cee0f2,#cee0f2,#cee0f2,#cde0f1,#cde0f1,#cde0f1,#cddff1,#cddff1,#cddff1,#cddff1,#cddff1,#cddff1,#cddff1,#cddff1,#cddff1,#cddff1,#cddff1,#cddff1,#cde0f1,#cde0f1,#cde0f1,#cee0f2,#cee0f2,#cee0f2,#cfe1f2,#cfe1f2,#cfe1f2,#cfe1f2,#d0e1f2,#d0e1f2,#d0e1f2,#d0e1f2)"></i><i style="background:linear-gradient(90deg,#d0e1f2,#d0e1f2,#d0e1f2,#d0e1f2,#cfe1f2,#cfe1f2,#cfe1f2,#cee0f2,#cee0f2,#cee0f2,#cde0f1,#cde0f1,#cde0f1,#cde0f1,#cddff1,#cddff1,#cddff1,#cddff1,#cddff1,#cddff1,#cddff1,#cddff1,#cddff1,#cddff1,#cddff1,#cddff1,#cde0f1,#cde0f1,#cde0f1,#cde0f1,#cee0f2,#cee0f2,#cee0f2,#cfe1f2,#cfe1f2,#cfe1f2,#d0e1f2,#d0e1f2,#d0e1f2,#d0e1f2)"></i><i style="background:linear-gradient(90deg,#d0e1f2,#d0e1f2,#d0e1f2,#d0e1f2,#cfe1f2,#cfe1f2,#cfe1f2,#cee0f2,#cee0f2,#cee0f2,#cde0f1,#cde0f1,#cde0f1,#cddff1,#cddff1,#cddff1,#cddff1,#cddff1,#ccdff1,#ccdff1,#ccdff1,#ccdff1,#cddff1,#cddff1,#cddff1,#cddff1,#cddff1,#cde0f1,#cde0f1,#cde0f1,#cee0f2,#cee0f2,#cee0f2,#cfe1f2,#cfe1f2,#cfe1f2,#d0e1f2,#d0e1f2,#d0e1f2,#d0e1f2)"></i><i style="background:linear-gradient(90deg,#d0e1f2,#d0e1f2,#d0e1f2,#d0e1f2,#cfe1f2,#cfe1f2,#cfe1f2,#cee0f2,#cee0f2,#cee0f2,#cde0f1,#cde0f1,#cddff1,#cddff1,#cddff1,#cddff1,#ccdff1,#ccdff1,#ccdff1,#ccdff1,#ccdff1,#ccdff1,#ccdff1,#ccdff1,#cddff1,#cddff1,#cddff1,#cddff1,#cde0f1,#cde0f1,#cee0f2,#cee0f2,#cee0f2,#cfe1f2,#cfe1f2,#cfe1f2,#d0e1f2,#d0e1f2,#d0e1f2,#d0e1f2)"></i><i style="background:linear-gradient(90deg,#d0e1f2,#d0e1f2,#d0e1f2,#d0e1f2,#cfe1f2,#cfe1f2,#cfe1f2,#cee0f2,#cee0f2,#cde0f1,#cde0f1,#cde0f1,#cddff1,#cddff1,#cddff1,#ccdff1,#ccdff1,#ccdff1,#ccdff1,#ccdff1,#ccdff1,#ccdff1,#ccdff1,#ccdff1,#ccdff1,#cddff1,#cddff1,#cddff1,#cde0f1,#cde0f1,#cde0f1,#cee0f2,#cee0f2,#cfe1f2,#cfe1f2,#cfe1f2,#d0e1f2,#d0e1f2,#d0e1f2,#d0e1f2)"></i><i style="background:linear-gradient(90deg,#d0e1f2,#d0e1f2,#d0e1f2,#d0e1f2,#cfe1f2,#cfe1f2,#cfe1f2,#cee0f2,#cee0f2,#cde0f1,#cde0f1,#cde0f1,#cddff1,#cddff1,#cddff1,#ccdff1,#ccdff1,#ccdff1,#ccdff1,#ccdff1,#ccdff1,#ccdff1,#ccdff1,#ccdff1,#ccdff1,#cddff1,#cddff1,#cddff1,#cde0f1,#cde0f1,#cde0f1,#cee0f2,#cee0f2,#cfe1f2,#cfe1f2,#cfe1f2,#d0e1f2,#d0e1f2,#d0e1f2,#d0e1f2)"></i><i style="background:linear-gradient(90deg,#d0e1f2,#d0e1f2,#d0e1f2,#d0e1f2,#cfe1f2,#cfe1f2,#cee0f2,#cee0f2,#cee0f2,#cde0f1,#cde0f1,#cddff1,#cddff1,#cddff1,#ccdff1,#ccdff1,#ccdff1,#ccdff1,#ccdff1,#cbdef1,#cbdef1,#ccdff1,#ccdff1,#ccdff1,#ccdff1,#ccdff1,#cddff1,#cddff1,#cddff1,#cde0f1,#cde0f1,#cee0f2,#cee0f2,#cee0f2,#cfe1f2,#cfe1f2,#d0e1f2,#d0e1f2,#d0e1f2,#d0e1f2)"></i><i style="background:linear-gradient(90deg,#d0e1f2,#d0e1f2,#d0e1f2,#d0e1f2,#cfe1f2,#cfe1f2,#cee0f2,#cee0f2,#cde0f1,#cde0f1,#cde0f1,#cddff1,#cddff1,#ccdff1,#ccdff1,#ccdff1,#ccdff1,#cbdef1,#cbdef1,#cbdef1,#cbdef1,#cbdef1,#cbdef1,#ccdff1,#ccdff1,#ccdff1,#ccdff1,#cddff1,#cddff1,#cde0f1,#cde0f1,#cde0f1,#cee0f2,#cee0f2,#cfe1f2,#cfe1f2,#d0e1f2,#d0e1f2,#d0e1f2,#d0e1f2)"></i><i style="background:linear-gradient(90deg,#d0e1f2,#d0e1f2,#d0e1f2,#d0e1f2,#cfe1f2,#cfe1f2,#cee0f2,#cee0f2,#cde0f1,#cde0f1,#cddff1,#cddff1,#cddff1,#ccdff1,#ccdff1,#ccdff1,#cbdef1,#cbdef1,#cbdef1,#cbdef1,#cbdef1,#cbdef1,#cbdef1,#cbdef1,#ccdff1,#ccdff1,#ccdff1,#cddff1,#cddff1,#cddff1,#cde0f1,#cde0f1,#cee0f2,#cee0f2,#cfe1f2,#cfe1f2,#d0e1f2,#d0e1f2,#d0e1f2,#d0e1f2)"></i><i style="background:linear-gradient(90deg,#d0e1f2,#d0e1f2,#d0e1f2,#cfe1f2,#cfe1f2,#cfe1f2,#cee0f2,#cee0f2,#cde0f1,#cde0f1,#cddff1,#cddff1,#ccdff1,#ccdff1,#ccdff1,#cbdef1,#cbdef1,#cbdef1,#cbdef1,#cbdef1,#cbdef1,#cbdef1,#cbdef1,#cbdef1,#cbdef1,#ccdff1,#ccdff1,#ccdff1,#cddff1,#cddff1,#cde0f1,#cde0f1,#cee0f2,#cee0f2,#cfe1f2,#cfe1f2,#cfe1f2,#d0e1f2,#d0e1f2,#d0e1f2)"></i><i style="background:linear-gradient(90deg,#d0e1f2,#d0e1f2,#d0e1f2,#cfe1f2,#cfe1f2,#cfe1f2,#cee0f2,#cee0f2,#cde0f1,#cddff1,#cddff1,#ccdff1,#ccdff1,#ccdff1,#cbdef1,#cbdef1,#cbdef1,#cadef0,#cadef0,#cadef0,#cadef0,#cadef0,#cadef0,#cbdef1,#cbdef1,#cbdef1,#ccdff1,#ccdff1,#ccdff1,#cddff1,#cddff1,#cde0f1,#cee0f2,#cee0f2,#cfe1f2,#cfe1f2,#cfe1f2,#d0e1f2,#d0e1f2,#d0e1f2)"></i><i style="background:linear-gradient(90deg,#d0e1f2,#d0e1f2,#d0e1f2,#cfe1f2,#cfe1f2,#cee0f2,#cee0f2,#cde0f1,#cde0f1,#cddff1,#cddff1,#ccdff1,#ccdff1,#cbdef1,#cbdef1,#cbdef1,#cadef0,#cadef0,#cadef0,#cadef0,#cadef0,#cadef0,#cadef0,#cadef0,#cbdef1,#cbdef1,#cbdef1,#ccdff1,#ccdff1,#cddff1,#cddff1,#cde0f1,#cde0f1,#cee0f2,#cee0f2,#cfe1f2,#cfe1f2,#d0e1f2,#d0e1f2,#d0e1f2)"></i><i style="background:linear-gradient(90deg,#d0e1f2,#d0e1f2,#d0e1f2,#cfe1f2,#cfe1f2,#cee0f2,#cee0f2,#cde0f1,#cde0f1,#cddff1,#ccdff1,#ccdff1,#cbdef1,#cbdef1,#cadef0,#cadef0,#cadef0,#cadef0,#caddf0,#caddf0,#caddf0,#caddf0,#cadef0,#cadef0,#cadef0,#cadef0,#cbdef1,#cbdef1,#ccdff1,#ccdff1,#cddff1,#cde0f1,#cde0f1,#cee0f2,#cee0f2,#cfe1f2,#cfe1f2,#d0e1f2,#d0e1f2,#d0e1f2)"></i><i style="background:linear-gradient(90deg,#d0e1f2,#d0e1f2,#d0e1f2,#cfe1f2,#cfe1f2,#cee0f2,#cee0f2,#cde0f1,#cddff1,#cddff1,#ccdff1,#ccdff1,#cbdef1,#cadef0,#cadef0,#cadef0,#caddf0,#caddf0,#caddf0,#caddf0,#caddf0,#caddf0,#caddf0,#caddf0,#cadef0,#cadef0,#cadef0,#cbdef1,#ccdff1,#ccdff1,#cddff1,#cddff1,#cde0f1,#cee0f2,#cee0f2,#cfe1f2,#cfe1f2,#d0e1f2,#d0e1f2,#d0e1f2)"></i><i style="background:linear-gradient(90deg,#d0e1f2,#d0e1f2,#d0e1f2,#cfe1f2,#cfe1f2,#cee0f2,#cde0f1,#cde0f1,#cddff1,#ccdff1,#ccdff1,#cbdef1,#cbdef1,#cadef0,#cadef0,#caddf0,#caddf0,#caddf0,#c9ddf0,#c9ddf0,#c9ddf0,#c9ddf0,#caddf0,#caddf0,#caddf0,#cadef0,#cadef0,#cbdef1,#cbdef1,#ccdff1,#ccdff1,#cddff1,#cde0f1,#cde0f1,#cee0f2,#cfe1f2,#cfe1f2,#d0e1f2,#d0e1f2,#d0e1f2)"></i><i style="background:linear-gradient(90deg,#d0e1f2,#d0e1f2,#d0e1f2,#cfe1f2,#cfe1f2,#cee0f2,#cde0f1,#cde0f1,#cddff1,#ccdff1,#cbdef1,#cbdef1,#cadef0,#cadef0,#caddf0,#caddf0,#c9ddf0,#c9ddf0,#c9ddf0,#c9ddf0,#c9ddf0,#c9ddf0,#c9ddf0,#c9ddf0,#caddf0,#caddf0,#cadef0,#cadef0,#cbdef1,#cbdef1,#ccdff1,#cddff1,#cde0f1,#cde0f1,#cee0f2,#cfe1f2,#cfe1f2,#d0e1f2,#d0e1f2,#d0e1f2)"></i><i style="background:linear-gradient(90deg,#d0e1f2,#d0e1f2,#d0e1f2,#cfe1f2,#cee0f2,#cee0f2,#cde0f1,#cddff1,#ccdff1,#ccdff1,#cbdef1,#cadef0,#cadef0,#caddf0,#c9ddf0,#c9ddf0,#c8dcf0,#c8dcf0,#c8dcf0,#c8dcf0,#c8dcf0,#c8dcf0,#c8dcf0,#c8dcf0,#c9ddf0,#c9ddf0,#caddf0,#cadef0,#cadef0,#cbdef1,#ccdff1,#ccdff1,#cddff1,#cde0f1,#cee0f2,#cee0f2,#cfe1f2,#d0e1f2,#d0e1f2,#d0e1f2)"></i><i style="background:linear-gradient(90deg,#d0e1f2,#d0e1f2,#cfe1f2,#cfe1f2,#cee0f2,#cee0f2,#cde0f1,#cddff1,#ccdff1,#cbdef1,#cadef0,#cadef0,#caddf0,#c9ddf0,#c9ddf0,#c8dcf0,#c8dcf0,#c7dcef,#c7dcef,#c7dcef,#c7dcef,#c7dcef,#c7dcef,#c8dcf0,#c8dcf0,#c9ddf0,#c9ddf0,#caddf0,#cadef0,#cadef0,#cbdef1,#ccdff1,#cddff1,#cde0f1,#cee0f2,#cee0f2,#cfe1f2,#cfe1f2,#d0e1f2,#d0e1f2)"></i><i style="background:linear-gradient(90deg,#d0e1f2,#d0e1f2,#cfe1f2,#cfe1f2,#cee0f2,#cde0f1,#cddff1,#cddff1,#ccdff1,#cbdef1,#cadef0,#caddf0,#c9ddf0,#c8dcf0,#c8dcf0,#c7dcef,#c7dcef,#c7dbef,#c7dbef,#c7dbef,#c7dbef,#c7dbef,#c7dbef,#c7dcef,#c7dcef,#c8dcf0,#c8dcf0,#c9ddf0,#caddf0,#cadef0,#cbdef1,#ccdff1,#cddff1,#cddff1,#cde0f1,#cee0f2,#cfe1f2,#cfe1f2,#d0e1f2,#d0e1f2)"></i><i style="background:linear-gradient(90deg,#d0e1f2,#d0e1f2,#cfe1f2,#cfe1f2,#cee0f2,#cde0f1,#cddff1,#ccdff1,#cbdef1,#cadef0,#caddf0,#c9ddf0,#c8dcf0,#c8dcf0,#c7dcef,#c7dbef,#c7dbef,#c6dbef,#c6dbef,#c6dbef,#c6dbef,#c6dbef,#c6dbef,#c7dbef,#c7dbef,#c7dcef,#c8dcf0,#c8dcf0,#c9ddf0,#caddf0,#cadef0,#cbdef1,#ccdff1,#cddff1,#cde0f1,#cee0f2,#cfe1f2,#cfe1f2,#d0e1f2,#d0e1f2)"></i><i style="background:linear-gradient(90deg,#d0e1f2,#d0e1f2,#cfe1f2,#cee0f2,#cee0f2,#cde0f1,#cddff1,#ccdff1,#cadef0,#caddf0,#c9ddf0,#c8dcf0,#c7dcef,#c7dbef,#c7dbef,#c6dbef,#c4daee,#c3daee,#c2d9ee,#c2d9ee,#c2d9ee,#c2d9ee,#c3daee,#c4daee,#c6dbef,#c7dbef,#c7dbef,#c7dcef,#c8dcf0,#c9ddf0,#caddf0,#cadef0,#ccdff1,#cddff1,#cde0f1,#cee0f2,#cee0f2,#cfe1f2,#d0e1f2,#d0e1f2)"></i><i style="background:linear-gradient(90deg,#d0e1f2,#d0e1f2,#cfe1f2,#cee0f2,#cde0f1,#cddff1,#ccdff1,#cbdef1,#cadef0,#caddf0,#c8dcf0,#c7dcef,#c7dbef,#c6dbef,#c4daee,#c2d9ee,#c1d9ed,#bfd8ed,#bfd8ed,#bfd8ed,#bfd8ed,#bfd8ed,#bfd8ed,#c1d9ed,#c2d9ee,#c4daee,#c6dbef,#c7dbef,#c7dcef,#c8dcf0,#caddf0,#cadef0,#cbdef1,#ccdff1,#cddff1,#cde0f1,#cee0f2,#cfe1f2,#d0e1f2,#d0e1f2)"></i><i style="background:linear-gradient(90deg,#d0e1f2,#d0e1f2,#cfe1f2,#cee0f2,#cde0f1,#cddff1,#ccdff1,#cadef0,#caddf0,#c9ddf0,#c7dcef,#c7dbef,#c6dbef,#c3daee,#c1d9ed,#bfd8ed,#bed8ec,#bdd7ec,#bcd7eb,#bcd7eb,#bcd7eb,#bcd7eb,#bdd7ec,#bed8ec,#bfd8ed,#c1d9ed,#c3daee,#c6dbef,#c7dbef,#c7dcef,#c9ddf0,#caddf0,#cadef0,#ccdff1,#cddff1,#cde0f1,#cee0f2,#cfe1f2,#d0e1f2,#d0e1f2)"></i><i style="background:linear-gradient(90deg,#d0e1f2,#d0e1f2,#cfe1f2,#cee0f2,#cde0f1,#ccdff1,#cbdef1,#caddf0,#c9ddf0,#c7dcef,#c7dbef,#c6dbef,#c2d9ee,#bfd8ed,#bdd7ec,#bcd7eb,#bad6eb,#b9d6ea,#b8d5ea,#b8d5ea,#b8d5ea,#b8d5ea,#b9d6ea,#bad6eb,#bcd7eb,#bdd7ec,#bfd8ed,#c2d9ee,#c6dbef,#c7dbef,#c7dcef,#c9ddf0,#caddf0,#cbdef1,#ccdff1,#cde0f1,#cee0f2,#cfe1f2,#d0e1f2,#d0e1f2)"></i><i style="background:linear-gradient(90deg,#d0e1f2,#d0e1f2,#cfe1f2,#cee0f2,#cddff1,#ccdff1,#cadef0,#caddf0,#c8dcf0,#c7dbef,#c6dbef,#c2d9ee,#bfd8ed,#bcd7eb,#b9d6ea,#b8d5ea,#b5d4e9,#b4d3e9,#b4d3e9,#b3d3e8,#b3d3e8,#b4d3e9,#b4d3e9,#b5d4e9,#b8d5ea,#b9d6ea,#bcd7eb,#bfd8ed,#c2d9ee,#c6dbef,#c7dbef,#c8dcf0,#caddf0,#cadef0,#ccdff1,#cddff1,#cee0f2,#cfe1f2,#d0e1f2,#d0e1f2)"></i><i style="background:linear-gradient(90deg,#d0e1f2,#cfe1f2,#cee0f2,#cde0f1,#cddff1,#cbdef1,#caddf0,#c8dcf0,#c7dcef,#c6dbef,#c2d9ee,#bed8ec,#bcd7eb,#b8d5ea,#b5d4e9,#b3d3e8,#b2d2e8,#b0d2e7,#afd1e7,#afd1e7,#afd1e7,#afd1e7,#b0d2e7,#b2d2e8,#b3d3e8,#b5d4e9,#b8d5ea,#bcd7eb,#bed8ec,#c2d9ee,#c6dbef,#c7dcef,#c8dcf0,#caddf0,#cbdef1,#cddff1,#cde0f1,#cee0f2,#cfe1f2,#d0e1f2)"></i><i style="background:linear-gradient(90deg,#d0e1f2,#cfe1f2,#cee0f2,#cde0f1,#ccdff1,#cadef0,#c9ddf0,#c7dcef,#c6dbef,#c3daee,#bed8ec,#bad6eb,#b7d4ea,#b4d3e9,#b0d2e7,#aed1e7,#add0e6,#abd0e6,#aacfe5,#aacfe5,#aacfe5,#aacfe5,#abd0e6,#add0e6,#aed1e7,#b0d2e7,#b4d3e9,#b7d4ea,#bad6eb,#bed8ec,#c3daee,#c6dbef,#c7dcef,#c9ddf0,#cadef0,#ccdff1,#cde0f1,#cee0f2,#cfe1f2,#d0e1f2)"></i><i style="background:linear-gradient(90deg,#d0e1f2,#cfe1f2,#cee0f2,#cddff1,#cbdef1,#caddf0,#c8dcf0,#c7dbef,#c3daee,#bfd8ed,#bad6eb,#b7d4ea,#b3d3e8,#afd1e7,#abd0e6,#a9cfe5,#a8cee4,#a5cde3,#a4cce3,#a4cce3,#a4cce3,#a4cce3,#a5cde3,#a8cee4,#a9cfe5,#abd0e6,#afd1e7,#b3d3e8,#b7d4ea,#bad6eb,#bfd8ed,#c3daee,#c7dbef,#c8dcf0,#caddf0,#cbdef1,#cddff1,#cee0f2,#cfe1f2,#d0e1f2)"></i><i style="background:linear-gradient(90deg,#d0e1f2,#cfe1f2,#cee0f2,#cddff1,#cbdef1,#c9ddf0,#c7dcef,#c4daee,#c1d9ed,#bcd7eb,#b7d4ea,#b2d2e8,#aed1e7,#aacfe5,#a6cee4,#a4cce3,#a1cbe2,#9fcae1,#9dcae1,#9dcae1,#9dcae1,#9dcae1,#9fcae1,#a1cbe2,#a4cce3,#a6cee4,#aacfe5,#aed1e7,#b2d2e8,#b7d4ea,#bcd7eb,#c1d9ed,#c4daee,#c7dcef,#c9ddf0,#cbdef1,#cddff1,#cee0f2,#cfe1f2,#d0e1f2)"></i><i style="background:linear-gradient(90deg,#d0e1f2,#cfe1f2,#cde0f1,#ccdff1,#cadef0,#c8dcf0,#c6dbef,#c2d9ee,#bdd7ec,#b7d4ea,#b2d2e8,#add0e6,#a8cee4,#a4cce3,#a0cbe2,#9dcae1,#9ac8e0,#97c6df,#95c5df,#94c4df,#94c4df,#95c5df,#97c6df,#9ac8e0,#9dcae1,#a0cbe2,#a4cce3,#a8cee4,#add0e6,#b2d2e8,#b7d4ea,#bdd7ec,#c2d9ee,#c6dbef,#c8dcf0,#cadef0,#ccdff1,#cde0f1,#cfe1f2,#d0e1f2)"></i><i style="background:linear-gradient(90deg,#d0e1f2,#cfe1f2,#cde0f1,#ccdff1,#caddf0,#c7dcef,#c4daee,#bfd8ed,#b9d6ea,#b3d3e8,#add0e6,#a8cee4,#a3cce3,#9dcae1,#99c7e0,#94c4df,#91c3de,#8dc1dd,#8cc0dd,#8cc0dd,#8cc0dd,#8cc0dd,#8dc1dd,#91c3de,#94c4df,#99c7e0,#9dcae1,#a3cce3,#a8cee4,#add0e6,#b3d3e8,#b9d6ea,#bfd8ed,#c4daee,#c7dcef,#caddf0,#ccdff1,#cde0f1,#cfe1f2,#d0e1f2)"></i><i style="background:linear-gradient(90deg,#d0e1f2,#cfe1f2,#cddff1,#cbdef1,#c9ddf0,#c6dbef,#c2d9ee,#bad6eb,#b4d3e9,#aed1e7,#a8cee4,#a1cbe2,#9cc9e1,#95c5df,#8fc2de,#8abfdd,#87bddc,#84bcdb,#82bbdb,#82bbdb,#82bbdb,#82bbdb,#84bcdb,#87bddc,#8abfdd,#8fc2de,#95c5df,#9cc9e1,#a1cbe2,#a8cee4,#aed1e7,#b4d3e9,#bad6eb,#c2d9ee,#c6dbef,#c9ddf0,#cbdef1,#cddff1,#cfe1f2,#d0e1f2)"></i><i style="background:linear-gradient(90deg,#d0e1f2,#cee0f2,#cddff1,#cadef0,#c7dcef,#c4daee,#bed8ec,#b7d4ea,#afd1e7,#a9cfe5,#a1cbe2,#9ac8e0,#92c4de,#8cc0dd,#85bcdc,#81badb,#7cb7da,#7ab6d9,#79b5d9,#77b5d9,#77b5d9,#79b5d9,#7ab6d9,#7cb7da,#81badb,#85bcdc,#8cc0dd,#92c4de,#9ac8e0,#a1cbe2,#a9cfe5,#afd1e7,#b7d4ea,#bed8ec,#c4daee,#c7dcef,#cadef0,#cddff1,#cee0f2,#d0e1f2)"></i><i style="background:linear-gradient(90deg,#d0e1f2,#cee0f2,#ccdff1,#caddf0,#c7dbef,#c2d9ee,#bad6eb,#b3d3e8,#aacfe5,#a3cce3,#9ac8e0,#91c3de,#89bedc,#81badb,#7ab6d9,#75b4d8,#71b1d7,#6fb0d7,#6caed6,#6caed6,#6caed6,#6caed6,#6fb0d7,#71b1d7,#75b4d8,#7ab6d9,#81badb,#89bedc,#91c3de,#9ac8e0,#a3cce3,#aacfe5,#b3d3e8,#bad6eb,#c2d9ee,#c7dbef,#caddf0,#ccdff1,#cee0f2,#d0e1f2)"></i><i style="background:linear-gradient(90deg,#d0e1f2,#cee0f2,#ccdff1,#c9ddf0,#c6dbef,#bfd8ed,#b7d4ea,#aed1e7,#a5cde3,#9cc9e1,#91c3de,#87bddc,#7db8da,#75b4d8,#6fb0d7,#6aaed6,#66abd4,#64a9d3,#61a7d2,#61a7d2,#61a7d2,#61a7d2,#64a9d3,#66abd4,#6aaed6,#6fb0d7,#75b4d8,#7db8da,#87bddc,#91c3de,#9cc9e1,#a5cde3,#aed1e7,#b7d4ea,#bfd8ed,#c6dbef,#c9ddf0,#ccdff1,#cee0f2,#d0e1f2)"></i><i style="background:linear-gradient(90deg,#d0e1f2,#cee0f2,#cbdef1,#c8dcf0,#c3daee,#bcd7eb,#b3d3e8,#a9cfe5,#9fcae1,#94c4df,#89bedc,#7db8da,#72b2d8,#6aaed6,#65aad4,#60a7d2,#5ca4d0,#58a1cf,#57a0ce,#56a0ce,#56a0ce,#57a0ce,#58a1cf,#5ca4d0,#60a7d2,#65aad4,#6aaed6,#72b2d8,#7db8da,#89bedc,#94c4df,#9fcae1,#a9cfe5,#b3d3e8,#bcd7eb,#c3daee,#c8dcf0,#cbdef1,#cee0f2,#d0e1f2)"></i><i style="background:linear-gradient(90deg,#d0e1f2,#cde0f1,#cbdef1,#c7dcef,#c1d9ed,#b9d6ea,#aed1e7,#a4cce3,#99c7e0,#8abfdd,#7db8da,#72b2d8,#68acd5,#61a7d2,#5ba3d0,#549fcd,#519ccc,#4d99ca,#4a98c9,#4a98c9,#4a98c9,#4a98c9,#4d99ca,#519ccc,#549fcd,#5ba3d0,#61a7d2,#68acd5,#72b2d8,#7db8da,#8abfdd,#99c7e0,#a4cce3,#aed1e7,#b9d6ea,#c1d9ed,#c7dcef,#cbdef1,#cde0f1,#d0e1f2)"></i><i style="background:linear-gradient(90deg,#d0e1f2,#cde0f1,#cadef0,#c7dbef,#bfd8ed,#b5d4e9,#aacfe5,#9fcae1,#91c3de,#82bbdb,#74b3d8,#68acd5,#5fa6d1,#57a0ce,#4f9bcb,#4997c9,#4594c7,#4191c6,#3f8fc5,#3e8ec4,#3e8ec4,#3f8fc5,#4191c6,#4594c7,#4997c9,#4f9bcb,#57a0ce,#5fa6d1,#68acd5,#74b3d8,#82bbdb,#91c3de,#9fcae1,#aacfe5,#b5d4e9,#bfd8ed,#c7dbef,#cadef0,#cde0f1,#d0e1f2)"></i><i style="background:linear-gradient(90deg,#d0e1f2,#cde0f1,#caddf0,#c4daee,#bdd7ec,#b2d2e8,#a5cde3,#97c6df,#87bddc,#77b5d9,#69add5,#5da5d1,#549fcd,#4b98ca,#4493c7,#3e8ec4,#3a8ac2,#3686c0,#3484bf,#3383be,#3383be,#3484bf,#3686c0,#3a8ac2,#3e8ec4,#4493c7,#4b98ca,#549fcd,#5da5d1,#69add5,#77b5d9,#87bddc,#97c6df,#a5cde3,#b2d2e8,#bdd7ec,#c4daee,#caddf0,#cde0f1,#d0e1f2)"></i><i style="background:linear-gradient(90deg,#d0e1f2,#cddff1,#c9ddf0,#c3daee,#b9d6ea,#add0e6,#a0cbe2,#8fc2de,#7fb9da,#6dafd7,#60a7d2,#549fcd,#4a98c9,#4090c5,#3a8ac2,#3484bf,#2f7fbc,#2c7cba,#2979b9,#2777b8,#2777b8,#2979b9,#2c7cba,#2f7fbc,#3484bf,#3a8ac2,#4090c5,#4a98c9,#549fcd,#60a7d2,#6dafd7,#7fb9da,#8fc2de,#a0cbe2,#add0e6,#b9d6ea,#c3daee,#c9ddf0,#cddff1,#d0e1f2)"></i><i style="background:linear-gradient(90deg,#d0e1f2,#cddff1,#c8dcf0,#c1d9ed,#b7d4ea,#a9cfe5,#9ac8e0,#89bedc,#75b4d8,#65aad4,#57a0ce,#4a98c9,#3f8fc5,#3787c0,#3080bd,#2a7ab9,#2474b7,#2070b4,#1e6db2,#1d6cb1,#1d6cb1,#1e6db2,#2070b4,#2474b7,#2a7ab9,#3080bd,#3787c0,#3f8fc5,#4a98c9,#57a0ce,#65aad4,#75b4d8,#89bedc,#9ac8e0,#a9cfe5,#b7d4ea,#c1d9ed,#c8dcf0,#cddff1,#d0e1f2)"></i><i style="background:linear-gradient(90deg,#cfe1f2,#cddff1,#c8dcf0,#bfd8ed,#b4d3e9,#a5cde3,#94c4df,#81badb,#6caed6,#5ca4d0,#4d99ca,#4090c5,#3787c0,#2e7ebc,#2575b7,#1f6eb3,#1b69af,#1865ac,#1562a9,#1460a8,#1460a8,#1562a9,#1865ac,#1b69af,#1f6eb3,#2575b7,#2e7ebc,#3787c0,#4090c5,#4d99ca,#5ca4d0,#6caed6,#81badb,#94c4df,#a5cde3,#b4d3e9,#bfd8ed,#c8dcf0,#cddff1,#cfe1f2)"></i><i style="background:linear-gradient(90deg,#d1e2f3,#ccdff1,#c7dcef,#bed8ec,#b0d2e7,#a1cbe2,#8dc1dd,#79b5d9,#65aad4,#549fcd,#4493c7,#3888c1,#2e7ebc,#2474b7,#1c6bb0,#1764ab,#125ea6,#0f5aa3,#0c56a0,#0b559f,#0b559f,#0c56a0,#0f5aa3,#125ea6,#1764ab,#1c6bb0,#2474b7,#2e7ebc,#3888c1,#4493c7,#549fcd,#65aad4,#79b5d9,#8dc1dd,#a1cbe2,#b0d2e7,#bed8ec,#c7dcef,#ccdff1,#d1e2f3)"></i><i style="background:linear-gradient(90deg,#d6e6f4,#ccdff1,#c7dbef,#bcd7eb,#aed1e7,#9dcae1,#87bddc,#72b2d8,#5da5d1,#4d99ca,#3d8dc4,#3181bd,#2575b7,#1c6bb0,#1562a9,#0f5aa3,#0a549e,#084f99,#084c95,#084a91,#084a91,#084c95,#084f99,#0a549e,#0f5aa3,#1562a9,#1c6bb0,#2575b7,#3181bd,#3d8dc4,#4d99ca,#5da5d1,#72b2d8,#87bddc,#9dcae1,#aed1e7,#bcd7eb,#c7dbef,#ccdff1,#d6e6f4)"></i><i style="background:linear-gradient(90deg,#dce9f6,#cde0f1,#c6dbef,#bad6eb,#abd0e6,#99c7e0,#82bbdb,#6aaed6,#58a1cf,#4594c7,#3686c0,#2a7ab9,#1e6db2,#1663aa,#0e59a2,#08519c,#084a91,#08458a,#084184,#084082,#084082,#084184,#08458a,#084a91,#08519c,#0e59a2,#1663aa,#1e6db2,#2a7ab9,#3686c0,#4594c7,#58a1cf,#6aaed6,#82bbdb,#99c7e0,#abd0e6,#bad6eb,#c6dbef,#cde0f1,#dce9f6)"></i><i style="background:linear-gradient(90deg,#e1edf8,#d0e2f2,#c4daee,#b9d6ea,#a9cfe5,#95c5df,#7db8da,#66abd4,#529dcc,#3f8fc5,#3181bd,#2373b6,#1966ad,#105ba4,#08519c,#08488e,#084184,#083b7c,#083776,#083573,#083573,#083776,#083b7c,#084184,#08488e,#08519c,#105ba4,#1966ad,#2373b6,#3181bd,#3f8fc5,#529dcc,#66abd4,#7db8da,#95c5df,#a9cfe5,#b9d6ea,#c4daee,#d0e2f2,#e1edf8)"></i><i style="background:linear-gradient(90deg,#e6f0f9,#d3e4f3,#c4daee,#b8d5ea,#a8cee4,#92c4de,#79b5d9,#63a8d3,#4e9acb,#3b8bc2,#2c7cba,#1f6eb3,#1561a9,#0b559f,#084b93,#084285,#083979,#083471,#08306b,#08306b,#08306b,#08306b,#083471,#083979,#084285,#084b93,#0b559f,#1561a9,#1f6eb3,#2c7cba,#3b8bc2,#4e9acb,#63a8d3,#79b5d9,#92c4de,#a8cee4,#b8d5ea,#c4daee,#d3e4f3,#e6f0f9)"></i><i style="background:linear-gradient(90deg,#eaf2fb,#d5e5f4,#c4daee,#b7d4ea,#a6cee4,#8fc2de,#77b5d9,#5fa6d1,#4a98c9,#3888c1,#2979b9,#1c6ab0,#125da6,#08519c,#08468b,#083c7d,#083471,#08306b,#08306b,#08306b,#08306b,#08306b,#08306b,#083471,#083c7d,#08468b,#08519c,#125da6,#1c6ab0,#2979b9,#3888c1,#4a98c9,#5fa6d1,#77b5d9,#8fc2de,#a6cee4,#b7d4ea,#c4daee,#d5e5f4,#eaf2fb)"></i><i style="background:linear-gradient(90deg,#edf4fc,#d6e6f4,#c3daee,#b7d4ea,#a5cde3,#8fc2de,#75b4d8,#5da5d1,#4997c9,#3686c0,#2676b8,#1a68ae,#105ba4,#084f99,#084488,#083979,#08326e,#08306b,#08306b,#08306b,#08306b,#08306b,#08306b,#08326e,#083979,#084488,#084f99,#105ba4,#1a68ae,#2676b8,#3686c0,#4997c9,#5da5d1,#75b4d8,#8fc2de,#a5cde3,#b7d4ea,#c3daee,#d6e6f4,#edf4fc)"></i><i style="background:linear-gradient(90deg,#edf4fc,#d6e6f4,#c3daee,#b7d4ea,#a5cde3,#8fc2de,#75b4d8,#5da5d1,#4997c9,#3686c0,#2676b8,#1a68ae,#105ba4,#084f99,#084488,#083979,#08326e,#08306b,#08306b,#08306b,#08306b,#08306b,#08306b,#08326e,#083979,#084488,#084f99,#105ba4,#1a68ae,#2676b8,#3686c0,#4997c9,#5da5d1,#75b4d8,#8fc2de,#a5cde3,#b7d4ea,#c3daee,#d6e6f4,#edf4fc)"></i><i style="background:linear-gradient(90deg,#eaf2fb,#d5e5f4,#c4daee,#b7d4ea,#a6cee4,#8fc2de,#77b5d9,#5fa6d1,#4a98c9,#3888c1,#2979b9,#1c6ab0,#125da6,#08519c,#08468b,#083c7d,#083471,#08306b,#08306b,#08306b,#08306b,#08306b,#08306b,#083471,#083c7d,#08468b,#08519c,#125da6,#1c6ab0,#2979b9,#3888c1,#4a98c9,#5fa6d1,#77b5d9,#8fc2de,#a6cee4,#b7d4ea,#c4daee,#d5e5f4,#eaf2fb)"></i><i style="background:linear-gradient(90deg,#e6f0f9,#d3e4f3,#c4daee,#b8d5ea,#a8cee4,#92c4de,#79b5d9,#63a8d3,#4e9acb,#3b8bc2,#2c7cba,#1f6eb3,#1561a9,#0b559f,#084b93,#084285,#083979,#083471,#08306b,#08306b,#08306b,#08306b,#083471,#083979,#084285,#084b93,#0b559f,#1561a9,#1f6eb3,#2c7cba,#3b8bc2,#4e9acb,#63a8d3,#79b5d9,#92c4de,#a8cee4,#b8d5ea,#c4daee,#d3e4f3,#e6f0f9)"></i><i style="background:linear-gradient(90deg,#e1edf8,#d0e2f2,#c4daee,#b9d6ea,#a9cfe5,#95c5df,#7db8da,#66abd4,#529dcc,#3f8fc5,#3181bd,#2373b6,#1966ad,#105ba4,#08519c,#08488e,#084184,#083b7c,#083776,#083573,#083573,#083776,#083b7c,#084184,#08488e,#08519c,#105ba4,#1966ad,#2373b6,#3181bd,#3f8fc5,#529dcc,#66abd4,#7db8da,#95c5df,#a9cfe5,#b9d6ea,#c4daee,#d0e2f2,#e1edf8)"></i><i style="background:linear-gradient(90deg,#dce9f6,#cde0f1,#c6dbef,#bad6eb,#abd0e6,#99c7e0,#82bbdb,#6aaed6,#58a1cf,#4594c7,#3686c0,#2a7ab9,#1e6db2,#1663aa,#0e59a2,#08519c,#084a91,#08458a,#084184,#084082,#084082,#084184,#08458a,#084a91,#08519c,#0e59a2,#1663aa,#1e6db2,#2a7ab9,#3686c0,#4594c7,#58a1cf,#6aaed6,#82bbdb,#99c7e0,#abd0e6,#bad6eb,#c6dbef,#cde0f1,#dce9f6)"></i><i style="background:linear-gradient(90deg,#d6e6f4,#ccdff1,#c7dbef,#bcd7eb,#aed1e7,#9dcae1,#87bddc,#72b2d8,#5da5d1,#4d99ca,#3d8dc4,#3181bd,#2575b7,#1c6bb0,#1562a9,#0f5aa3,#0a549e,#084f99,#084c95,#084a91,#084a91,#084c95,#084f99,#0a549e,#0f5aa3,#1562a9,#1c6bb0,#2575b7,#3181bd,#3d8dc4,#4d99ca,#5da5d1,#72b2d8,#87bddc,#9dcae1,#aed1e7,#bcd7eb,#c7dbef,#ccdff1,#d6e6f4)"></i><i style="background:linear-gradient(90deg,#d1e2f3,#ccdff1,#c7dcef,#bed8ec,#b0d2e7,#a1cbe2,#8dc1dd,#79b5d9,#65aad4,#549fcd,#4493c7,#3888c1,#2e7ebc,#2474b7,#1c6bb0,#1764ab,#125ea6,#0f5aa3,#0c56a0,#0b559f,#0b559f,#0c56a0,#0f5aa3,#125ea6,#1764ab,#1c6bb0,#2474b7,#2e7ebc,#3888c1,#4493c7,#549fcd,#65aad4,#79b5d9,#8dc1dd,#a1cbe2,#b0d2e7,#bed8ec,#c7dcef,#ccdff1,#d1e2f3)"></i><i style="background:linear-gradient(90deg,#cfe1f2,#cddff1,#c8dcf0,#bfd8ed,#b4d3e9,#a5cde3,#94c4df,#81badb,#6caed6,#5ca4d0,#4d99ca,#4090c5,#3787c0,#2e7ebc,#2575b7,#1f6eb3,#1b69af,#1865ac,#1562a9,#1460a8,#1460a8,#1562a9,#1865ac,#1b69af,#1f6eb3,#2575b7,#2e7ebc,#3787c0,#4090c5,#4d99ca,#5ca4d0,#6caed6,#81badb,#94c4df,#a5cde3,#b4d3e9,#bfd8ed,#c8dcf0,#cddff1,#cfe1f2)"></i><i style="background:linear-gradient(90deg,#d0e1f2,#cddff1,#c8dcf0,#c1d9ed,#b7d4ea,#a9cfe5,#9ac8e0,#89bedc,#75b4d8,#65aad4,#57a0ce,#4a98c9,#3f8fc5,#3787c0,#3080bd,#2a7ab9,#2474b7,#2070b4,#1e6db2,#1d6cb1,#1d6cb1,#1e6db2,#2070b4,#2474b7,#2a7ab9,#3080bd,#3787c0,#3f8fc5,#4a98c9,#57a0ce,#65aad4,#75b4d8,#89bedc,#9ac8e0,#a9cfe5,#b7d4ea,#c1d9ed,#c8dcf0,#cddff1,#d0e1f2)"></i><i style="background:linear-gradient(90deg,#d0e1f2,#cddff1,#c9ddf0,#c3daee,#b9d6ea,#add0e6,#a0cbe2,#8fc2de,#7fb9da,#6dafd7,#60a7d2,#549fcd,#4a98c9,#4090c5,#3a8ac2,#3484bf,#2f7fbc,#2c7cba,#2979b9,#2777b8,#2777b8,#2979b9,#2c7cba,#2f7fbc,#3484bf,#3a8ac2,#4090c5,#4a98c9,#549fcd,#60a7d2,#6dafd7,#7fb9da,#8fc2de,#a0cbe2,#add0e6,#b9d6ea,#c3daee,#c9ddf0,#cddff1,#d0e1f2)"></i><i style="background:linear-gradient(90deg,#d0e1f2,#cde0f1,#caddf0,#c4daee,#bdd7ec,#b2d2e8,#a5cde3,#97c6df,#87bddc,#77b5d9,#69add5,#5da5d1,#549fcd,#4b98ca,#4493c7,#3e8ec4,#3a8ac2,#3686c0,#3484bf,#3383be,#3383be,#3484bf,#3686c0,#3a8ac2,#3e8ec4,#4493c7,#4b98ca,#549fcd,#5da5d1,#69add5,#77b5d9,#87bddc,#97c6df,#a5cde3,#b2d2e8,#bdd7ec,#c4daee,#caddf0,#cde0f1,#d0e1f2)"></i><i style="background:linear-gradient(90deg,#d0e1f2,#cde0f1,#cadef0,#c7dbef,#bfd8ed,#b5d4e9,#aacfe5,#9fcae1,#91c3de,#82bbdb,#74b3d8,#68acd5,#5fa6d1,#57a0ce,#4f9bcb,#4997c9,#4594c7,#4191c6,#3f8fc5,#3e8ec4,#3e8ec4,#3f8fc5,#4191c6,#4594c7,#4997c9,#4f9bcb,#57a0ce,#5fa6d1,#68acd5,#74b3d8,#82bbdb,#91c3de,#9fcae1,#aacfe5,#b5d4e9,#bfd8ed,#c7dbef,#cadef0,#cde0f1,#d0e1f2)"></i><i style="background:linear-gradient(90deg,#d0e1f2,#cde0f1,#cbdef1,#c7dcef,#c1d9ed,#b9d6ea,#aed1e7,#a4cce3,#99c7e0,#8abfdd,#7db8da,#72b2d8,#68acd5,#61a7d2,#5ba3d0,#549fcd,#519ccc,#4d99ca,#4a98c9,#4a98c9,#4a98c9,#4a98c9,#4d99ca,#519ccc,#549fcd,#5ba3d0,#61a7d2,#68acd5,#72b2d8,#7db8da,#8abfdd,#99c7e0,#a4cce3,#aed1e7,#b9d6ea,#c1d9ed,#c7dcef,#cbdef1,#cde0f1,#d0e1f2)"></i><i style="background:linear-gradient(90deg,#d0e1f2,#cee0f2,#cbdef1,#c8dcf0,#c3daee,#bcd7eb,#b3d3e8,#a9cfe5,#9fcae1,#94c4df,#89bedc,#7db8da,#72b2d8,#6aaed6,#65aad4,#60a7d2,#5ca4d0,#58a1cf,#57a0ce,#56a0ce,#56a0ce,#57a0ce,#58a1cf,#5ca4d0,#60a7d2,#65aad4,#6aaed6,#72b2d8,#7db8da,#89bedc,#94c4df,#9fcae1,#a9cfe5,#b3d3e8,#bcd7eb,#c3daee,#c8dcf0,#cbdef1,#cee0f2,#d0e1f2)"></i><i style="background:linear-gradient(90deg,#d0e1f2,#cee0f2,#ccdff1,#c9ddf0,#c6dbef,#bfd8ed,#b7d4ea,#aed1e7,#a5cde3,#9cc9e1,#91c3de,#87bddc,#7db8da,#75b4d8,#6fb0d7,#6aaed6,#66abd4,#64a9d3,#61a7d2,#61a7d2,#61a7d2,#61a7d2,#64a9d3,#66abd4,#6aaed6,#6fb0d7,#75b4d8,#7db8da,#87bddc,#91c3de,#9cc9e1,#a5cde3,#aed1e7,#b7d4ea,#bfd8ed,#c6dbef,#c9ddf0,#ccdff1,#cee0f2,#d0e1f2)"></i><i style="background:linear-gradient(90deg,#d0e1f2,#cee0f2,#ccdff1,#caddf0,#c7dbef,#c2d9ee,#bad6eb,#b3d3e8,#aacfe5,#a3cce3,#9ac8e0,#91c3de,#89bedc,#81badb,#7ab6d9,#75b4d8,#71b1d7,#6fb0d7,#6caed6,#6caed6,#6caed6,#6caed6,#6fb0d7,#71b1d7,#75b4d8,#7ab6d9,#81badb,#89bedc,#91c3de,#9ac8e0,#a3cce3,#aacfe5,#b3d3e8,#bad6eb,#c2d9ee,#c7dbef,#caddf0,#ccdff1,#cee0f2,#d0e1f2)"></i><i style="background:linear-gradient(90deg,#d0e1f2,#cee0f2,#cddff1,#cadef0,#c7dcef,#c4daee,#bed8ec,#b7d4ea,#afd1e7,#a9cfe5,#a1cbe2,#9ac8e0,#92c4de,#8cc0dd,#85bcdc,#81badb,#7cb7da,#7ab6d9,#79b5d9,#77b5d9,#77b5d9,#79b5d9,#7ab6d9,#7cb7da,#81badb,#85bcdc,#8cc0dd,#92c4de,#9ac8e0,#a1cbe2,#a9cfe5,#afd1e7,#b7d4ea,#bed8ec,#c4daee,#c7dcef,#cadef0,#cddff1,#cee0f2,#d0e1f2)"></i><i style="background:linear-gradient(90deg,#d0e1f2,#cfe1f2,#cddff1,#cbdef1,#c9ddf0,#c6dbef,#c2d9ee,#bad6eb,#b4d3e9,#aed1e7,#a8cee4,#a1cbe2,#9cc9e1,#95c5df,#8fc2de,#8abfdd,#87bddc,#84bcdb,#82bbdb,#82bbdb,#82bbdb,#82bbdb,#84bcdb,#87bddc,#8abfdd,#8fc2de,#95c5df,#9cc9e1,#a1cbe2,#a8cee4,#aed1e7,#b4d3e9,#bad6eb,#c2d9ee,#c6dbef,#c9ddf0,#cbdef1,#cddff1,#cfe1f2,#d0e1f2)"></i><i style="background:linear-gradient(90deg,#d0e1f2,#cfe1f2,#cde0f1,#ccdff1,#caddf0,#c7dcef,#c4daee,#bfd8ed,#b9d6ea,#b3d3e8,#add0e6,#a8cee4,#a3cce3,#9dcae1,#99c7e0,#94c4df,#91c3de,#8dc1dd,#8cc0dd,#8cc0dd,#8cc0dd,#8cc0dd,#8dc1dd,#91c3de,#94c4df,#99c7e0,#9dcae1,#a3cce3,#a8cee4,#add0e6,#b3d3e8,#b9d6ea,#bfd8ed,#c4daee,#c7dcef,#caddf0,#ccdff1,#cde0f1,#cfe1f2,#d0e1f2)"></i><i style="background:linear-gradient(90deg,#d0e1f2,#cfe1f2,#cde0f1,#ccdff1,#cadef0,#c8dcf0,#c6dbef,#c2d9ee,#bdd7ec,#b7d4ea,#b2d2e8,#add0e6,#a8cee4,#a4cce3,#a0cbe2,#9dcae1,#9ac8e0,#97c6df,#95c5df,#94c4df,#94c4df,#95c5df,#97c6df,#9ac8e0,#9dcae1,#a0cbe2,#a4cce3,#a8cee4,#add0e6,#b2d2e8,#b7d4ea,#bdd7ec,#c2d9ee,#c6dbef,#c8dcf0,#cadef0,#ccdff1,#cde0f1,#cfe1f2,#d0e1f2)"></i><i style="background:linear-gradient(90deg,#d0e1f2,#cfe1f2,#cee0f2,#cddff1,#cbdef1,#c9ddf0,#c7dcef,#c4daee,#c1d9ed,#bcd7eb,#b7d4ea,#b2d2e8,#aed1e7,#aacfe5,#a6cee4,#a4cce3,#a1cbe2,#9fcae1,#9dcae1,#9dcae1,#9dcae1,#9dcae1,#9fcae1,#a1cbe2,#a4cce3,#a6cee4,#aacfe5,#aed1e7,#b2d2e8,#b7d4ea,#bcd7eb,#c1d9ed,#c4daee,#c7dcef,#c9ddf0,#cbdef1,#cddff1,#cee0f2,#cfe1f2,#d0e1f2)"></i><i style="background:linear-gradient(90deg,#d0e1f2,#cfe1f2,#cee0f2,#cddff1,#cbdef1,#caddf0,#c8dcf0,#c7dbef,#c3daee,#bfd8ed,#bad6eb,#b7d4ea,#b3d3e8,#afd1e7,#abd0e6,#a9cfe5,#a8cee4,#a5cde3,#a4cce3,#a4cce3,#a4cce3,#a4cce3,#a5cde3,#a8cee4,#a9cfe5,#abd0e6,#afd1e7,#b3d3e8,#b7d4ea,#bad6eb,#bfd8ed,#c3daee,#c7dbef,#c8dcf0,#caddf0,#cbdef1,#cddff1,#cee0f2,#cfe1f2,#d0e1f2)"></i><i style="background:linear-gradient(90deg,#d0e1f2,#cfe1f2,#cee0f2,#cde0f1,#ccdff1,#cadef0,#c9ddf0,#c7dcef,#c6dbef,#c3daee,#bed8ec,#bad6eb,#b7d4ea,#b4d3e9,#b0d2e7,#aed1e7,#add0e6,#abd0e6,#aacfe5,#aacfe5,#aacfe5,#aacfe5,#abd0e6,#add0e6,#aed1e7,#b0d2e7,#b4d3e9,#b7d4ea,#bad6eb,#bed8ec,#c3daee,#c6dbef,#c7dcef,#c9ddf0,#cadef0,#ccdff1,#cde0f1,#cee0f2,#cfe1f2,#d0e1f2)"></i><i style="background:linear-gradient(90deg,#d0e1f2,#cfe1f2,#cee0f2,#cde0f1,#cddff1,#cbdef1,#caddf0,#c8dcf0,#c7dcef,#c6dbef,#c2d9ee,#bed8ec,#bcd7eb,#b8d5ea,#b5d4e9,#b3d3e8,#b2d2e8,#b0d2e7,#afd1e7,#afd1e7,#afd1e7,#afd1e7,#b0d2e7,#b2d2e8,#b3d3e8,#b5d4e9,#b8d5ea,#bcd7eb,#bed8ec,#c2d9ee,#c6dbef,#c7dcef,#c8dcf0,#caddf0,#cbdef1,#cddff1,#cde0f1,#cee0f2,#cfe1f2,#d0e1f2)"></i><i style="background:linear-gradient(90deg,#d0e1f2,#d0e1f2,#cfe1f2,#cee0f2,#cddff1,#ccdff1,#cadef0,#caddf0,#c8dcf0,#c7dbef,#c6dbef,#c2d9ee,#bfd8ed,#bcd7eb,#b9d6ea,#b8d5ea,#b5d4e9,#b4d3e9,#b4d3e9,#b3d3e8,#b3d3e8,#b4d3e9,#b4d3e9,#b5d4e9,#b8d5ea,#b9d6ea,#bcd7eb,#bfd8ed,#c2d9ee,#c6dbef,#c7dbef,#c8dcf0,#caddf0,#cadef0,#ccdff1,#cddff1,#cee0f2,#cfe1f2,#d0e1f2,#d0e1f2)"></i><i style="background:linear-gradient(90deg,#d0e1f2,#d0e1f2,#cfe1f2,#cee0f2,#cde0f1,#ccdff1,#cbdef1,#caddf0,#c9ddf0,#c7dcef,#c7dbef,#c6dbef,#c2d9ee,#bfd8ed,#bdd7ec,#bcd7eb,#bad6eb,#b9d6ea,#b8d5ea,#b8d5ea,#b8d5ea,#b8d5ea,#b9d6ea,#bad6eb,#bcd7eb,#bdd7ec,#bfd8ed,#c2d9ee,#c6dbef,#c7dbef,#c7dcef,#c9ddf0,#caddf0,#cbdef1,#ccdff1,#cde0f1,#cee0f2,#cfe1f2,#d0e1f2,#d0e1f2)"></i><i style="background:linear-gradient(90deg,#d0e1f2,#d0e1f2,#cfe1f2,#cee0f2,#cde0f1,#cddff1,#ccdff1,#cadef0,#caddf0,#c9ddf0,#c7dcef,#c7dbef,#c6dbef,#c3daee,#c1d9ed,#bfd8ed,#bed8ec,#bdd7ec,#bcd7eb,#bcd7eb,#bcd7eb,#bcd7eb,#bdd7ec,#bed8ec,#bfd8ed,#c1d9ed,#c3daee,#c6dbef,#c7dbef,#c7dcef,#c9ddf0,#caddf0,#cadef0,#ccdff1,#cddff1,#cde0f1,#cee0f2,#cfe1f2,#d0e1f2,#d0e1f2)"></i><i style="background:linear-gradient(90deg,#d0e1f2,#d0e1f2,#cfe1f2,#cee0f2,#cde0f1,#cddff1,#ccdff1,#cbdef1,#cadef0,#caddf0,#c8dcf0,#c7dcef,#c7dbef,#c6dbef,#c4daee,#c2d9ee,#c1d9ed,#bfd8ed,#bfd8ed,#bfd8ed,#bfd8ed,#bfd8ed,#bfd8ed,#c1d9ed,#c2d9ee,#c4daee,#c6dbef,#c7dbef,#c7dcef,#c8dcf0,#caddf0,#cadef0,#cbdef1,#ccdff1,#cddff1,#cde0f1,#cee0f2,#cfe1f2,#d0e1f2,#d0e1f2)"></i><i style="background:linear-gradient(90deg,#d0e1f2,#d0e1f2,#cfe1f2,#cee0f2,#cee0f2,#cde0f1,#cddff1,#ccdff1,#cadef0,#caddf0,#c9ddf0,#c8dcf0,#c7dcef,#c7dbef,#c7dbef,#c6dbef,#c4daee,#c3daee,#c2d9ee,#c2d9ee,#c2d9ee,#c2d9ee,#c3daee,#c4daee,#c6dbef,#c7dbef,#c7dbef,#c7dcef,#c8dcf0,#c9ddf0,#caddf0,#cadef0,#ccdff1,#cddff1,#cde0f1,#cee0f2,#cee0f2,#cfe1f2,#d0e1f2,#d0e1f2)"></i><i style="background:linear-gradient(90deg,#d0e1f2,#d0e1f2,#cfe1f2,#cfe1f2,#cee0f2,#cde0f1,#cddff1,#ccdff1,#cbdef1,#cadef0,#caddf0,#c9ddf0,#c8dcf0,#c8dcf0,#c7dcef,#c7dbef,#c7dbef,#c6dbef,#c6dbef,#c6dbef,#c6dbef,#c6dbef,#c6dbef,#c7dbef,#c7dbef,#c7dcef,#c8dcf0,#c8dcf0,#c9ddf0,#caddf0,#cadef0,#cbdef1,#ccdff1,#cddff1,#cde0f1,#cee0f2,#cfe1f2,#cfe1f2,#d0e1f2,#d0e1f2)"></i><i style="background:linear-gradient(90deg,#d0e1f2,#d0e1f2,#cfe1f2,#cfe1f2,#cee0f2,#cde0f1,#cddff1,#cddff1,#ccdff1,#cbdef1,#cadef0,#caddf0,#c9ddf0,#c8dcf0,#c8dcf0,#c7dcef,#c7dcef,#c7dbef,#c7dbef,#c7dbef,#c7dbef,#c7dbef,#c7dbef,#c7dcef,#c7dcef,#c8dcf0,#c8dcf0,#c9ddf0,#caddf0,#cadef0,#cbdef1,#ccdff1,#cddff1,#cddff1,#cde0f1,#cee0f2,#cfe1f2,#cfe1f2,#d0e1f2,#d0e1f2)"></i><i style="background:linear-gradient(90deg,#d0e1f2,#d0e1f2,#cfe1f2,#cfe1f2,#cee0f2,#cee0f2,#cde0f1,#cddff1,#ccdff1,#cbdef1,#cadef0,#cadef0,#caddf0,#c9ddf0,#c9ddf0,#c8dcf0,#c8dcf0,#c7dcef,#c7dcef,#c7dcef,#c7dcef,#c7dcef,#c7dcef,#c8dcf0,#c8dcf0,#c9ddf0,#c9ddf0,#caddf0,#cadef0,#cadef0,#cbdef1,#ccdff1,#cddff1,#cde0f1,#cee0f2,#cee0f2,#cfe1f2,#cfe1f2,#d0e1f2,#d0e1f2)"></i><i style="background:linear-gradient(90deg,#d0e1f2,#d0e1f2,#d0e1f2,#cfe1f2,#cee0f2,#cee0f2,#cde0f1,#cddff1,#ccdff1,#ccdff1,#cbdef1,#cadef0,#cadef0,#caddf0,#c9ddf0,#c9ddf0,#c8dcf0,#c8dcf0,#c8dcf0,#c8dcf0,#c8dcf0,#c8dcf0,#c8dcf0,#c8dcf0,#c9ddf0,#c9ddf0,#caddf0,#cadef0,#cadef0,#cbdef1,#ccdff1,#ccdff1,#cddff1,#cde0f1,#cee0f2,#cee0f2,#cfe1f2,#d0e1f2,#d0e1f2,#d0e1f2)"></i><i style="background:linear-gradient(90deg,#d0e1f2,#d0e1f2,#d0e1f2,#cfe1f2,#cfe1f2,#cee0f2,#cde0f1,#cde0f1,#cddff1,#ccdff1,#cbdef1,#cbdef1,#cadef0,#cadef0,#caddf0,#caddf0,#c9ddf0,#c9ddf0,#c9ddf0,#c9ddf0,#c9ddf0,#c9ddf0,#c9ddf0,#c9ddf0,#caddf0,#caddf0,#cadef0,#cadef0,#cbdef1,#cbdef1,#ccdff1,#cddff1,#cde0f1,#cde0f1,#cee0f2,#cfe1f2,#cfe1f2,#d0e1f2,#d0e1f2,#d0e1f2)"></i><i style="background:linear-gradient(90deg,#d0e1f2,#d0e1f2,#d0e1f2,#cfe1f2,#cfe1f2,#cee0f2,#cde0f1,#cde0f1,#cddff1,#ccdff1,#ccdff1,#cbdef1,#cbdef1,#cadef0,#cadef0,#caddf0,#caddf0,#caddf0,#c9ddf0,#c9ddf0,#c9ddf0,#c9ddf0,#caddf0,#caddf0,#caddf0,#cadef0,#cadef0,#cbdef1,#cbdef1,#ccdff1,#ccdff1,#cddff1,#cde0f1,#cde0f1,#cee0f2,#cfe1f2,#cfe1f2,#d0e1f2,#d0e1f2,#d0e1f2)"></i><i style="background:linear-gradient(90deg,#d0e1f2,#d0e1f2,#d0e1f2,#cfe1f2,#cfe1f2,#cee0f2,#cee0f2,#cde0f1,#cddff1,#cddff1,#ccdff1,#ccdff1,#cbdef1,#cadef0,#cadef0,#cadef0,#caddf0,#caddf0,#caddf0,#caddf0,#caddf0,#caddf0,#caddf0,#caddf0,#cadef0,#cadef0,#cadef0,#cbdef1,#ccdff1,#ccdff1,#cddff1,#cddff1,#cde0f1,#cee0f2,#cee0f2,#cfe1f2,#cfe1f2,#d0e1f2,#d0e1f2,#d0e1f2)"></i><i style="background:linear-gradient(90deg,#d0e1f2,#d0e1f2,#d0e1f2,#cfe1f2,#cfe1f2,#cee0f2,#cee0f2,#cde0f1,#cde0f1,#cddff1,#ccdff1,#ccdff1,#cbdef1,#cbdef1,#cadef0,#cadef0,#cadef0,#cadef0,#caddf0,#caddf0,#caddf0,#caddf0,#cadef0,#cadef0,#cadef0,#cadef0,#cbdef1,#cbdef1,#ccdff1,#ccdff1,#cddff1,#cde0f1,#cde0f1,#cee0f2,#cee0f2,#cfe1f2,#cfe1f2,#d0e1f2,#d0e1f2,#d0e1f2)"></i><i style="background:linear-gradient(90deg,#d0e1f2,#d0e1f2,#d0e1f2,#cfe1f2,#cfe1f2,#cee0f2,#cee0f2,#cde0f1,#cde0f1,#cddff1,#cddff1,#ccdff1,#ccdff1,#cbdef1,#cbdef1,#cbdef1,#cadef0,#cadef0,#cadef0,#cadef0,#cadef0,#cadef0,#cadef0,#cadef0,#cbdef1,#cbdef1,#cbdef1,#ccdff1,#ccdff1,#cddff1,#cddff1,#cde0f1,#cde0f1,#cee0f2,#cee0f2,#cfe1f2,#cfe1f2,#d0e1f2,#d0e1f2,#d0e1f2)"></i><i style="background:linear-gradient(90deg,#d0e1f2,#d0e1f2,#d0e1f2,#cfe1f2,#cfe1f2,#cfe1f2,#cee0f2,#cee0f2,#cde0f1,#cddff1,#cddff1,#ccdff1,#ccdff1,#ccdff1,#cbdef1,#cbdef1,#cbdef1,#cadef0,#cadef0,#cadef0,#cadef0,#cadef0,#cadef0,#cbdef1,#cbdef1,#cbdef1,#ccdff1,#ccdff1,#ccdff1,#cddff1,#cddff1,#cde0f1,#cee0f2,#cee0f2,#cfe1f2,#cfe1f2,#cfe1f2,#d0e1f2,#d0e1f2,#d0e1f2)"></i><i style="background:linear-gradient(90deg,#d0e1f2,#d0e1f2,#d0e1f2,#cfe1f2,#cfe1f2,#cfe1f2,#cee0f2,#cee0f2,#cde0f1,#cde0f1,#cddff1,#cddff1,#ccdff1,#ccdff1,#ccdff1,#cbdef1,#cbdef1,#cbdef1,#cbdef1,#cbdef1,#cbdef1,#cbdef1,#cbdef1,#cbdef1,#cbdef1,#ccdff1,#ccdff1,#ccdff1,#cddff1,#cddff1,#cde0f1,#cde0f1,#cee0f2,#cee0f2,#cfe1f2,#cfe1f2,#cfe1f2,#d0e1f2,#d0e1f2,#d0e1f2)"></i><i style="background:linear-gradient(90deg,#d0e1f2,#d0e1f2,#d0e1f2,#d0e1f2,#cfe1f2,#cfe1f2,#cee0f2,#cee0f2,#cde0f1,#cde0f1,#cddff1,#cddff1,#cddff1,#ccdff1,#ccdff1,#ccdff1,#cbdef1,#cbdef1,#cbdef1,#cbdef1,#cbdef1,#cbdef1,#cbdef1,#cbdef1,#ccdff1,#ccdff1,#ccdff1,#cddff1,#cddff1,#cddff1,#cde0f1,#cde0f1,#cee0f2,#cee0f2,#cfe1f2,#cfe1f2,#d0e1f2,#d0e1f2,#d0e1f2,#d0e1f2)"></i><i style="background:linear-gradient(90deg,#d0e1f2,#d0e1f2,#d0e1f2,#d0e1f2,#cfe1f2,#cfe1f2,#cee0f2,#cee0f2,#cde0f1,#cde0f1,#cde0f1,#cddff1,#cddff1,#ccdff1,#ccdff1,#ccdff1,#ccdff1,#cbdef1,#cbdef1,#cbdef1,#cbdef1,#cbdef1,#cbdef1,#ccdff1,#ccdff1,#ccdff1,#ccdff1,#cddff1,#cddff1,#cde0f1,#cde0f1,#cde0f1,#cee0f2,#cee0f2,#cfe1f2,#cfe1f2,#d0e1f2,#d0e1f2,#d0e1f2,#d0e1f2)"></i><i style="background:linear-gradient(90deg,#d0e1f2,#d0e1f2,#d0e1f2,#d0e1f2,#cfe1f2,#cfe1f2,#cee0f2,#cee0f2,#cee0f2,#cde0f1,#cde0f1,#cddff1,#cddff1,#cddff1,#ccdff1,#ccdff1,#ccdff1,#ccdff1,#ccdff1,#cbdef1,#cbdef1,#ccdff1,#ccdff1,#ccdff1,#ccdff1,#ccdff1,#cddff1,#cddff1,#cddff1,#cde0f1,#cde0f1,#cee0f2,#cee0f2,#cee0f2,#cfe1f2,#cfe1f2,#d0e1f2,#d0e1f2,#d0e1f2,#d0e1f2)"></i><i style="background:linear-gradient(90deg,#d0e1f2,#d0e1f2,#d0e1f2,#d0e1f2,#cfe1f2,#cfe1f2,#cfe1f2,#cee0f2,#cee0f2,#cde0f1,#cde0f1,#cde0f1,#cddff1,#cddff1,#cddff1,#ccdff1,#ccdff1,#ccdff1,#ccdff1,#ccdff1,#ccdff1,#ccdff1,#ccdff1,#ccdff1,#ccdff1,#cddff1,#cddff1,#cddff1,#cde0f1,#cde0f1,#cde0f1,#cee0f2,#cee0f2,#cfe1f2,#cfe1f2,#cfe1f2,#d0e1f2,#d0e1f2,#d0e1f2,#d0e1f2)"></i><i style="background:linear-gradient(90deg,#d0e1f2,#d0e1f2,#d0e1f2,#d0e1f2,#cfe1f2,#cfe1f2,#cfe1f2,#cee0f2,#cee0f2,#cde0f1,#cde0f1,#cde0f1,#cddff1,#cddff1,#cddff1,#ccdff1,#ccdff1,#ccdff1,#ccdff1,#ccdff1,#ccdff1,#ccdff1,#ccdff1,#ccdff1,#ccdff1,#cddff1,#cddff1,#cddff1,#cde0f1,#cde0f1,#cde0f1,#cee0f2,#cee0f2,#cfe1f2,#cfe1f2,#cfe1f2,#d0e1f2,#d0e1f2,#d0e1f2,#d0e1f2)"></i><i style="background:linear-gradient(90deg,#d0e1f2,#d0e1f2,#d0e1f2,#d0e1f2,#cfe1f2,#cfe1f2,#cfe1f2,#cee0f2,#cee0f2,#cee0f2,#cde0f1,#cde0f1,#cddff1,#cddff1,#cddff1,#cddff1,#ccdff1,#ccdff1,#ccdff1,#ccdff1,#ccdff1,#ccdff1,#ccdff1,#ccdff1,#cddff1,#cddff1,#cddff1,#cddff1,#cde0f1,#cde0f1,#cee0f2,#cee0f2,#cee0f2,#cfe1f2,#cfe1f2,#cfe1f2,#d0e1f2,#d0e1f2,#d0e1f2,#d0e1f2)"></i><i style="background:linear-gradient(90deg,#d0e1f2,#d0e1f2,#d0e1f2,#d0e1f2,#cfe1f2,#cfe1f2,#cfe1f2,#cee0f2,#cee0f2,#cee0f2,#cde0f1,#cde0f1,#cde0f1,#cddff1,#cddff1,#cddff1,#cddff1,#cddff1,#ccdff1,#ccdff1,#ccdff1,#ccdff1,#cddff1,#cddff1,#cddff1,#cddff1,#cddff1,#cde0f1,#cde0f1,#cde0f1,#cee0f2,#cee0f2,#cee0f2,#cfe1f2,#cfe1f2,#cfe1f2,#d0e1f2,#d0e1f2,#d0e1f2,#d0e1f2)"></i><i style="background:linear-gradient(90deg,#d0e1f2,#d0e1f2,#d0e1f2,#d0e1f2,#cfe1f2,#cfe1f2,#cfe1f2,#cee0f2,#cee0f2,#cee0f2,#cde0f1,#cde0f1,#cde0f1,#cde0f1,#cddff1,#cddff1,#cddff1,#cddff1,#cddff1,#cddff1,#cddff1,#cddff1,#cddff1,#cddff1,#cddff1,#cddff1,#cde0f1,#cde0f1,#cde0f1,#cde0f1,#cee0f2,#cee0f2,#cee0f2,#cfe1f2,#cfe1f2,#cfe1f2,#d0e1f2,#d0e1f2,#d0e1f2,#d0e1f2)"></i><i style="background:linear-gradient(90deg,#d0e1f2,#d0e1f2,#d0e1f2,#d0e1f2,#cfe1f2,#cfe1f2,#cfe1f2,#cfe1f2,#cee0f2,#cee0f2,#cee0f2,#cde0f1,#cde0f1,#cde0f1,#cddff1,#cddff1,#cddff1,#cddff1,#cddff1,#cddff1,#cddff1,#cddff1,#cddff1,#cddff1,#cddff1,#cddff1,#cde0f1,#cde0f1,#cde0f1,#cee0f2,#cee0f2,#cee0f2,#cfe1f2,#cfe1f2,#cfe1f2,#cfe1f2,#d0e1f2,#d0e1f2,#d0e1f2,#d0e1f2)"></i><i style="background:linear-gradient(90deg,#d0e1f2,#d0e1f2,#d0e1f2,#d0e1f2,#d0e1f2,#cfe1f2,#cfe1f2,#cfe1f2,#cee0f2,#cee0f2,#cee0f2,#cde0f1,#cde0f1,#cde0f1,#cde0f1,#cddff1,#cddff1,#cddff1,#cddff1,#cddff1,#cddff1,#cddff1,#cddff1,#cddff1,#cddff1,#cde0f1,#cde0f1,#cde0f1,#cde0f1,#cee0f2,#cee0f2,#cee0f2,#cfe1f2,#cfe1f2,#cfe1f2,#d0e1f2,#d0e1f2,#d0e1f2,#d0e1f2,#d0e1f2)"></i><i style="background:linear-gradient(90deg,#d0e1f2,#d0e1f2,#d0e1f2,#d0e1f2,#d0e1f2,#cfe1f2,#cfe1f2,#cfe1f2,#cee0f2,#cee0f2,#cee0f2,#cde0f1,#cde0f1,#cde0f1,#cde0f1,#cde0f1,#cddff1,#cddff1,#cddff1,#cddff1,#cddff1,#cddff1,#cddff1,#cddff1,#cde0f1,#cde0f1,#cde0f1,#cde0f1,#cde0f1,#cee0f2,#cee0f2,#cee0f2,#cfe1f2,#cfe1f2,#cfe1f2,#d0e1f2,#d0e1f2,#d0e1f2,#d0e1f2,#d0e1f2)"></i><i style="background:linear-gradient(90deg,#d0e1f2,#d0e1f2,#d0e1f2,#d0e1f2,#d0e1f2,#cfe1f2,#cfe1f2,#cfe1f2,#cee0f2,#cee0f2,#cee0f2,#cee0f2,#cde0f1,#cde0f1,#cde0f1,#cde0f1,#cde0f1,#cddff1,#cddff1,#cddff1,#cddff1,#cddff1,#cddff1,#cde0f1,#cde0f1,#cde0f1,#cde0f1,#cde0f1,#cee0f2,#cee0f2,#cee0f2,#cee0f2,#cfe1f2,#cfe1f2,#cfe1f2,#d0e1f2,#d0e1f2,#d0e1f2,#d0e1f2,#d0e1f2)"></i><i style="background:linear-gradient(90deg,#d0e1f2,#d0e1f2,#d0e1f2,#d0e1f2,#d0e1f2,#cfe1f2,#cfe1f2,#cfe1f2,#cee0f2,#cee0f2,#cee0f2,#cee0f2,#cde0f1,#cde0f1,#cde0f1,#cde0f1,#cde0f1,#cde0f1,#cddff1,#cddff1,#cddff1,#cddff1,#cde0f1,#cde0f1,#cde0f1,#cde0f1,#cde0f1,#cde0f1,#cee0f2,#cee0f2,#cee0f2,#cee0f2,#cfe1f2,#cfe1f2,#cfe1f2,#d0e1f2,#d0e1f2,#d0e1f2,#d0e1f2,#d0e1f2)"></i><i style="background:linear-gradient(90deg,#d0e1f2,#d0e1f2,#d0e1f2,#d0e1f2,#d0e1f2,#cfe1f2,#cfe1f2,#cfe1f2,#cfe1f2,#cee0f2,#cee0f2,#cee0f2,#cee0f2,#cde0f1,#cde0f1,#cde0f1,#cde0f1,#cde0f1,#cde0f1,#cde0f1,#cde0f1,#cde0f1,#cde0f1,#cde0f1,#cde0f1,#cde0f1,#cde0f1,#cee0f2,#cee0f2,#cee0f2,#cee0f2,#cfe1f2,#cfe1f2,#cfe1f2,#cfe1f2,#d0e1f2,#d0e1f2,#d0e1f2,#d0e1f2,#d0e1f2)"></i><i style="background:linear-gradient(90deg,#d0e1f2,#d0e1f2,#d0e1f2,#d0e1f2,#d0e1f2,#cfe1f2,#cfe1f2,#cfe1f2,#cfe1f2,#cee0f2,#cee0f2,#cee0f2,#cee0f2,#cde0f1,#cde0f1,#cde0f1,#cde0f1,#cde0f1,#cde0f1,#cde0f1,#cde0f1,#cde0f1,#cde0f1,#cde0f1,#cde0f1,#cde0f1,#cde0f1,#cee0f2,#cee0f2,#cee0f2,#cee0f2,#cfe1f2,#cfe1f2,#cfe1f2,#cfe1f2,#d0e1f2,#d0e1f2,#d0e1f2,#d0e1f2,#d0e1f2)"></i><i style="background:linear-gradient(90deg,#d0e1f2,#d0e1f2,#d0e1f2,#d0e1f2,#d0e1f2,#cfe1f2,#cfe1f2,#cfe1f2,#cfe1f2,#cee0f2,#cee0f2,#cee0f2,#cee0f2,#cde0f1,#cde0f1,#cde0f1,#cde0f1,#cde0f1,#cde0f1,#cde0f1,#cde0f1,#cde0f1,#cde0f1,#cde0f1,#cde0f1,#cde0f1,#cde0f1,#cee0f2,#cee0f2,#cee0f2,#cee0f2,#cfe1f2,#cfe1f2,#cfe1f2,#cfe1f2,#d0e1f2,#d0e1f2,#d0e1f2,#d0e1f2,#d0e1f2)"></i><i style="background:linear-gradient(90deg,#d0e1f2,#d0e1f2,#d0e1f2,#d0e1f2,#d0e1f2,#cfe1f2,#cfe1f2,#cfe1f2,#cfe1f2,#cee0f2,#cee0f2,#cee0f2,#cee0f2,#cee0f2,#cde0f1,#cde0f1,#cde0f1,#cde0f1,#cde0f1,#cde0f1,#cde0f1,#cde0f1,#cde0f1,#cde0f1,#cde0f1,#cde0f1,#cee0f2,#cee0f2,#cee0f2,#cee0f2,#cee0f2,#cfe1f2,#cfe1f2,#cfe1f2,#cfe1f2,#d0e1f2,#d0e1f2,#d0e1f2,#d0e1f2,#d0e1f2)"></i><i style="background:linear-gradient(90deg,#d0e1f2,#d0e1f2,#d0e1f2,#d0e1f2,#d0e1f2,#cfe1f2,#cfe1f2,#cfe1f2,#cfe1f2,#cfe1f2,#cee0f2,#cee0f2,#cee0f2,#cee0f2,#cee0f2,#cde0f1,#cde0f1,#cde0f1,#cde0f1,#cde0f1,#cde0f1,#cde0f1,#cde0f1,#cde0f1,#cde0f1,#cee0f2,#cee0f2,#cee0f2,#cee0f2,#cee0f2,#cfe1f2,#cfe1f2,#cfe1f2,#cfe1f2,#cfe1f2,#d0e1f2,#d0e1f2,#d0e1f2,#d0e1f2,#d0e1f2)"></i><i style="background:linear-gradient(90deg,#d0e1f2,#d0e1f2,#d0e1f2,#d0e1f2,#d0e1f2,#d0e1f2,#cfe1f2,#cfe1f2,#cfe1f2,#cfe1f2,#cee0f2,#cee0f2,#cee0f2,#cee0f2,#cee0f2,#cde0f1,#cde0f1,#cde0f1,#cde0f1,#cde0f1,#cde0f1,#cde0f1,#cde0f1,#cde0f1,#cde0f1,#cee0f2,#cee0f2,#cee0f2,#cee0f2,#cee0f2,#cfe1f2,#cfe1f2,#cfe1f2,#cfe1f2,#d0e1f2,#d0e1f2,#d0e1f2,#d0e1f2,#d0e1f2,#d0e1f2)"></i><i style="background:linear-gradient(90deg,#d0e1f2,#d0e1f2,#d0e1f2,#d0e1f2,#d0e1f2,#d0e1f2,#cfe1f2,#cfe1f2,#cfe1f2,#cfe1f2,#cee0f2,#cee0f2,#cee0f2,#cee0f2,#cee0f2,#cee0f2,#cde0f1,#cde0f1,#cde0f1,#cde0f1,#cde0f1,#cde0f1,#cde0f1,#cde0f1,#cee0f2,#cee0f2,#cee0f2,#cee0f2,#cee0f2,#cee0f2,#cfe1f2,#cfe1f2,#cfe1f2,#cfe1f2,#d0e1f2,#d0e1f2,#d0e1f2,#d0e1f2,#d0e1f2,#d0e1f2)"></i><i style="background:linear-gradient(90deg,#d0e1f2,#d0e1f2,#d0e1f2,#d0e1f2,#d0e1f2,#d0e1f2,#cfe1f2,#cfe1f2,#cfe1f2,#cfe1f2,#cee0f2,#cee0f2,#cee0f2,#cee0f2,#cee0f2,#cee0f2,#cee0f2,#cde0f1,#cde0f1,#cde0f1,#cde0f1,#cde0f1,#cde0f1,#cee0f2,#cee0f2,#cee0f2,#cee0f2,#cee0f2,#cee0f2,#cee0f2,#cfe1f2,#cfe1f2,#cfe1f2,#cfe1f2,#d0e1f2,#d0e1f2,#d0e1f2,#d0e1f2,#d0e1f2,#d0e1f2)"></i><i style="background:linear-gradient(90deg,#d0e1f2,#d0e1f2,#d0e1f2,#d0e1f2,#d0e1f2,#d0e1f2,#cfe1f2,#cfe1f2,#cfe1f2,#cfe1f2,#cfe1f2,#cee0f2,#cee0f2,#cee0f2,#cee0f2,#cee0f2,#cee0f2,#cee0f2,#cde0f1,#cde0f1,#cde0f1,#cde0f1,#cee0f2,#cee0f2,#cee0f2,#cee0f2,#cee0f2,#cee0f2,#cee0f2,#cfe1f2,#cfe1f2,#cfe1f2,#cfe1f2,#cfe1f2,#d0e1f2,#d0e1f2,#d0e1f2,#d0e1f2,#d0e1f2,#d0e1f2)"></i><i style="background:linear-gradient(90deg,#d0e1f2,#d0e1f2,#d0e1f2,#d0e1f2,#d0e1f2,#d0e1f2,#cfe1f2,#cfe1f2,#cfe1f2,#cfe1f2,#cfe1f2,#cee0f2,#cee0f2,#cee0f2,#cee0f2,#cee0f2,#cee0f2,#cee0f2,#cee0f2,#cee0f2,#cee0f2,#cee0f2,#cee0f2,#cee0f2,#cee0f2,#cee0f2,#cee0f2,#cee0f2,#cee0f2,#cfe1f2,#cfe1f2,#cfe1f2,#cfe1f2,#cfe1f2,#d0e1f2,#d0e1f2,#d0e1f2,#d0e1f2,#d0e1f2,#d0e1f2)"></i><i style="background:linear-gradient(90deg,#d0e1f2,#d0e1f2,#d0e1f2,#d0e1f2,#d0e1f2,#d0e1f2,#cfe1f2,#cfe1f2,#cfe1f2,#cfe1f2,#cfe1f2,#cee0f2,#cee0f2,#cee0f2,#cee0f2,#cee0f2,#cee0f2,#cee0f2,#cee0f2,#cee0f2,#cee0f2,#cee0f2,#cee0f2,#cee0f2,#cee0f2,#cee0f2,#cee0f2,#cee0f2,#cee0f2,#cfe1f2,#cfe1f2,#cfe1f2,#cfe1f2,#cfe1f2,#d0e1f2,#d0e1f2,#d0e1f2,#d0e1f2,#d0e1f2,#d0e1f2)"></i><i style="background:linear-gradient(90deg,#d0e1f2,#d0e1f2,#d0e1f2,#d0e1f2,#d0e1f2,#d0e1f2,#cfe1f2,#cfe1f2,#cfe1f2,#cfe1f2,#cfe1f2,#cfe1f2,#cee0f2,#cee0f2,#cee0f2,#cee0f2,#cee0f2,#cee0f2,#cee0f2,#cee0f2,#cee0f2,#cee0f2,#cee0f2,#cee0f2,#cee0f2,#cee0f2,#cee0f2,#cee0f2,#cfe1f2,#cfe1f2,#cfe1f2,#cfe1f2,#cfe1f2,#cfe1f2,#d0e1f2,#d0e1f2,#d0e1f2,#d0e1f2,#d0e1f2,#d0e1f2)"></i><i style="background:linear-gradient(90deg,#d0e1f2,#d0e1f2,#d0e1f2,#d0e1f2,#d0e1f2,#d0e1f2,#cfe1f2,#cfe1f2,#cfe1f2,#cfe1f2,#cfe1f2,#cfe1f2,#cee0f2,#cee0f2,#cee0f2,#cee0f2,#cee0f2,#cee0f2,#cee0f2,#cee0f2,#cee0f2,#cee0f2,#cee0f2,#cee0f2,#cee0f2,#cee0f2,#cee0f2,#cee0f2,#cfe1f2,#cfe1f2,#cfe1f2,#cfe1f2,#cfe1f2,#cfe1f2,#d0e1f2,#d0e1f2,#d0e1f2,#d0e1f2,#d0e1f2,#d0e1f2)"></i><i style="background:linear-gradient(90deg,#d0e1f2,#d0e1f2,#d0e1f2,#d0e1f2,#d0e1f2,#d0e1f2,#d0e1f2,#cfe1f2,#cfe1f2,#cfe1f2,#cfe1f2,#cfe1f2,#cee0f2,#cee0f2,#cee0f2,#cee0f2,#cee0f2,#cee0f2,#cee0f2,#cee0f2,#cee0f2,#cee0f2,#cee0f2,#cee0f2,#cee0f2,#cee0f2,#cee0f2,#cee0f2,#cfe1f2,#cfe1f2,#cfe1f2,#cfe1f2,#cfe1f2,#d0e1f2,#d0e1f2,#d0e1f2,#d0e1f2,#d0e1f2,#d0e1f2,#d0e1f2)"></i></div>
<div class="hm" style="left:490.30px;top:179.00px;width:143.30px;height:134.10px"><i style="background:linear-gradient(90deg,#c43c4e,#c43c4e,#c43c4e,#c43c4e,#c43c4e,#c43c4e,#c43c4e,#c43c4e,#c43c4e,#c43c4e,#c43c4e,#c43c4e,#c43c4e,#c43c4e,#c43c4e,#c43c4e,#c43c4e,#c43c4e,#c43c4e,#c43c4e,#c43c4e,#c43c4e,#c43c4e,#c43c4e,#c43c4e,#c43c4e,#c43c4e,#c43c4e,#c43c4e,#c43c4e,#c43c4e,#c43c4e,#c43c4e,#c43c4e,#c43c4e,#c43c4e,#c43c4e,#c43c4e,#c43c4e,#c43c4e)"></i><i style="background:linear-gradient(90deg,#c13a50,#c13a50,#c13a50,#c13a50,#c13a50,#c13a50,#c13a50,#c13a50,#c13a50,#c13a50,#c13a50,#c13a50,#c13a50,#c13a50,#c13a50,#c13a50,#c13a50,#c13a50,#c13a50,#c13a50,#c13a50,#c13a50,#c13a50,#c13a50,#c13a50,#c13a50,#c13a50,#c13a50,#c13a50,#c13a50,#c13a50,#c13a50,#c13a50,#c13a50,#c13a50,#c13a50,#c13a50,#c13a50,#c13a50,#c13a50)"></i><i style="background:linear-gradient(90deg,#bd3853,#bd3853,#bd3853,#bd3853,#bd3853,#bd3853,#bd3853,#bd3853,#bd3853,#bd3853,#bd3853,#bd3853,#bd3853,#bd3853,#bd3853,#bd3853,#bd3853,#bd3853,#bd3853,#bd3853,#bd3853,#bd3853,#bd3853,#bd3853,#bd3853,#bd3853,#bd3853,#bd3853,#bd3853,#bd3853,#bd3853,#bd3853,#bd3853,#bd3853,#bd3853,#bd3853,#bd3853,#bd3853,#bd3853,#bd3853)"></i><i style="background:linear-gradient(90deg,#ba3655,#ba3655,#ba3655,#ba3655,#ba3655,#ba3655,#ba3655,#ba3655,#ba3655,#ba3655,#ba3655,#ba3655,#ba3655,#ba3655,#ba3655,#ba3655,#ba3655,#ba3655,#ba3655,#ba3655,#ba3655,#ba3655,#ba3655,#ba3655,#ba3655,#ba3655,#ba3655,#ba3655,#ba3655,#ba3655,#ba3655,#ba3655,#ba3655,#ba3655,#ba3655,#ba3655,#ba3655,#ba3655,#ba3655,#ba3655)"></i><i style="background:linear-gradient(90deg,#b63458,#b63458,#b63458,#b63458,#b63458,#b63458,#b63458,#b63458,#b63458,#b63458,#b63458,#b63458,#b63458,#b63458,#b63458,#b63458,#b63458,#b63458,#b63458,#b63458,#b63458,#b63458,#b63458,#b63458,#b63458,#b63458,#b63458,#b63458,#b63458,#b63458,#b63458,#b63458,#b63458,#b63458,#b63458,#b63458,#b63458,#b63458,#b63458,#b63458)"></i><i style="background:linear-gradient(90deg,#b3325a,#b3325a,#b3325a,#b3325a,#b3325a,#b3325a,#b3325a,#b3325a,#b3325a,#b3325a,#b3325a,#b3325a,#b3325a,#b3325a,#b3325a,#b3325a,#b3325a,#b3325a,#b3325a,#b3325a,#b3325a,#b3325a,#b3325a,#b3325a,#b3325a,#b3325a,#b3325a,#b3325a,#b3325a,#b3325a,#b3325a,#b3325a,#b3325a,#b3325a,#b3325a,#b3325a,#b3325a,#b3325a,#b3325a,#b3325a)"></i><i style="background:linear-gradient(90deg,#ae305c,#ae305c,#ae305c,#ae305c,#ae305c,#ae305c,#ae305c,#ae305c,#ae305c,#ae305c,#ae305c,#ae305c,#ae305c,#ae305c,#ae305c,#ae305c,#ae305c,#ae305c,#ae305c,#ae305c,#ae305c,#ae305c,#ae305c,#ae305c,#ae305c,#ae305c,#ae305c,#ae305c,#ae305c,#ae305c,#ae305c,#ae305c,#ae305c,#ae305c,#ae305c,#ae305c,#ae305c,#ae305c,#ae305c,#ae305c)"></i><i style="background:linear-gradient(90deg,#a92e5e,#a92e5e,#a92e5e,#a92e5e,#a92e5e,#a92e5e,#a92e5e,#a92e5e,#a92e5e,#a92e5e,#a92e5e,#a92e5e,#a92e5e,#a92e5e,#a92e5e,#a92e5e,#a92e5e,#a92e5e,#a92e5e,#a92e5e,#a92e5e,#a92e5e,#a92e5e,#a92e5e,#a92e5e,#a92e5e,#a92e5e,#a92e5e,#a92e5e,#a92e5e,#a92e5e,#a92e5e,#a92e5e,#a92e5e,#a92e5e,#a92e5e,#a92e5e,#a92e5e,#a92e5e,#a92e5e)"></i><i style="background:linear-gradient(90deg,#a32c61,#a32c61,#a32c61,#a32c61,#a32c61,#a32c61,#a32c61,#a32c61,#a32c61,#a32c61,#a32c61,#a32c61,#a32c61,#a32c61,#a32c61,#a32c61,#a32c61,#a32c61,#a32c61,#a32c61,#a32c61,#a32c61,#a32c61,#a32c61,#a32c61,#a32c61,#a32c61,#a32c61,#a32c61,#a32c61,#a32c61,#a32c61,#a32c61,#a32c61,#a32c61,#a32c61,#a32c61,#a32c61,#a32c61,#a32c61)"></i><i style="background:linear-gradient(90deg,#9d2964,#9d2964,#9d2964,#9d2964,#9d2964,#9d2964,#9d2964,#9d2964,#9d2964,#9d2964,#9d2964,#9d2964,#9d2964,#9d2964,#9d2964,#9d2964,#9d2964,#9d2964,#9d2964,#9d2964,#9d2964,#9d2964,#9d2964,#9d2964,#9d2964,#9d2964,#9d2964,#9d2964,#9d2964,#9d2964,#9d2964,#9d2964,#9d2964,#9d2964,#9d2964,#9d2964,#9d2964,#9d2964,#9d2964,#9d2964)"></i><i style="background:linear-gradient(90deg,#982766,#982766,#982766,#982766,#982766,#982766,#982766,#982766,#982766,#982766,#982766,#982766,#982766,#982766,#982766,#982766,#982766,#982766,#982766,#982766,#982766,#982766,#982766,#982766,#982766,#982766,#982766,#982766,#982766,#982766,#982766,#982766,#982766,#982766,#982766,#982766,#982766,#982766,#982766,#982766)"></i><i style="background:linear-gradient(90deg,#922568,#922568,#922568,#922568,#922568,#922568,#922568,#922568,#922568,#922568,#922568,#922568,#922568,#922568,#922568,#922568,#922568,#922568,#922568,#922568,#922568,#922568,#922568,#922568,#922568,#922568,#922568,#922568,#922568,#922568,#922568,#922568,#922568,#922568,#922568,#922568,#922568,#922568,#922568,#922568)"></i><i style="background:linear-gradient(90deg,#8c2369,#8c2369,#8c2369,#8c2369,#8c2369,#8c2369,#8c2369,#8c2369,#8c2369,#8c2369,#8c2369,#8c2369,#8c2369,#8c2369,#8c2369,#8c2369,#8c2369,#8c2369,#8c2369,#8c2369,#8c2369,#8c2369,#8c2369,#8c2369,#8c2369,#8c2369,#8c2369,#8c2369,#8c2369,#8c2369,#8c2369,#8c2369,#8c2369,#8c2369,#8c2369,#8c2369,#8c2369,#8c2369,#8c2369,#8c2369)"></i><i style="background:linear-gradient(90deg,#87216b,#87216b,#87216b,#87216b,#87216b,#87216b,#87216b,#87216b,#87216b,#87216b,#87216b,#87216b,#87216b,#87216b,#87216b,#87216b,#87216b,#87216b,#87216b,#87216b,#87216b,#87216b,#87216b,#87216b,#87216b,#87216b,#87216b,#87216b,#87216b,#87216b,#87216b,#87216b,#87216b,#87216b,#87216b,#87216b,#87216b,#87216b,#87216b,#87216b)"></i><i style="background:linear-gradient(90deg,#82206c,#82206c,#82206c,#82206c,#82206c,#82206c,#82206c,#82206c,#82206c,#82206c,#82206c,#82206c,#82206c,#82206c,#82206c,#82206c,#82206c,#82206c,#82206c,#82206c,#82206c,#82206c,#82206c,#82206c,#82206c,#82206c,#82206c,#82206c,#82206c,#82206c,#82206c,#82206c,#82206c,#82206c,#82206c,#82206c,#82206c,#82206c,#82206c,#82206c)"></i><i style="background:linear-gradient(90deg,#7c1d6d,#7c1d6d,#7c1d6d,#7c1d6d,#7c1d6d,#7c1d6d,#7c1d6d,#7c1d6d,#7c1d6d,#7c1d6d,#7c1d6d,#7c1d6d,#7c1d6d,#7c1d6d,#7c1d6d,#7c1d6d,#7c1d6d,#7c1d6d,#7c1d6d,#7c1d6d,#7c1d6d,#7c1d6d,#7c1d6d,#7c1d6d,#7c1d6d,#7c1d6d,#7c1d6d,#7c1d6d,#7c1d6d,#7c1d6d,#7c1d6d,#7c1d6d,#7c1d6d,#7c1d6d,#7c1d6d,#7c1d6d,#7c1d6d,#7c1d6d,#7c1d6d,#7c1d6d)"></i><i style="background:linear-gradient(90deg,#771c6d,#771c6d,#771c6d,#771c6d,#771c6d,#771c6d,#771c6d,#771c6d,#771c6d,#771c6d,#771c6d,#771c6d,#771c6d,#771c6d,#771c6d,#771c6d,#771c6d,#771c6d,#771c6d,#771c6d,#771c6d,#771c6d,#771c6d,#771c6d,#771c6d,#771c6d,#771c6d,#771c6d,#771c6d,#771c6d,#771c6d,#771c6d,#771c6d,#771c6d,#771c6d,#771c6d,#771c6d,#771c6d,#771c6d,#771c6d)"></i><i style="background:linear-gradient(90deg,#721a6e,#721a6e,#721a6e,#721a6e,#721a6e,#721a6e,#721a6e,#721a6e,#721a6e,#721a6e,#721a6e,#721a6e,#721a6e,#721a6e,#721a6e,#721a6e,#721a6e,#721a6e,#721a6e,#721a6e,#721a6e,#721a6e,#721a6e,#721a6e,#721a6e,#721a6e,#721a6e,#721a6e,#721a6e,#721a6e,#721a6e,#721a6e,#721a6e,#721a6e,#721a6e,#721a6e,#721a6e,#721a6e,#721a6e,#721a6e)"></i><i style="background:linear-gradient(90deg,#6c186e,#6c186e,#6c186e,#6c186e,#6d186e,#6d186e,#6d186e,#6d186e,#6d186e,#6d186e,#6d186e,#6d186e,#6d186e,#6d186e,#6d186e,#6d186e,#6d186e,#6d186e,#6d186e,#6d186e,#6d186e,#6d186e,#6d186e,#6d186e,#6d186e,#6d186e,#6d186e,#6d186e,#6d186e,#6d186e,#6d186e,#6d186e,#6d186e,#6d186e,#6d186e,#6d186e,#6c186e,#6c186e,#6c186e,#6c186e)"></i><i style="background:linear-gradient(90deg,#67166e,#67166e,#67166e,#67166e,#67166e,#67166e,#67166e,#67166e,#67166e,#67166e,#67166e,#67166e,#67166e,#67166e,#67166e,#67166e,#67166e,#67166e,#67166e,#67166e,#67166e,#67166e,#67166e,#67166e,#67166e,#67166e,#67166e,#67166e,#67166e,#67166e,#67166e,#67166e,#67166e,#67166e,#67166e,#67166e,#67166e,#67166e,#67166e,#67166e)"></i><i style="background:linear-gradient(90deg,#61136e,#62146e,#62146e,#62146e,#62146e,#62146e,#62146e,#62146e,#62146e,#62146e,#62146e,#62146e,#62146e,#62146e,#62146e,#62146e,#62146e,#62146e,#62146e,#62146e,#62146e,#62146e,#62146e,#62146e,#62146e,#62146e,#62146e,#62146e,#62146e,#62146e,#62146e,#62146e,#62146e,#62146e,#62146e,#62146e,#62146e,#62146e,#62146e,#61136e)"></i><i style="background:linear-gradient(90deg,#5d126e,#5d126e,#5d126e,#5d126e,#5d126e,#5d126e,#5d126e,#5d126e,#5d126e,#5d126e,#5d126e,#5d126e,#5d126e,#5d126e,#5d126e,#5d126e,#5d126e,#5d126e,#5d126e,#5d126e,#5d126e,#5d126e,#5d126e,#5d126e,#5d126e,#5d126e,#5d126e,#5d126e,#5d126e,#5d126e,#5d126e,#5d126e,#5d126e,#5d126e,#5d126e,#5d126e,#5d126e,#5d126e,#5d126e,#5d126e)"></i><i style="background:linear-gradient(90deg,#5c126e,#5c126e,#5c126e,#5c126e,#5c126e,#5c126e,#5c126e,#5c126e,#5c126e,#5c126e,#5c126e,#5c126e,#5c126e,#5c126e,#5c126e,#5c126e,#5c126e,#5c126e,#5c126e,#5c126e,#5c126e,#5c126e,#5c126e,#5c126e,#5c126e,#5c126e,#5c126e,#5c126e,#5c126e,#5c126e,#5c126e,#5c126e,#5c126e,#5c126e,#5c126e,#5c126e,#5c126e,#5c126e,#5c126e,#5c126e)"></i><i style="background:linear-gradient(90deg,#5a116e,#5a116e,#5a116e,#5a116e,#5a116e,#5a116e,#5a116e,#5a116e,#5a116e,#5a116e,#5a116e,#5a116e,#5a116e,#5a116e,#5a116e,#5a116e,#5a116e,#5a116e,#5a116e,#5a116e,#5a116e,#5a116e,#5a116e,#5a116e,#5a116e,#5a116e,#5a116e,#5a116e,#5a116e,#5a116e,#5a116e,#5a116e,#5a116e,#5a116e,#5a116e,#5a116e,#5a116e,#5a116e,#5a116e,#5a116e)"></i><i style="background:linear-gradient(90deg,#59106e,#59106e,#59106e,#59106e,#59106e,#5a116e,#5a116e,#5a116e,#5a116e,#5a116e,#5a116e,#5a116e,#5a116e,#5a116e,#5a116e,#5a116e,#5a116e,#5a116e,#5a116e,#5a116e,#5a116e,#5a116e,#5a116e,#5a116e,#5a116e,#5a116e,#5a116e,#5a116e,#5a116e,#5a116e,#5a116e,#5a116e,#5a116e,#5a116e,#5a116e,#59106e,#59106e,#59106e,#59106e,#59106e)"></i><i style="background:linear-gradient(90deg,#550f6d,#57106e,#57106e,#57106e,#57106e,#59106e,#59106e,#59106e,#59106e,#59106e,#59106e,#59106e,#59106e,#59106e,#59106e,#59106e,#59106e,#59106e,#59106e,#59106e,#59106e,#59106e,#59106e,#59106e,#59106e,#59106e,#59106e,#59106e,#59106e,#59106e,#59106e,#59106e,#59106e,#59106e,#59106e,#57106e,#57106e,#57106e,#57106e,#550f6d)"></i><i style="background:linear-gradient(90deg,#540f6d,#550f6d,#550f6d,#550f6d,#57106e,#57106e,#57106e,#57106e,#57106e,#57106e,#57106e,#57106e,#57106e,#57106e,#57106e,#57106e,#57106e,#57106e,#57106e,#57106e,#57106e,#57106e,#57106e,#57106e,#57106e,#57106e,#57106e,#57106e,#57106e,#57106e,#57106e,#57106e,#57106e,#57106e,#57106e,#57106e,#550f6d,#550f6d,#550f6d,#540f6d)"></i><i style="background:linear-gradient(90deg,#520e6d,#520e6d,#540f6d,#540f6d,#550f6d,#550f6d,#550f6d,#550f6d,#550f6d,#550f6d,#550f6d,#550f6d,#550f6d,#550f6d,#550f6d,#550f6d,#550f6d,#550f6d,#550f6d,#550f6d,#550f6d,#550f6d,#550f6d,#550f6d,#550f6d,#550f6d,#550f6d,#550f6d,#550f6d,#550f6d,#550f6d,#550f6d,#550f6d,#550f6d,#550f6d,#550f6d,#540f6d,#540f6d,#520e6d,#520e6d)"></i><i style="background:linear-gradient(90deg,#510e6c,#510e6c,#520e6d,#520e6d,#540f6d,#540f6d,#540f6d,#540f6d,#540f6d,#540f6d,#540f6d,#540f6d,#540f6d,#540f6d,#540f6d,#540f6d,#540f6d,#540f6d,#540f6d,#540f6d,#540f6d,#540f6d,#540f6d,#540f6d,#540f6d,#540f6d,#540f6d,#540f6d,#540f6d,#540f6d,#540f6d,#540f6d,#540f6d,#540f6d,#540f6d,#540f6d,#520e6d,#520e6d,#510e6c,#510e6c)"></i><i style="background:linear-gradient(90deg,#4f0d6c,#4f0d6c,#510e6c,#510e6c,#520e6d,#520e6d,#520e6d,#520e6d,#520e6d,#520e6d,#520e6d,#520e6d,#520e6d,#520e6d,#520e6d,#520e6d,#520e6d,#520e6d,#520e6d,#520e6d,#520e6d,#520e6d,#520e6d,#520e6d,#520e6d,#520e6d,#520e6d,#520e6d,#520e6d,#520e6d,#520e6d,#520e6d,#520e6d,#520e6d,#520e6d,#520e6d,#510e6c,#510e6c,#4f0d6c,#4f0d6c)"></i><i style="background:linear-gradient(90deg,#4c0c6b,#4d0d6c,#4f0d6c,#4f0d6c,#510e6c,#510e6c,#510e6c,#510e6c,#510e6c,#510e6c,#510e6c,#510e6c,#510e6c,#510e6c,#510e6c,#510e6c,#510e6c,#510e6c,#510e6c,#510e6c,#510e6c,#510e6c,#510e6c,#510e6c,#510e6c,#510e6c,#510e6c,#510e6c,#510e6c,#510e6c,#510e6c,#510e6c,#510e6c,#510e6c,#510e6c,#510e6c,#4f0d6c,#4f0d6c,#4d0d6c,#4c0c6b)"></i><i style="background:linear-gradient(90deg,#4a0c6b,#4a0c6b,#4c0c6b,#4d0d6c,#4f0d6c,#4f0d6c,#4f0d6c,#4f0d6c,#4f0d6c,#4f0d6c,#4f0d6c,#4f0d6c,#4f0d6c,#4f0d6c,#4f0d6c,#4f0d6c,#4f0d6c,#4f0d6c,#4f0d6c,#4f0d6c,#4f0d6c,#4f0d6c,#4f0d6c,#4f0d6c,#4f0d6c,#4f0d6c,#4f0d6c,#4f0d6c,#4f0d6c,#4f0d6c,#4f0d6c,#4f0d6c,#4f0d6c,#4f0d6c,#4f0d6c,#4f0d6c,#4d0d6c,#4c0c6b,#4a0c6b,#4a0c6b)"></i><i style="background:linear-gradient(90deg,#470b6a,#490b6a,#4a0c6b,#4c0c6b,#4d0d6c,#4d0d6c,#4d0d6c,#4d0d6c,#4d0d6c,#4d0d6c,#4d0d6c,#4d0d6c,#4d0d6c,#4d0d6c,#4d0d6c,#4d0d6c,#4d0d6c,#4d0d6c,#4d0d6c,#4d0d6c,#4d0d6c,#4d0d6c,#4d0d6c,#4d0d6c,#4d0d6c,#4d0d6c,#4d0d6c,#4d0d6c,#4d0d6c,#4d0d6c,#4d0d6c,#4d0d6c,#4d0d6c,#4d0d6c,#4d0d6c,#4d0d6c,#4c0c6b,#4a0c6b,#490b6a,#470b6a)"></i><i style="background:linear-gradient(90deg,#450a69,#470b6a,#490b6a,#4a0c6b,#4c0c6b,#4c0c6b,#4c0c6b,#4c0c6b,#4c0c6b,#4c0c6b,#4c0c6b,#4c0c6b,#4c0c6b,#4c0c6b,#4c0c6b,#4c0c6b,#4c0c6b,#4c0c6b,#4c0c6b,#4c0c6b,#4c0c6b,#4c0c6b,#4c0c6b,#4c0c6b,#4c0c6b,#4c0c6b,#4c0c6b,#4c0c6b,#4c0c6b,#4c0c6b,#4c0c6b,#4c0c6b,#4c0c6b,#4c0c6b,#4c0c6b,#4c0c6b,#4a0c6b,#490b6a,#470b6a,#450a69)"></i><i style="background:linear-gradient(90deg,#420a68,#440a68,#470b6a,#490b6a,#4a0c6b,#4a0c6b,#4a0c6b,#4a0c6b,#4a0c6b,#4a0c6b,#4a0c6b,#4a0c6b,#4a0c6b,#4a0c6b,#4a0c6b,#4a0c6b,#4a0c6b,#4a0c6b,#4a0c6b,#4a0c6b,#4a0c6b,#4a0c6b,#4a0c6b,#4a0c6b,#4a0c6b,#4a0c6b,#4a0c6b,#4a0c6b,#4a0c6b,#4a0c6b,#4a0c6b,#4a0c6b,#4a0c6b,#4a0c6b,#4a0c6b,#4a0c6b,#490b6a,#470b6a,#440a68,#420a68)"></i><i style="background:linear-gradient(90deg,#400a67,#420a68,#450a69,#470b6a,#490b6a,#490b6a,#4a0c6b,#4a0c6b,#4a0c6b,#4a0c6b,#4a0c6b,#4a0c6b,#4a0c6b,#4a0c6b,#4a0c6b,#4a0c6b,#4a0c6b,#4a0c6b,#4a0c6b,#4a0c6b,#4a0c6b,#4a0c6b,#4a0c6b,#4a0c6b,#4a0c6b,#4a0c6b,#4a0c6b,#4a0c6b,#4a0c6b,#4a0c6b,#4a0c6b,#4a0c6b,#4a0c6b,#4a0c6b,#490b6a,#490b6a,#470b6a,#450a69,#420a68,#400a67)"></i><i style="background:linear-gradient(90deg,#3e0966,#400a67,#440a68,#450a69,#470b6a,#490b6a,#490b6a,#490b6a,#490b6a,#490b6a,#490b6a,#490b6a,#490b6a,#490b6a,#490b6a,#490b6a,#490b6a,#490b6a,#490b6a,#490b6a,#490b6a,#490b6a,#490b6a,#490b6a,#490b6a,#490b6a,#490b6a,#490b6a,#490b6a,#490b6a,#490b6a,#490b6a,#490b6a,#490b6a,#490b6a,#470b6a,#450a69,#440a68,#400a67,#3e0966)"></i><i style="background:linear-gradient(90deg,#3b0964,#3e0966,#420a68,#450a69,#470b6a,#470b6a,#490b6a,#490b6a,#490b6a,#490b6a,#490b6a,#490b6a,#490b6a,#490b6a,#490b6a,#490b6a,#490b6a,#490b6a,#490b6a,#490b6a,#490b6a,#490b6a,#490b6a,#490b6a,#490b6a,#490b6a,#490b6a,#490b6a,#490b6a,#490b6a,#490b6a,#490b6a,#490b6a,#490b6a,#470b6a,#470b6a,#450a69,#420a68,#3e0966,#3b0964)"></i><i style="background:linear-gradient(90deg,#390963,#3b0964,#400a67,#440a68,#450a69,#470b6a,#470b6a,#470b6a,#470b6a,#470b6a,#470b6a,#470b6a,#470b6a,#470b6a,#470b6a,#470b6a,#470b6a,#470b6a,#470b6a,#470b6a,#470b6a,#470b6a,#470b6a,#470b6a,#470b6a,#470b6a,#470b6a,#470b6a,#470b6a,#470b6a,#470b6a,#470b6a,#470b6a,#470b6a,#470b6a,#450a69,#440a68,#400a67,#3b0964,#390963)"></i><i style="background:linear-gradient(90deg,#360961,#390963,#3e0966,#420a68,#450a69,#450a69,#470b6a,#470b6a,#470b6a,#470b6a,#470b6a,#470b6a,#470b6a,#470b6a,#470b6a,#470b6a,#470b6a,#470b6a,#470b6a,#470b6a,#470b6a,#470b6a,#470b6a,#470b6a,#470b6a,#470b6a,#470b6a,#470b6a,#470b6a,#470b6a,#470b6a,#470b6a,#470b6a,#470b6a,#450a69,#450a69,#420a68,#3e0966,#390963,#360961)"></i><i style="background:linear-gradient(90deg,#340a5f,#380962,#3d0965,#400a67,#440a68,#450a69,#450a69,#450a69,#450a69,#450a69,#450a69,#450a69,#450a69,#450a69,#450a69,#450a69,#450a69,#450a69,#450a69,#450a69,#450a69,#450a69,#450a69,#450a69,#450a69,#450a69,#450a69,#450a69,#450a69,#450a69,#450a69,#450a69,#450a69,#450a69,#450a69,#440a68,#400a67,#3d0965,#380962,#340a5f)"></i><i style="background:linear-gradient(90deg,#310a5c,#340a5f,#390963,#3e0966,#420a68,#440a68,#450a69,#450a69,#450a69,#450a69,#450a69,#450a69,#450a69,#450a69,#450a69,#450a69,#450a69,#450a69,#450a69,#450a69,#450a69,#450a69,#450a69,#450a69,#450a69,#450a69,#450a69,#450a69,#450a69,#450a69,#450a69,#450a69,#450a69,#450a69,#440a68,#420a68,#3e0966,#390963,#340a5f,#310a5c)"></i><i style="background:linear-gradient(90deg,#2d0b59,#320a5e,#380962,#3e0966,#420a68,#440a68,#440a68,#440a68,#440a68,#440a68,#440a68,#440a68,#440a68,#440a68,#440a68,#440a68,#440a68,#440a68,#440a68,#440a68,#440a68,#440a68,#440a68,#440a68,#440a68,#440a68,#440a68,#440a68,#440a68,#440a68,#440a68,#440a68,#440a68,#440a68,#440a68,#420a68,#3e0966,#380962,#320a5e,#2d0b59)"></i><i style="background:linear-gradient(90deg,#290b55,#2f0a5b,#360961,#3d0965,#400a67,#420a68,#440a68,#440a68,#440a68,#440a68,#440a68,#440a68,#440a68,#440a68,#440a68,#440a68,#440a68,#440a68,#440a68,#440a68,#440a68,#440a68,#440a68,#440a68,#440a68,#440a68,#440a68,#440a68,#440a68,#440a68,#440a68,#440a68,#440a68,#440a68,#420a68,#400a67,#3d0965,#360961,#2f0a5b,#290b55)"></i><i style="background:linear-gradient(90deg,#280b53,#2d0b59,#340a5f,#3b0964,#3e0966,#420a68,#420a68,#420a68,#420a68,#420a68,#420a68,#420a68,#420a68,#420a68,#420a68,#420a68,#420a68,#420a68,#420a68,#420a68,#420a68,#420a68,#420a68,#420a68,#420a68,#420a68,#420a68,#420a68,#420a68,#420a68,#420a68,#420a68,#420a68,#420a68,#420a68,#3e0966,#3b0964,#340a5f,#2d0b59,#280b53)"></i><i style="background:linear-gradient(90deg,#240c4f,#290b55,#320a5e,#390963,#3e0966,#400a67,#420a68,#420a68,#420a68,#420a68,#420a68,#420a68,#420a68,#420a68,#420a68,#420a68,#420a68,#420a68,#420a68,#420a68,#420a68,#420a68,#420a68,#420a68,#420a68,#420a68,#420a68,#420a68,#420a68,#420a68,#420a68,#420a68,#420a68,#420a68,#400a67,#3e0966,#390963,#320a5e,#290b55,#240c4f)"></i><i style="background:linear-gradient(90deg,#210c4a,#260c51,#2f0a5b,#380962,#3d0965,#3e0966,#400a67,#400a67,#400a67,#400a67,#400a67,#400a67,#400a67,#420a68,#420a68,#420a68,#420a68,#420a68,#420a68,#420a68,#420a68,#420a68,#420a68,#420a68,#420a68,#420a68,#420a68,#400a67,#400a67,#400a67,#400a67,#400a67,#400a67,#400a67,#3e0966,#3d0965,#380962,#2f0a5b,#260c51,#210c4a)"></i><i style="background:linear-gradient(90deg,#1c0c43,#230c4c,#2d0b59,#360961,#3b0964,#3e0966,#400a67,#400a67,#400a67,#400a67,#400a67,#400a67,#400a67,#400a67,#400a67,#400a67,#400a67,#400a67,#420a68,#420a68,#420a68,#420a68,#400a67,#400a67,#400a67,#400a67,#400a67,#400a67,#400a67,#400a67,#400a67,#400a67,#400a67,#400a67,#3e0966,#3b0964,#360961,#2d0b59,#230c4c,#1c0c43)"></i><i style="background:linear-gradient(90deg,#190c3e,#1f0c48,#290b55,#340a5f,#3b0964,#3d0965,#3e0966,#3e0966,#3e0966,#3e0966,#3e0966,#400a67,#400a67,#400a67,#400a67,#400a67,#400a67,#400a67,#400a67,#400a67,#400a67,#400a67,#400a67,#400a67,#400a67,#400a67,#400a67,#400a67,#400a67,#3e0966,#3e0966,#3e0966,#3e0966,#3e0966,#3d0965,#3b0964,#340a5f,#290b55,#1f0c48,#190c3e)"></i><i style="background:linear-gradient(90deg,#160b39,#1c0c43,#280b53,#320a5e,#390963,#3d0965,#3e0966,#3e0966,#3e0966,#3e0966,#3e0966,#3e0966,#400a67,#400a67,#400a67,#400a67,#400a67,#400a67,#420a68,#420a68,#420a68,#420a68,#400a67,#400a67,#400a67,#400a67,#400a67,#400a67,#3e0966,#3e0966,#3e0966,#3e0966,#3e0966,#3e0966,#3d0965,#390963,#320a5e,#280b53,#1c0c43,#160b39)"></i><i style="background:linear-gradient(90deg,#140b34,#1b0c41,#260c51,#310a5c,#380962,#3b0964,#3d0965,#3d0965,#3d0965,#3e0966,#3e0966,#3e0966,#400a67,#400a67,#400a67,#400a67,#420a68,#420a68,#420a68,#420a68,#420a68,#420a68,#420a68,#420a68,#400a67,#400a67,#400a67,#400a67,#3e0966,#3e0966,#3e0966,#3d0965,#3d0965,#3d0965,#3b0964,#380962,#310a5c,#260c51,#1b0c41,#140b34)"></i><i style="background:linear-gradient(90deg,#110a30,#180c3c,#230c4c,#2f0a5b,#360961,#3b0964,#3b0964,#3d0965,#3d0965,#3e0966,#3e0966,#3e0966,#400a67,#400a67,#420a68,#420a68,#420a68,#440a68,#440a68,#440a68,#440a68,#440a68,#440a68,#420a68,#420a68,#420a68,#400a67,#400a67,#3e0966,#3e0966,#3e0966,#3d0965,#3d0965,#3b0964,#3b0964,#360961,#2f0a5b,#230c4c,#180c3c,#110a30)"></i><i style="background:linear-gradient(90deg,#0e092b,#150b37,#210c4a,#2d0b59,#360961,#390963,#3b0964,#3d0965,#3d0965,#3e0966,#3e0966,#400a67,#400a67,#420a68,#440a68,#440a68,#450a69,#450a69,#450a69,#450a69,#450a69,#450a69,#450a69,#450a69,#440a68,#440a68,#420a68,#400a67,#400a67,#3e0966,#3e0966,#3d0965,#3d0965,#3b0964,#390963,#360961,#2d0b59,#210c4a,#150b37,#0e092b)"></i><i style="background:linear-gradient(90deg,#0b0724,#120a32,#1e0c45,#2b0b57,#340a5f,#390963,#3b0964,#3d0965,#3d0965,#3e0966,#400a67,#420a68,#440a68,#450a69,#450a69,#470b6a,#470b6a,#490b6a,#490b6a,#490b6a,#490b6a,#490b6a,#490b6a,#470b6a,#470b6a,#450a69,#450a69,#440a68,#420a68,#400a67,#3e0966,#3d0965,#3d0965,#3b0964,#390963,#340a5f,#2b0b57,#1e0c45,#120a32,#0b0724)"></i><i style="background:linear-gradient(90deg,#09061f,#10092d,#1c0c43,#290b55,#320a5e,#380962,#3b0964,#3d0965,#3e0966,#400a67,#420a68,#450a69,#470b6a,#490b6a,#4a0c6b,#4a0c6b,#4c0c6b,#4d0d6c,#4d0d6c,#4d0d6c,#4d0d6c,#4d0d6c,#4d0d6c,#4c0c6b,#4a0c6b,#4a0c6b,#490b6a,#470b6a,#450a69,#420a68,#400a67,#3e0966,#3d0965,#3b0964,#380962,#320a5e,#290b55,#1c0c43,#10092d,#09061f)"></i><i style="background:linear-gradient(90deg,#08051d,#0e092b,#1b0c41,#280b53,#320a5e,#380962,#3b0964,#3e0966,#400a67,#440a68,#470b6a,#490b6a,#4c0c6b,#4d0d6c,#4f0d6c,#510e6c,#520e6d,#520e6d,#540f6d,#540f6d,#540f6d,#540f6d,#520e6d,#520e6d,#510e6c,#4f0d6c,#4d0d6c,#4c0c6b,#490b6a,#470b6a,#440a68,#400a67,#3e0966,#3b0964,#380962,#320a5e,#280b53,#1b0c41,#0e092b,#08051d)"></i><i style="background:linear-gradient(90deg,#060419,#0c0826,#180c3c,#260c51,#310a5c,#380962,#3b0964,#400a67,#440a68,#490b6a,#4c0c6b,#4f0d6c,#510e6c,#540f6d,#550f6d,#57106e,#59106e,#5a116e,#5a116e,#5c126e,#5c126e,#5a116e,#5a116e,#59106e,#57106e,#550f6d,#540f6d,#510e6c,#4f0d6c,#4c0c6b,#490b6a,#440a68,#400a67,#3b0964,#380962,#310a5c,#260c51,#180c3c,#0c0826,#060419)"></i><i style="background:linear-gradient(90deg,#040314,#0a0722,#160b39,#240c4f,#2f0a5b,#380962,#3e0966,#440a68,#4a0c6b,#4d0d6c,#520e6d,#550f6d,#59106e,#5c126e,#5f136e,#61136e,#62146e,#64156e,#64156e,#65156e,#65156e,#64156e,#64156e,#62146e,#61136e,#5f136e,#5c126e,#59106e,#550f6d,#520e6d,#4d0d6c,#4a0c6b,#440a68,#3e0966,#380962,#2f0a5b,#240c4f,#160b39,#0a0722,#040314)"></i><i style="background:linear-gradient(90deg,#030210,#09061f,#150b37,#230c4c,#2f0a5b,#390963,#420a68,#4a0c6b,#510e6c,#57106e,#5c126e,#61136e,#64156e,#67166e,#6a176e,#6d186e,#6f196e,#71196e,#71196e,#721a6e,#721a6e,#71196e,#71196e,#6f196e,#6d186e,#6a176e,#67166e,#64156e,#61136e,#5c126e,#57106e,#510e6c,#4a0c6b,#420a68,#390963,#2f0a5b,#230c4c,#150b37,#09061f,#030210)"></i><i style="background:linear-gradient(90deg,#02020e,#07051b,#120a32,#230c4c,#320a5e,#3e0966,#4a0c6b,#540f6d,#5d126e,#64156e,#69166e,#6f196e,#721a6e,#771c6d,#7a1d6d,#7d1e6d,#7f1e6c,#82206c,#82206c,#84206b,#84206b,#82206c,#82206c,#7f1e6c,#7d1e6d,#7a1d6d,#771c6d,#721a6e,#6f196e,#69166e,#64156e,#5d126e,#540f6d,#4a0c6b,#3e0966,#320a5e,#230c4c,#120a32,#07051b,#02020e)"></i><i style="background:linear-gradient(90deg,#02010a,#060419,#120a32,#240c4f,#380962,#470b6a,#550f6d,#64156e,#6d186e,#751b6e,#7c1d6d,#82206c,#88226a,#8d2369,#902568,#952667,#972766,#9a2865,#9a2865,#9b2964,#9b2964,#9a2865,#9a2865,#972766,#952667,#902568,#8d2369,#88226a,#82206c,#7c1d6d,#751b6e,#6d186e,#64156e,#550f6d,#470b6a,#380962,#240c4f,#120a32,#060419,#02010a)"></i><i style="background:linear-gradient(90deg,#010108,#050417,#120a32,#290b55,#400a67,#550f6d,#67166e,#781c6d,#85216b,#8f2469,#982766,#9f2a63,#a62d60,#ab2f5e,#b0315b,#b3325a,#b63458,#b93556,#ba3655,#ba3655,#ba3655,#ba3655,#b93556,#b63458,#b3325a,#b0315b,#ab2f5e,#a62d60,#9f2a63,#982766,#8f2469,#85216b,#781c6d,#67166e,#550f6d,#400a67,#290b55,#120a32,#050417,#010108)"></i><i style="background:linear-gradient(90deg,#010106,#040314,#150b37,#340a5f,#510e6c,#6a176e,#82206c,#9a2865,#a92e5e,#b43359,#bd3853,#c63d4d,#cb4149,#d04545,#d44842,#d74b3f,#d94d3d,#db503b,#dd513a,#dd513a,#dd513a,#dd513a,#db503b,#d94d3d,#d74b3f,#d44842,#d04545,#cb4149,#c63d4d,#bd3853,#b43359,#a92e5e,#9a2865,#82206c,#6a176e,#510e6c,#340a5f,#150b37,#040314,#010106)"></i><i style="background:linear-gradient(90deg,#010005,#050417,#1e0c45,#470b6a,#6c186e,#8d2369,#ad305d,#c83f4b,#d84c3e,#e05536,#e65d2f,#eb6429,#ee6a24,#f06f20,#f2741c,#f37819,#f57b17,#f57d15,#f67e14,#f67e14,#f67e14,#f67e14,#f57d15,#f57b17,#f37819,#f2741c,#f06f20,#ee6a24,#eb6429,#e65d2f,#e05536,#d84c3e,#c83f4b,#ad305d,#8d2369,#6c186e,#470b6a,#1e0c45,#050417,#010005)"></i><i style="background:linear-gradient(90deg,#010005,#08051d,#320a5e,#69166e,#982766,#c13a50,#df5337,#f3761b,#f8870e,#fa9207,#fb9906,#fca108,#fca60c,#fcaa0f,#fcae12,#fcb216,#fcb418,#fbb61a,#fbb61a,#fbb61a,#fbb61a,#fbb61a,#fbb61a,#fcb418,#fcb216,#fcae12,#fcaa0f,#fca60c,#fca108,#fb9906,#fa9207,#f8870e,#f3761b,#df5337,#c13a50,#982766,#69166e,#320a5e,#08051d,#010005)"></i><i style="background:linear-gradient(90deg,#010005,#140b34,#61136e,#a02a63,#d24644,#ef6c23,#fb9706,#fac228,#f7d13d,#f6d746,#f5db4c,#f4df53,#f4e156,#f3e35a,#f3e55d,#f2e661,#f2e661,#f2e661,#f2e865,#f2e865,#f2e865,#f2e865,#f2e661,#f2e661,#f2e661,#f3e55d,#f3e35a,#f4e156,#f4df53,#f5db4c,#f6d746,#f7d13d,#fac228,#fb9706,#ef6c23,#d24644,#a02a63,#61136e,#140b34,#010005)"></i><i style="background:linear-gradient(90deg,#000004,#390963,#952667,#d04545,#f1711f,#fc9f07,#f8cd37,#f2f482,#f8fb9a,#f8fb9a,#f9fc9d,#f9fc9d,#f9fc9d,#f9fc9d,#f9fc9d,#f9fc9d,#f9fc9d,#fafda1,#fafda1,#fafda1,#fafda1,#fafda1,#fafda1,#f9fc9d,#f9fc9d,#f9fc9d,#f9fc9d,#f9fc9d,#f9fc9d,#f9fc9d,#f8fb9a,#f8fb9a,#f2f482,#f8cd37,#fc9f07,#f1711f,#d04545,#952667,#390963,#000004)"></i><i style="background:linear-gradient(90deg,#000004,#340a5f,#8f2469,#cb4149,#ee6a24,#fb9906,#f9c72f,#f1f179,#f5f992,#f6fa96,#f6fa96,#f6fa96,#f8fb9a,#f8fb9a,#f8fb9a,#f8fb9a,#f8fb9a,#f8fb9a,#f8fb9a,#f8fb9a,#f8fb9a,#f8fb9a,#f8fb9a,#f8fb9a,#f8fb9a,#f8fb9a,#f8fb9a,#f8fb9a,#f6fa96,#f6fa96,#f6fa96,#f5f992,#f1f179,#f9c72f,#fb9906,#ee6a24,#cb4149,#8f2469,#340a5f,#000004)"></i><i style="background:linear-gradient(90deg,#000004,#0b0724,#470b6a,#84206b,#b73557,#dd513a,#f37819,#fca108,#fcb418,#fbbc21,#fac228,#fac62d,#f9c932,#f8cd37,#f8cf3a,#f7d13d,#f7d340,#f7d340,#f6d543,#f6d543,#f6d543,#f6d543,#f7d340,#f7d340,#f7d13d,#f8cf3a,#f8cd37,#f9c932,#fac62d,#fac228,#fbbc21,#fcb418,#fca108,#f37819,#dd513a,#b73557,#84206b,#470b6a,#0b0724,#000004)"></i><i style="background:linear-gradient(90deg,#010005,#040312,#190c3e,#440a68,#6c186e,#922568,#b43359,#d24644,#e15635,#e8602d,#ed6925,#f1711f,#f37819,#f57d15,#f78212,#f8850f,#f8870e,#f8890c,#f98b0b,#f98b0b,#f98b0b,#f98b0b,#f8890c,#f8870e,#f8850f,#f78212,#f57d15,#f37819,#f1711f,#ed6925,#e8602d,#e15635,#d24644,#b43359,#922568,#6c186e,#440a68,#190c3e,#040312,#010005)"></i><i style="background:linear-gradient(90deg,#010005,#02020e,#0c0826,#210c4a,#3d0965,#59106e,#721a6e,#8c2369,#9d2964,#a92e5e,#b43359,#bc3754,#c33b4f,#c83f4b,#ce4347,#d04545,#d34743,#d54a41,#d74b3f,#d74b3f,#d74b3f,#d74b3f,#d54a41,#d34743,#d04545,#ce4347,#c83f4b,#c33b4f,#bc3754,#b43359,#a92e5e,#9d2964,#8c2369,#721a6e,#59106e,#3d0965,#210c4a,#0c0826,#02020e,#010005)"></i><i style="background:linear-gradient(90deg,#010005,#02020e,#09061f,#150b37,#260c51,#380962,#4a0c6b,#5c126e,#69166e,#741a6e,#7d1e6d,#85216b,#8c2369,#922568,#972766,#9b2964,#9f2a63,#a22b62,#a32c61,#a32c61,#a32c61,#a32c61,#a22b62,#9f2a63,#9b2964,#972766,#922568,#8c2369,#85216b,#7d1e6d,#741a6e,#69166e,#5c126e,#4a0c6b,#380962,#260c51,#150b37,#09061f,#02020e,#010005)"></i><i style="background:linear-gradient(90deg,#010106,#02020e,#08051d,#10092d,#1b0c41,#260c51,#320a5e,#400a67,#4a0c6b,#510e6c,#59106e,#5f136e,#65156e,#6a176e,#6d186e,#721a6e,#741a6e,#771c6d,#781c6d,#781c6d,#781c6d,#781c6d,#771c6d,#741a6e,#721a6e,#6d186e,#6a176e,#65156e,#5f136e,#59106e,#510e6c,#4a0c6b,#400a67,#320a5e,#260c51,#1b0c41,#10092d,#08051d,#02020e,#010106)"></i><i style="background:linear-gradient(90deg,#010106,#030210,#08051d,#0e092b,#150b37,#1c0c43,#240c4f,#2d0b59,#340a5f,#3b0964,#400a67,#450a69,#4a0c6b,#4f0d6c,#520e6d,#550f6d,#57106e,#59106e,#5a116e,#5a116e,#5a116e,#5a116e,#59106e,#57106e,#550f6d,#520e6d,#4f0d6c,#4a0c6b,#450a69,#400a67,#3b0964,#340a5f,#2d0b59,#240c4f,#1c0c43,#150b37,#0e092b,#08051d,#030210,#010106)"></i><i style="background:linear-gradient(90deg,#010108,#030210,#08051d,#0e092b,#140b34,#180c3c,#1c0c43,#210c4a,#260c51,#2b0b57,#310a5c,#340a5f,#380962,#3b0964,#3e0966,#400a67,#420a68,#440a68,#450a69,#450a69,#450a69,#450a69,#440a68,#420a68,#400a67,#3e0966,#3b0964,#380962,#340a5f,#310a5c,#2b0b57,#260c51,#210c4a,#1c0c43,#180c3c,#140b34,#0e092b,#08051d,#030210,#010108)"></i><i style="background:linear-gradient(90deg,#02010a,#040312,#09061f,#0e092b,#140b34,#160b39,#190c3e,#1c0c43,#1f0c48,#210c4a,#240c4f,#280b53,#2b0b57,#2d0b59,#310a5c,#320a5e,#340a5f,#340a5f,#360961,#360961,#360961,#360961,#340a5f,#340a5f,#320a5e,#310a5c,#2d0b59,#2b0b57,#280b53,#240c4f,#210c4a,#1f0c48,#1c0c43,#190c3e,#160b39,#140b34,#0e092b,#09061f,#040312,#02010a)"></i><i style="background:linear-gradient(90deg,#02020c,#040314,#09061f,#0e092b,#140b34,#150b37,#180c3c,#190c3e,#1b0c41,#1c0c43,#1e0c45,#210c4a,#230c4c,#240c4f,#260c51,#280b53,#280b53,#290b55,#290b55,#2b0b57,#2b0b57,#290b55,#290b55,#280b53,#280b53,#260c51,#240c4f,#230c4c,#210c4a,#1e0c45,#1c0c43,#1b0c41,#190c3e,#180c3c,#150b37,#140b34,#0e092b,#09061f,#040314,#02020c)"></i><i style="background:linear-gradient(90deg,#02020e,#040314,#0a0722,#0e092b,#140b34,#150b37,#160b39,#180c3c,#180c3c,#190c3e,#1b0c41,#1c0c43,#1e0c45,#1e0c45,#1f0c48,#210c4a,#210c4a,#230c4c,#230c4c,#230c4c,#230c4c,#230c4c,#230c4c,#210c4a,#210c4a,#1f0c48,#1e0c45,#1e0c45,#1c0c43,#1b0c41,#190c3e,#180c3c,#180c3c,#160b39,#150b37,#140b34,#0e092b,#0a0722,#040314,#02020e)"></i><i style="background:linear-gradient(90deg,#030210,#050417,#0a0722,#10092d,#140b34,#160b39,#160b39,#180c3c,#180c3c,#180c3c,#190c3e,#190c3e,#1b0c41,#1b0c41,#1c0c43,#1c0c43,#1e0c45,#1e0c45,#1e0c45,#1e0c45,#1e0c45,#1e0c45,#1e0c45,#1e0c45,#1c0c43,#1c0c43,#1b0c41,#1b0c41,#190c3e,#190c3e,#180c3c,#180c3c,#180c3c,#160b39,#160b39,#140b34,#10092d,#0a0722,#050417,#030210)"></i><i style="background:linear-gradient(90deg,#040312,#060419,#0b0724,#110a30,#150b37,#160b39,#180c3c,#180c3c,#180c3c,#190c3e,#190c3e,#190c3e,#190c3e,#1b0c41,#1b0c41,#1b0c41,#1c0c43,#1c0c43,#1c0c43,#1c0c43,#1c0c43,#1c0c43,#1c0c43,#1c0c43,#1b0c41,#1b0c41,#1b0c41,#190c3e,#190c3e,#190c3e,#190c3e,#180c3c,#180c3c,#180c3c,#160b39,#150b37,#110a30,#0b0724,#060419,#040312)"></i><i style="background:linear-gradient(90deg,#040314,#08051d,#0d0829,#120a32,#160b39,#180c3c,#190c3e,#190c3e,#190c3e,#190c3e,#190c3e,#190c3e,#1b0c41,#1b0c41,#1b0c41,#1b0c41,#1b0c41,#1b0c41,#1c0c43,#1c0c43,#1c0c43,#1c0c43,#1b0c41,#1b0c41,#1b0c41,#1b0c41,#1b0c41,#1b0c41,#190c3e,#190c3e,#190c3e,#190c3e,#190c3e,#190c3e,#180c3c,#160b39,#120a32,#0d0829,#08051d,#040314)"></i><i style="background:linear-gradient(90deg,#060419,#09061f,#0e092b,#140b34,#180c3c,#190c3e,#1b0c41,#1b0c41,#1b0c41,#1b0c41,#1b0c41,#1b0c41,#1b0c41,#1b0c41,#1b0c41,#1b0c41,#1b0c41,#1c0c43,#1c0c43,#1c0c43,#1c0c43,#1c0c43,#1c0c43,#1b0c41,#1b0c41,#1b0c41,#1b0c41,#1b0c41,#1b0c41,#1b0c41,#1b0c41,#1b0c41,#1b0c41,#1b0c41,#190c3e,#180c3c,#140b34,#0e092b,#09061f,#060419)"></i><i style="background:linear-gradient(90deg,#07051b,#0a0722,#10092d,#150b37,#190c3e,#1b0c41,#1b0c41,#1c0c43,#1c0c43,#1c0c43,#1c0c43,#1c0c43,#1c0c43,#1c0c43,#1c0c43,#1c0c43,#1c0c43,#1c0c43,#1c0c43,#1c0c43,#1c0c43,#1c0c43,#1c0c43,#1c0c43,#1c0c43,#1c0c43,#1c0c43,#1c0c43,#1c0c43,#1c0c43,#1c0c43,#1c0c43,#1c0c43,#1b0c41,#1b0c41,#190c3e,#150b37,#10092d,#0a0722,#07051b)"></i><i style="background:linear-gradient(90deg,#09061f,#0c0826,#110a30,#160b39,#190c3e,#1c0c43,#1c0c43,#1c0c43,#1c0c43,#1c0c43,#1c0c43,#1c0c43,#1c0c43,#1c0c43,#1e0c45,#1e0c45,#1e0c45,#1e0c45,#1e0c45,#1e0c45,#1e0c45,#1e0c45,#1e0c45,#1e0c45,#1e0c45,#1e0c45,#1c0c43,#1c0c43,#1c0c43,#1c0c43,#1c0c43,#1c0c43,#1c0c43,#1c0c43,#1c0c43,#190c3e,#160b39,#110a30,#0c0826,#09061f)"></i><i style="background:linear-gradient(90deg,#0a0722,#0d0829,#120a32,#180c3c,#1b0c41,#1e0c45,#1e0c45,#1e0c45,#1e0c45,#1e0c45,#1e0c45,#1e0c45,#1e0c45,#1e0c45,#1e0c45,#1e0c45,#1e0c45,#1e0c45,#1e0c45,#1e0c45,#1e0c45,#1e0c45,#1e0c45,#1e0c45,#1e0c45,#1e0c45,#1e0c45,#1e0c45,#1e0c45,#1e0c45,#1e0c45,#1e0c45,#1e0c45,#1e0c45,#1e0c45,#1b0c41,#180c3c,#120a32,#0d0829,#0a0722)"></i><i style="background:linear-gradient(90deg,#0c0826,#10092d,#150b37,#190c3e,#1c0c43,#1e0c45,#1f0c48,#1f0c48,#1f0c48,#1f0c48,#1f0c48,#1f0c48,#1f0c48,#1f0c48,#1f0c48,#1f0c48,#1f0c48,#1f0c48,#1f0c48,#1f0c48,#1f0c48,#1f0c48,#1f0c48,#1f0c48,#1f0c48,#1f0c48,#1f0c48,#1f0c48,#1f0c48,#1f0c48,#1f0c48,#1f0c48,#1f0c48,#1f0c48,#1e0c45,#1c0c43,#190c3e,#150b37,#10092d,#0c0826)"></i><i style="background:linear-gradient(90deg,#0e092b,#110a30,#160b39,#1b0c41,#1e0c45,#1f0c48,#210c4a,#210c4a,#210c4a,#210c4a,#210c4a,#210c4a,#210c4a,#210c4a,#210c4a,#210c4a,#210c4a,#210c4a,#210c4a,#210c4a,#210c4a,#210c4a,#210c4a,#210c4a,#210c4a,#210c4a,#210c4a,#210c4a,#210c4a,#210c4a,#210c4a,#210c4a,#210c4a,#210c4a,#1f0c48,#1e0c45,#1b0c41,#160b39,#110a30,#0e092b)"></i><i style="background:linear-gradient(90deg,#10092d,#140b34,#180c3c,#1c0c43,#1f0c48,#210c4a,#210c4a,#230c4c,#230c4c,#230c4c,#230c4c,#230c4c,#230c4c,#230c4c,#230c4c,#230c4c,#230c4c,#230c4c,#230c4c,#230c4c,#230c4c,#230c4c,#230c4c,#230c4c,#230c4c,#230c4c,#230c4c,#230c4c,#230c4c,#230c4c,#230c4c,#230c4c,#230c4c,#210c4a,#210c4a,#1f0c48,#1c0c43,#180c3c,#140b34,#10092d)"></i><i style="background:linear-gradient(90deg,#120a32,#150b37,#190c3e,#1e0c45,#210c4a,#230c4c,#230c4c,#230c4c,#230c4c,#230c4c,#230c4c,#230c4c,#230c4c,#230c4c,#230c4c,#230c4c,#230c4c,#230c4c,#230c4c,#230c4c,#230c4c,#230c4c,#230c4c,#230c4c,#230c4c,#230c4c,#230c4c,#230c4c,#230c4c,#230c4c,#230c4c,#230c4c,#230c4c,#230c4c,#230c4c,#210c4a,#1e0c45,#190c3e,#150b37,#120a32)"></i><i style="background:linear-gradient(90deg,#150b37,#180c3c,#1c0c43,#1f0c48,#230c4c,#240c4f,#240c4f,#240c4f,#240c4f,#240c4f,#240c4f,#240c4f,#240c4f,#240c4f,#240c4f,#240c4f,#240c4f,#240c4f,#240c4f,#240c4f,#240c4f,#240c4f,#240c4f,#240c4f,#240c4f,#240c4f,#240c4f,#240c4f,#240c4f,#240c4f,#240c4f,#240c4f,#240c4f,#240c4f,#240c4f,#230c4c,#1f0c48,#1c0c43,#180c3c,#150b37)"></i><i style="background:linear-gradient(90deg,#160b39,#190c3e,#1e0c45,#210c4a,#240c4f,#260c51,#260c51,#260c51,#260c51,#260c51,#260c51,#260c51,#260c51,#260c51,#260c51,#260c51,#260c51,#260c51,#260c51,#260c51,#260c51,#260c51,#260c51,#260c51,#260c51,#260c51,#260c51,#260c51,#260c51,#260c51,#260c51,#260c51,#260c51,#260c51,#260c51,#240c4f,#210c4a,#1e0c45,#190c3e,#160b39)"></i><i style="background:linear-gradient(90deg,#190c3e,#1c0c43,#1f0c48,#240c4f,#260c51,#280b53,#280b53,#280b53,#280b53,#280b53,#280b53,#280b53,#280b53,#280b53,#280b53,#280b53,#280b53,#280b53,#280b53,#280b53,#280b53,#280b53,#280b53,#280b53,#280b53,#280b53,#280b53,#280b53,#280b53,#280b53,#280b53,#280b53,#280b53,#280b53,#280b53,#260c51,#240c4f,#1f0c48,#1c0c43,#190c3e)"></i><i style="background:linear-gradient(90deg,#1c0c43,#1f0c48,#230c4c,#260c51,#280b53,#290b55,#290b55,#290b55,#290b55,#290b55,#290b55,#290b55,#290b55,#290b55,#290b55,#290b55,#290b55,#290b55,#290b55,#290b55,#290b55,#290b55,#290b55,#290b55,#290b55,#290b55,#290b55,#290b55,#290b55,#290b55,#290b55,#290b55,#290b55,#290b55,#290b55,#280b53,#260c51,#230c4c,#1f0c48,#1c0c43)"></i><i style="background:linear-gradient(90deg,#1f0c48,#210c4a,#260c51,#280b53,#2b0b57,#2b0b57,#2d0b59,#2d0b59,#2d0b59,#2d0b59,#2d0b59,#2d0b59,#2d0b59,#2d0b59,#2d0b59,#2d0b59,#2d0b59,#2d0b59,#2d0b59,#2d0b59,#2d0b59,#2d0b59,#2d0b59,#2d0b59,#2d0b59,#2d0b59,#2d0b59,#2d0b59,#2d0b59,#2d0b59,#2d0b59,#2d0b59,#2d0b59,#2d0b59,#2b0b57,#2b0b57,#280b53,#260c51,#210c4a,#1f0c48)"></i><i style="background:linear-gradient(90deg,#230c4c,#240c4f,#280b53,#2b0b57,#2d0b59,#2f0a5b,#2f0a5b,#2f0a5b,#2f0a5b,#2f0a5b,#2f0a5b,#2f0a5b,#2f0a5b,#2f0a5b,#2f0a5b,#2f0a5b,#2f0a5b,#2f0a5b,#2f0a5b,#2f0a5b,#2f0a5b,#2f0a5b,#2f0a5b,#2f0a5b,#2f0a5b,#2f0a5b,#2f0a5b,#2f0a5b,#2f0a5b,#2f0a5b,#2f0a5b,#2f0a5b,#2f0a5b,#2f0a5b,#2f0a5b,#2d0b59,#2b0b57,#280b53,#240c4f,#230c4c)"></i><i style="background:linear-gradient(90deg,#260c51,#280b53,#2b0b57,#2d0b59,#2f0a5b,#310a5c,#310a5c,#310a5c,#310a5c,#310a5c,#310a5c,#310a5c,#310a5c,#310a5c,#310a5c,#310a5c,#310a5c,#310a5c,#310a5c,#310a5c,#310a5c,#310a5c,#310a5c,#310a5c,#310a5c,#310a5c,#310a5c,#310a5c,#310a5c,#310a5c,#310a5c,#310a5c,#310a5c,#310a5c,#310a5c,#2f0a5b,#2d0b59,#2b0b57,#280b53,#260c51)"></i><i style="background:linear-gradient(90deg,#290b55,#2b0b57,#2d0b59,#310a5c,#320a5e,#320a5e,#320a5e,#320a5e,#320a5e,#320a5e,#320a5e,#320a5e,#320a5e,#320a5e,#320a5e,#320a5e,#320a5e,#320a5e,#320a5e,#320a5e,#320a5e,#320a5e,#320a5e,#320a5e,#320a5e,#320a5e,#320a5e,#320a5e,#320a5e,#320a5e,#320a5e,#320a5e,#320a5e,#320a5e,#320a5e,#320a5e,#310a5c,#2d0b59,#2b0b57,#290b55)"></i><i style="background:linear-gradient(90deg,#2b0b57,#2d0b59,#310a5c,#320a5e,#340a5f,#340a5f,#340a5f,#360961,#360961,#360961,#360961,#360961,#360961,#360961,#360961,#360961,#360961,#360961,#360961,#360961,#360961,#360961,#360961,#360961,#360961,#360961,#360961,#360961,#360961,#360961,#360961,#360961,#360961,#340a5f,#340a5f,#340a5f,#320a5e,#310a5c,#2d0b59,#2b0b57)"></i><i style="background:linear-gradient(90deg,#2f0a5b,#310a5c,#320a5e,#340a5f,#360961,#380962,#380962,#380962,#380962,#380962,#380962,#380962,#380962,#380962,#380962,#380962,#380962,#380962,#380962,#380962,#380962,#380962,#380962,#380962,#380962,#380962,#380962,#380962,#380962,#380962,#380962,#380962,#380962,#380962,#380962,#360961,#340a5f,#320a5e,#310a5c,#2f0a5b)"></i><i style="background:linear-gradient(90deg,#320a5e,#340a5f,#360961,#380962,#380962,#390963,#390963,#390963,#390963,#390963,#390963,#390963,#390963,#390963,#390963,#390963,#390963,#390963,#390963,#390963,#390963,#390963,#390963,#390963,#390963,#390963,#390963,#390963,#390963,#390963,#390963,#390963,#390963,#390963,#390963,#380962,#380962,#360961,#340a5f,#320a5e)"></i><i style="background:linear-gradient(90deg,#360961,#360961,#380962,#390963,#3b0964,#3b0964,#3b0964,#3b0964,#3b0964,#3b0964,#3b0964,#3b0964,#3b0964,#3b0964,#3b0964,#3b0964,#3b0964,#3b0964,#3b0964,#3b0964,#3b0964,#3b0964,#3b0964,#3b0964,#3b0964,#3b0964,#3b0964,#3b0964,#3b0964,#3b0964,#3b0964,#3b0964,#3b0964,#3b0964,#3b0964,#3b0964,#390963,#380962,#360961,#360961)"></i><i style="background:linear-gradient(90deg,#380962,#390963,#3b0964,#3d0965,#3d0965,#3d0965,#3e0966,#3e0966,#3e0966,#3e0966,#3e0966,#3e0966,#3e0966,#3e0966,#3e0966,#3e0966,#3e0966,#3e0966,#3e0966,#3e0966,#3e0966,#3e0966,#3e0966,#3e0966,#3e0966,#3e0966,#3e0966,#3e0966,#3e0966,#3e0966,#3e0966,#3e0966,#3e0966,#3e0966,#3d0965,#3d0965,#3d0965,#3b0964,#390963,#380962)"></i><i style="background:linear-gradient(90deg,#3d0965,#3d0965,#3e0966,#3e0966,#400a67,#400a67,#400a67,#400a67,#400a67,#400a67,#400a67,#400a67,#400a67,#400a67,#400a67,#400a67,#400a67,#400a67,#400a67,#400a67,#400a67,#400a67,#400a67,#400a67,#400a67,#400a67,#400a67,#400a67,#400a67,#400a67,#400a67,#400a67,#400a67,#400a67,#400a67,#400a67,#3e0966,#3e0966,#3d0965,#3d0965)"></i><i style="background:linear-gradient(90deg,#400a67,#400a67,#420a68,#420a68,#440a68,#440a68,#440a68,#440a68,#440a68,#440a68,#440a68,#440a68,#440a68,#440a68,#440a68,#440a68,#440a68,#440a68,#440a68,#440a68,#440a68,#440a68,#440a68,#440a68,#440a68,#440a68,#440a68,#440a68,#440a68,#440a68,#440a68,#440a68,#440a68,#440a68,#440a68,#440a68,#420a68,#420a68,#400a67,#400a67)"></i><i style="background:linear-gradient(90deg,#420a68,#440a68,#440a68,#450a69,#450a69,#450a69,#470b6a,#470b6a,#470b6a,#470b6a,#470b6a,#470b6a,#470b6a,#470b6a,#470b6a,#470b6a,#470b6a,#470b6a,#470b6a,#470b6a,#470b6a,#470b6a,#470b6a,#470b6a,#470b6a,#470b6a,#470b6a,#470b6a,#470b6a,#470b6a,#470b6a,#470b6a,#470b6a,#470b6a,#450a69,#450a69,#450a69,#440a68,#440a68,#420a68)"></i><i style="background:linear-gradient(90deg,#450a69,#470b6a,#470b6a,#490b6a,#490b6a,#490b6a,#490b6a,#490b6a,#490b6a,#490b6a,#490b6a,#490b6a,#490b6a,#490b6a,#490b6a,#490b6a,#490b6a,#490b6a,#490b6a,#490b6a,#490b6a,#490b6a,#490b6a,#490b6a,#490b6a,#490b6a,#490b6a,#490b6a,#490b6a,#490b6a,#490b6a,#490b6a,#490b6a,#490b6a,#490b6a,#490b6a,#490b6a,#470b6a,#470b6a,#450a69)"></i><i style="background:linear-gradient(90deg,#490b6a,#4a0c6b,#4a0c6b,#4a0c6b,#4c0c6b,#4c0c6b,#4c0c6b,#4c0c6b,#4c0c6b,#4c0c6b,#4c0c6b,#4c0c6b,#4c0c6b,#4c0c6b,#4c0c6b,#4c0c6b,#4c0c6b,#4c0c6b,#4c0c6b,#4c0c6b,#4c0c6b,#4c0c6b,#4c0c6b,#4c0c6b,#4c0c6b,#4c0c6b,#4c0c6b,#4c0c6b,#4c0c6b,#4c0c6b,#4c0c6b,#4c0c6b,#4c0c6b,#4c0c6b,#4c0c6b,#4c0c6b,#4a0c6b,#4a0c6b,#4a0c6b,#490b6a)"></i><i style="background:linear-gradient(90deg,#4c0c6b,#4c0c6b,#4d0d6c,#4d0d6c,#4d0d6c,#4d0d6c,#4f0d6c,#4f0d6c,#4f0d6c,#4f0d6c,#4f0d6c,#4f0d6c,#4f0d6c,#4f0d6c,#4f0d6c,#4f0d6c,#4f0d6c,#4f0d6c,#4f0d6c,#4f0d6c,#4f0d6c,#4f0d6c,#4f0d6c,#4f0d6c,#4f0d6c,#4f0d6c,#4f0d6c,#4f0d6c,#4f0d6c,#4f0d6c,#4f0d6c,#4f0d6c,#4f0d6c,#4f0d6c,#4d0d6c,#4d0d6c,#4d0d6c,#4d0d6c,#4c0c6b,#4c0c6b)"></i><i style="background:linear-gradient(90deg,#4f0d6c,#4f0d6c,#510e6c,#510e6c,#510e6c,#510e6c,#510e6c,#510e6c,#510e6c,#510e6c,#510e6c,#510e6c,#510e6c,#510e6c,#510e6c,#510e6c,#510e6c,#510e6c,#510e6c,#510e6c,#510e6c,#510e6c,#510e6c,#510e6c,#510e6c,#510e6c,#510e6c,#510e6c,#510e6c,#510e6c,#510e6c,#510e6c,#510e6c,#510e6c,#510e6c,#510e6c,#510e6c,#510e6c,#4f0d6c,#4f0d6c)"></i><i style="background:linear-gradient(90deg,#520e6d,#520e6d,#520e6d,#540f6d,#540f6d,#540f6d,#540f6d,#540f6d,#540f6d,#540f6d,#540f6d,#540f6d,#540f6d,#540f6d,#540f6d,#540f6d,#540f6d,#540f6d,#540f6d,#540f6d,#540f6d,#540f6d,#540f6d,#540f6d,#540f6d,#540f6d,#540f6d,#540f6d,#540f6d,#540f6d,#540f6d,#540f6d,#540f6d,#540f6d,#540f6d,#540f6d,#540f6d,#520e6d,#520e6d,#520e6d)"></i><i style="background:linear-gradient(90deg,#550f6d,#550f6d,#550f6d,#550f6d,#550f6d,#550f6d,#550f6d,#57106e,#57106e,#57106e,#57106e,#57106e,#57106e,#57106e,#57106e,#57106e,#57106e,#57106e,#57106e,#57106e,#57106e,#57106e,#57106e,#57106e,#57106e,#57106e,#57106e,#57106e,#57106e,#57106e,#57106e,#57106e,#57106e,#550f6d,#550f6d,#550f6d,#550f6d,#550f6d,#550f6d,#550f6d)"></i><i style="background:linear-gradient(90deg,#57106e,#59106e,#59106e,#59106e,#59106e,#59106e,#59106e,#59106e,#59106e,#59106e,#59106e,#59106e,#59106e,#59106e,#59106e,#59106e,#59106e,#59106e,#59106e,#59106e,#59106e,#59106e,#59106e,#59106e,#59106e,#59106e,#59106e,#59106e,#59106e,#59106e,#59106e,#59106e,#59106e,#59106e,#59106e,#59106e,#59106e,#59106e,#59106e,#57106e)"></i><i style="background:linear-gradient(90deg,#5c126e,#5c126e,#5c126e,#5c126e,#5c126e,#5c126e,#5c126e,#5c126e,#5c126e,#5c126e,#5c126e,#5c126e,#5c126e,#5c126e,#5c126e,#5c126e,#5c126e,#5c126e,#5c126e,#5c126e,#5c126e,#5c126e,#5c126e,#5c126e,#5c126e,#5c126e,#5c126e,#5c126e,#5c126e,#5c126e,#5c126e,#5c126e,#5c126e,#5c126e,#5c126e,#5c126e,#5c126e,#5c126e,#5c126e,#5c126e)"></i><i style="background:linear-gradient(90deg,#61136e,#61136e,#61136e,#61136e,#61136e,#61136e,#61136e,#61136e,#61136e,#61136e,#61136e,#61136e,#61136e,#61136e,#61136e,#61136e,#61136e,#61136e,#61136e,#61136e,#61136e,#61136e,#61136e,#61136e,#61136e,#61136e,#61136e,#61136e,#61136e,#61136e,#61136e,#61136e,#61136e,#61136e,#61136e,#61136e,#61136e,#61136e,#61136e,#61136e)"></i><i style="background:linear-gradient(90deg,#65156e,#65156e,#65156e,#65156e,#65156e,#65156e,#65156e,#65156e,#65156e,#65156e,#65156e,#65156e,#65156e,#65156e,#65156e,#65156e,#65156e,#65156e,#65156e,#65156e,#65156e,#65156e,#65156e,#65156e,#65156e,#65156e,#65156e,#65156e,#65156e,#65156e,#65156e,#65156e,#65156e,#65156e,#65156e,#65156e,#65156e,#65156e,#65156e,#65156e)"></i><i style="background:linear-gradient(90deg,#6a176e,#6a176e,#6a176e,#6a176e,#6a176e,#6a176e,#6a176e,#6a176e,#6a176e,#6a176e,#6a176e,#6a176e,#6a176e,#6a176e,#6a176e,#6a176e,#6a176e,#6a176e,#6a176e,#6a176e,#6a176e,#6a176e,#6a176e,#6a176e,#6a176e,#6a176e,#6a176e,#6a176e,#6a176e,#6a176e,#6a176e,#6a176e,#6a176e,#6a176e,#6a176e,#6a176e,#6a176e,#6a176e,#6a176e,#6a176e)"></i><i style="background:linear-gradient(90deg,#6d186e,#6f196e,#6f196e,#6f196e,#6f196e,#6f196e,#6f196e,#6f196e,#6f196e,#6f196e,#6f196e,#6f196e,#6f196e,#6f196e,#6f196e,#6f196e,#6f196e,#6f196e,#6f196e,#6f196e,#6f196e,#6f196e,#6f196e,#6f196e,#6f196e,#6f196e,#6f196e,#6f196e,#6f196e,#6f196e,#6f196e,#6f196e,#6f196e,#6f196e,#6f196e,#6f196e,#6f196e,#6f196e,#6f196e,#6d186e)"></i><i style="background:linear-gradient(90deg,#721a6e,#721a6e,#721a6e,#741a6e,#741a6e,#741a6e,#741a6e,#741a6e,#741a6e,#741a6e,#741a6e,#741a6e,#741a6e,#741a6e,#741a6e,#741a6e,#741a6e,#741a6e,#741a6e,#741a6e,#741a6e,#741a6e,#741a6e,#741a6e,#741a6e,#741a6e,#741a6e,#741a6e,#741a6e,#741a6e,#741a6e,#741a6e,#741a6e,#741a6e,#741a6e,#741a6e,#741a6e,#721a6e,#721a6e,#721a6e)"></i><i style="background:linear-gradient(90deg,#771c6d,#771c6d,#771c6d,#771c6d,#771c6d,#771c6d,#771c6d,#771c6d,#771c6d,#771c6d,#771c6d,#771c6d,#771c6d,#771c6d,#771c6d,#771c6d,#771c6d,#771c6d,#771c6d,#771c6d,#771c6d,#771c6d,#771c6d,#771c6d,#771c6d,#771c6d,#771c6d,#771c6d,#771c6d,#771c6d,#771c6d,#771c6d,#771c6d,#771c6d,#771c6d,#771c6d,#771c6d,#771c6d,#771c6d,#771c6d)"></i><i style="background:linear-gradient(90deg,#7c1d6d,#7c1d6d,#7c1d6d,#7c1d6d,#7c1d6d,#7c1d6d,#7c1d6d,#7c1d6d,#7c1d6d,#7c1d6d,#7c1d6d,#7c1d6d,#7c1d6d,#7c1d6d,#7c1d6d,#7c1d6d,#7c1d6d,#7c1d6d,#7c1d6d,#7c1d6d,#7c1d6d,#7c1d6d,#7c1d6d,#7c1d6d,#7c1d6d,#7c1d6d,#7c1d6d,#7c1d6d,#7c1d6d,#7c1d6d,#7c1d6d,#7c1d6d,#7c1d6d,#7c1d6d,#7c1d6d,#7c1d6d,#7c1d6d,#7c1d6d,#7c1d6d,#7c1d6d)"></i><i style="background:linear-gradient(90deg,#801f6c,#801f6c,#801f6c,#801f6c,#801f6c,#801f6c,#801f6c,#801f6c,#801f6c,#801f6c,#801f6c,#801f6c,#801f6c,#801f6c,#801f6c,#801f6c,#801f6c,#801f6c,#801f6c,#801f6c,#801f6c,#801f6c,#801f6c,#801f6c,#801f6c,#801f6c,#801f6c,#801f6c,#801f6c,#801f6c,#801f6c,#801f6c,#801f6c,#801f6c,#801f6c,#801f6c,#801f6c,#801f6c,#801f6c,#801f6c)"></i><i style="background:linear-gradient(90deg,#85216b,#85216b,#85216b,#85216b,#85216b,#85216b,#85216b,#85216b,#85216b,#85216b,#85216b,#85216b,#85216b,#85216b,#85216b,#85216b,#85216b,#85216b,#85216b,#85216b,#85216b,#85216b,#85216b,#85216b,#85216b,#85216b,#85216b,#85216b,#85216b,#85216b,#85216b,#85216b,#85216b,#85216b,#85216b,#85216b,#85216b,#85216b,#85216b,#85216b)"></i><i style="background:linear-gradient(90deg,#8a226a,#8a226a,#8a226a,#8a226a,#8a226a,#8a226a,#8a226a,#8a226a,#8a226a,#8a226a,#8a226a,#8a226a,#8a226a,#8a226a,#8a226a,#8a226a,#8a226a,#8a226a,#8a226a,#8a226a,#8a226a,#8a226a,#8a226a,#8a226a,#8a226a,#8a226a,#8a226a,#8a226a,#8a226a,#8a226a,#8a226a,#8a226a,#8a226a,#8a226a,#8a226a,#8a226a,#8a226a,#8a226a,#8a226a,#8a226a)"></i><i style="background:linear-gradient(90deg,#8f2469,#8f2469,#8f2469,#902568,#902568,#902568,#902568,#902568,#902568,#902568,#902568,#902568,#902568,#902568,#902568,#902568,#902568,#902568,#902568,#902568,#902568,#902568,#902568,#902568,#902568,#902568,#902568,#902568,#902568,#902568,#902568,#902568,#902568,#902568,#902568,#902568,#902568,#8f2469,#8f2469,#8f2469)"></i><i style="background:linear-gradient(90deg,#972766,#972766,#972766,#972766,#972766,#972766,#972766,#972766,#972766,#972766,#972766,#972766,#972766,#972766,#972766,#972766,#972766,#972766,#972766,#972766,#972766,#972766,#972766,#972766,#972766,#972766,#972766,#972766,#972766,#972766,#972766,#972766,#972766,#972766,#972766,#972766,#972766,#972766,#972766,#972766)"></i><i style="background:linear-gradient(90deg,#9d2964,#9d2964,#9d2964,#9d2964,#9d2964,#9d2964,#9d2964,#9d2964,#9d2964,#9d2964,#9d2964,#9d2964,#9d2964,#9d2964,#9d2964,#9d2964,#9d2964,#9d2964,#9d2964,#9d2964,#9d2964,#9d2964,#9d2964,#9d2964,#9d2964,#9d2964,#9d2964,#9d2964,#9d2964,#9d2964,#9d2964,#9d2964,#9d2964,#9d2964,#9d2964,#9d2964,#9d2964,#9d2964,#9d2964,#9d2964)"></i><i style="background:linear-gradient(90deg,#a32c61,#a32c61,#a32c61,#a32c61,#a32c61,#a32c61,#a32c61,#a32c61,#a32c61,#a32c61,#a32c61,#a32c61,#a32c61,#a32c61,#a32c61,#a32c61,#a32c61,#a32c61,#a32c61,#a32c61,#a32c61,#a32c61,#a32c61,#a32c61,#a32c61,#a32c61,#a32c61,#a32c61,#a32c61,#a32c61,#a32c61,#a32c61,#a32c61,#a32c61,#a32c61,#a32c61,#a32c61,#a32c61,#a32c61,#a32c61)"></i><i style="background:linear-gradient(90deg,#a92e5e,#a92e5e,#a92e5e,#a92e5e,#a92e5e,#a92e5e,#a92e5e,#a92e5e,#a92e5e,#a92e5e,#a92e5e,#a92e5e,#a92e5e,#a92e5e,#a92e5e,#a92e5e,#a92e5e,#a92e5e,#a92e5e,#a92e5e,#a92e5e,#a92e5e,#a92e5e,#a92e5e,#a92e5e,#a92e5e,#a92e5e,#a92e5e,#a92e5e,#a92e5e,#a92e5e,#a92e5e,#a92e5e,#a92e5e,#a92e5e,#a92e5e,#a92e5e,#a92e5e,#a92e5e,#a92e5e)"></i><i style="background:linear-gradient(90deg,#b0315b,#b0315b,#b0315b,#b0315b,#b0315b,#b0315b,#b0315b,#b0315b,#b0315b,#b0315b,#b0315b,#b0315b,#b0315b,#b0315b,#b0315b,#b0315b,#b0315b,#b0315b,#b0315b,#b0315b,#b0315b,#b0315b,#b0315b,#b0315b,#b0315b,#b0315b,#b0315b,#b0315b,#b0315b,#b0315b,#b0315b,#b0315b,#b0315b,#b0315b,#b0315b,#b0315b,#b0315b,#b0315b,#b0315b,#b0315b)"></i><i style="background:linear-gradient(90deg,#b63458,#b63458,#b63458,#b63458,#b63458,#b63458,#b63458,#b63458,#b63458,#b63458,#b63458,#b63458,#b63458,#b63458,#b63458,#b63458,#b63458,#b63458,#b63458,#b63458,#b63458,#b63458,#b63458,#b63458,#b63458,#b63458,#b63458,#b63458,#b63458,#b63458,#b63458,#b63458,#b63458,#b63458,#b63458,#b63458,#b63458,#b63458,#b63458,#b63458)"></i><i style="background:linear-gradient(90deg,#bc3754,#bc3754,#bc3754,#bc3754,#bc3754,#bc3754,#bc3754,#bc3754,#bc3754,#bc3754,#bc3754,#bc3754,#bc3754,#bc3754,#bc3754,#bc3754,#bc3754,#bc3754,#bc3754,#bc3754,#bc3754,#bc3754,#bc3754,#bc3754,#bc3754,#bc3754,#bc3754,#bc3754,#bc3754,#bc3754,#bc3754,#bc3754,#bc3754,#bc3754,#bc3754,#bc3754,#bc3754,#bc3754,#bc3754,#bc3754)"></i><i style="background:linear-gradient(90deg,#bf3952,#bf3952,#bf3952,#bf3952,#bf3952,#bf3952,#bf3952,#bf3952,#bf3952,#bf3952,#bf3952,#bf3952,#bf3952,#bf3952,#bf3952,#bf3952,#bf3952,#bf3952,#bf3952,#bf3952,#bf3952,#bf3952,#bf3952,#bf3952,#bf3952,#bf3952,#bf3952,#bf3952,#bf3952,#bf3952,#bf3952,#bf3952,#bf3952,#bf3952,#bf3952,#bf3952,#bf3952,#bf3952,#bf3952,#bf3952)"></i><i style="background:linear-gradient(90deg,#c13a50,#c13a50,#c13a50,#c13a50,#c13a50,#c13a50,#c13a50,#c13a50,#c13a50,#c13a50,#c13a50,#c13a50,#c13a50,#c13a50,#c13a50,#c13a50,#c13a50,#c13a50,#c13a50,#c13a50,#c13a50,#c13a50,#c13a50,#c13a50,#c13a50,#c13a50,#c13a50,#c13a50,#c13a50,#c13a50,#c13a50,#c13a50,#c13a50,#c13a50,#c13a50,#c13a50,#c13a50,#c13a50,#c13a50,#c13a50)"></i><i style="background:linear-gradient(90deg,#c43c4e,#c43c4e,#c43c4e,#c43c4e,#c43c4e,#c43c4e,#c43c4e,#c43c4e,#c43c4e,#c43c4e,#c43c4e,#c43c4e,#c43c4e,#c43c4e,#c43c4e,#c43c4e,#c43c4e,#c43c4e,#c43c4e,#c43c4e,#c43c4e,#c43c4e,#c43c4e,#c43c4e,#c43c4e,#c43c4e,#c43c4e,#c43c4e,#c43c4e,#c43c4e,#c43c4e,#c43c4e,#c43c4e,#c43c4e,#c43c4e,#c43c4e,#c43c4e,#c43c4e,#c43c4e,#c43c4e)"></i></div>
<div style="position:absolute;left:185.20px;top:4.50px;width:4.80px;height:133.90px;background:linear-gradient(#6a011f,#760521,#810823,#8d0c25,#991027,#a51429,#b1182b,#b72230,#bd2d35,#c2383a,#c84440,#ce4f45,#d35a4a,#d86551,#dd7059,#e27b62,#e6866a,#eb9172,#f09c7b,#f4a683,#f6af8e,#f7b799,#f8bfa4,#fac8af,#fbd0b9,#fdd9c4,#fcdecd,#fbe3d4,#fae7dc,#f9ebe3,#f9f0eb,#f8f4f2,#f5f6f7,#eff3f5,#e9f0f4,#e3edf3,#ddebf2,#d7e8f1,#d1e5f0,#c7e0ed,#bddbea,#b3d6e8,#a9d1e5,#a0cce2,#96c7df,#8ac0db,#7eb8d7,#71b0d3,#65a9cf,#59a1ca,#4c99c6,#4291c2,#3c8abe,#3783bb,#327cb7,#2c75b4,#276eb0,#2267ac,#1d5fa2,#195696,#144e8a,#10457e,#0c3d73,#073467)"></div>
<div style="position:absolute;left:185.20px;top:179.00px;width:4.80px;height:134.10px;background:linear-gradient(#6a011f,#760521,#810823,#8d0c25,#991027,#a51429,#b1182b,#b72230,#bd2d35,#c2383a,#c84440,#ce4f45,#d35a4a,#d86551,#dd7059,#e27b62,#e6866a,#eb9172,#f09c7b,#f4a683,#f6af8e,#f7b799,#f8bfa4,#fac8af,#fbd0b9,#fdd9c4,#fcdecd,#fbe3d4,#fae7dc,#f9ebe3,#f9f0eb,#f8f4f2,#f5f6f7,#eff3f5,#e9f0f4,#e3edf3,#ddebf2,#d7e8f1,#d1e5f0,#c7e0ed,#bddbea,#b3d6e8,#a9d1e5,#a0cce2,#96c7df,#8ac0db,#7eb8d7,#71b0d3,#65a9cf,#59a1ca,#4c99c6,#4291c2,#3c8abe,#3783bb,#327cb7,#2c75b4,#276eb0,#2267ac,#1d5fa2,#195696,#144e8a,#10457e,#0c3d73,#073467)"></div>
<div style="position:absolute;left:410.90px;top:4.50px;width:4.70px;height:133.90px;background:linear-gradient(#08316d,#083573,#083979,#083d7f,#084285,#08468b,#084a91,#084e98,#09529d,#0c56a0,#0f5aa3,#125ea6,#1562a9,#1966ad,#1c6ab0,#1f6eb3,#2272b6,#2676b8,#2b7bba,#2f7fbc,#3383be,#3787c0,#3b8bc2,#3f8fc5,#4493c7,#4997c9,#4e9acb,#539ecd,#58a1cf,#5da5d1,#63a8d3,#68acd5,#6dafd7,#74b3d8,#7ab6d9,#81badb,#87bddc,#8dc1dd,#94c4df,#9ac8e0,#a0cbe2,#a5cde3,#aacfe5,#afd1e7,#b4d3e9,#b9d6ea,#bed8ec,#c3daee,#c7dcef,#cadef0,#cde0f1,#d0e2f2,#d3e4f3,#d6e6f4,#d9e8f5,#dceaf6,#dfecf7,#e3eef8,#e6f0f9,#e9f2fa,#ecf4fb,#eff6fc,#f2f8fd,#f5fafe)"></div>
<div style="position:absolute;left:410.90px;top:179.00px;width:4.70px;height:134.10px;background:linear-gradient(#08316d,#083573,#083979,#083d7f,#084285,#08468b,#084a91,#084e98,#09529d,#0c56a0,#0f5aa3,#125ea6,#1562a9,#1966ad,#1c6ab0,#1f6eb3,#2272b6,#2676b8,#2b7bba,#2f7fbc,#3383be,#3787c0,#3b8bc2,#3f8fc5,#4493c7,#4997c9,#4e9acb,#539ecd,#58a1cf,#5da5d1,#63a8d3,#68acd5,#6dafd7,#74b3d8,#7ab6d9,#81badb,#87bddc,#8dc1dd,#94c4df,#9ac8e0,#a0cbe2,#a5cde3,#aacfe5,#afd1e7,#b4d3e9,#b9d6ea,#bed8ec,#c3daee,#c7dcef,#cadef0,#cde0f1,#d0e2f2,#d3e4f3,#d6e6f4,#d9e8f5,#dceaf6,#dfecf7,#e3eef8,#e6f0f9,#e9f2fa,#ecf4fb,#eff6fc,#f2f8fd,#f5fafe)"></div>
<div style="position:absolute;left:636.30px;top:4.50px;width:4.70px;height:133.90px;background:linear-gradient(#fafda1,#f5f992,#f2f482,#f1ed71,#f2e661,#f4df53,#f6d746,#f8cf3a,#f9c72f,#fac026,#fbb81d,#fcb014,#fca80d,#fca108,#fb9906,#fa9207,#f98b0b,#f78410,#f57d15,#f3761b,#f06f20,#ed6925,#ea632a,#e65d2f,#e25734,#de5238,#d94d3d,#d44842,#cf4446,#ca404a,#c43c4e,#bf3952,#b93556,#b3325a,#ad305d,#a62d60,#a02a63,#9a2865,#932667,#8d2369,#87216b,#801f6c,#7a1d6d,#741a6e,#6d186e,#67166e,#61136e,#5a116e,#540f6d,#4d0d6c,#470b6a,#400a67,#390963,#320a5e,#2b0b57,#240c4f,#1e0c45,#180c3c,#120a32,#0d0829,#09061f,#050417,#02020e,#010106)"></div>
<div style="position:absolute;left:636.30px;top:179.00px;width:4.70px;height:134.10px;background:linear-gradient(#fafda1,#f5f992,#f2f482,#f1ed71,#f2e661,#f4df53,#f6d746,#f8cf3a,#f9c72f,#fac026,#fbb81d,#fcb014,#fca80d,#fca108,#fb9906,#fa9207,#f98b0b,#f78410,#f57d15,#f3761b,#f06f20,#ed6925,#ea632a,#e65d2f,#e25734,#de5238,#d94d3d,#d44842,#cf4446,#ca404a,#c43c4e,#bf3952,#b93556,#b3325a,#ad305d,#a62d60,#a02a63,#9a2865,#932667,#8d2369,#87216b,#801f6c,#7a1d6d,#741a6e,#6d186e,#67166e,#61136e,#5a116e,#540f6d,#4d0d6c,#470b6a,#400a67,#390963,#320a5e,#2b0b57,#240c4f,#1e0c45,#180c3c,#120a32,#0d0829,#09061f,#050417,#02020e,#010106)"></div>
<svg width="685" height="346" viewBox="0 0 685 346">
<path d="M39.50 55.20H67.00 M77.00 55.20H182.60" class="ct"/>
<text x="72.00" y="58.90" text-anchor="middle" class="cl">0</text>
<path d="M39.50 88.50H145.00 M155.00 88.50H182.60" class="ct"/>
<text x="150.00" y="92.20" text-anchor="middle" class="cl">0</text>
<path d="M39.50 104.93h3" class="tk"/>
<path d="M75.28 138.40v-3" class="tk"/>
<path d="M39.50 71.45h3" class="tk"/>
<path d="M111.05 138.40v-3" class="tk"/>
<path d="M39.50 37.97h3" class="tk"/>
<path d="M146.82 138.40v-3" class="tk"/>
<rect x="39.50" y="4.50" width="143.10" height="133.90" class="fr"/>
<text x="36.70" y="143.70" text-anchor="end" class="n">0</text>
<text x="36.70" y="110.23" text-anchor="end" class="n">45</text>
<text x="36.70" y="76.75" text-anchor="end" class="n">90</text>
<text x="36.70" y="43.27" text-anchor="end" class="n">135</text>
<text x="36.70" y="9.80" text-anchor="end" class="n">180</text>
<path d="M27.90 149.50h9" class="mn"/>
<text x="38.10" y="152.60" class="n">90</text>
<path d="M63.68 149.50h9" class="mn"/>
<text x="73.88" y="152.60" class="n">45</text>
<text x="111.25" y="152.60" text-anchor="middle" class="n">0</text>
<text x="147.02" y="152.60" text-anchor="middle" class="n">45</text>
<text x="182.80" y="152.60" text-anchor="middle" class="n">90</text>
<text x="111.25" y="167.60" text-anchor="middle" textLength="41.5" lengthAdjust="spacing"><tspan font-style="italic">φ</tspan> (deg)</text>
<text transform="translate(12.50 71.45) rotate(-90)" text-anchor="middle" textLength="40.5" lengthAdjust="spacing"><tspan font-style="italic">θ</tspan> (deg)</text>
<text x="43.10" y="22.50" font-weight="bold" font-size="16.2" class="k">(a)</text>
<text x="103.70" y="24.80" font-size="15.4" class="k">C</text>
<path d="M194.10 140.50h8.9" class="mn"/>
<text x="204.30" y="143.60" class="n" style="letter-spacing:0">7.54</text>
<path d="M190.00 71.45h-2.8" class="tk"/>
<text x="192.70" y="76.65" class="n">0.00</text>
<text x="192.70" y="9.70" class="n">7.54</text>
<rect x="185.20" y="4.50" width="4.80" height="133.90" class="fr"/>
<text transform="translate(243.60 71.45) rotate(-90)" text-anchor="middle" textLength="100" lengthAdjust="spacing">(∂<tspan font-style="italic">f</tspan><tspan font-size="9.5" dy="2.5">L</tspan><tspan dy="-2.5">/∂</tspan><tspan font-style="italic">V</tspan>)/<tspan font-style="italic">f</tspan><tspan font-size="9.5" dy="2.5">L</tspan><tspan dy="-2.5"> (V</tspan><tspan font-size="9.5" dy="-5">−1</tspan><tspan dy="5">)</tspan></text>
<path d="M264.80 104.93h3" class="tk"/>
<path d="M300.68 138.40v-3" class="tk"/>
<path d="M264.80 71.45h3" class="tk"/>
<path d="M336.55 138.40v-3" class="tk"/>
<path d="M264.80 37.97h3" class="tk"/>
<path d="M372.43 138.40v-3" class="tk"/>
<rect x="264.80" y="4.50" width="143.50" height="133.90" class="fr"/>
<path d="M253.20 149.50h9" class="mn"/>
<text x="263.40" y="152.60" class="n">90</text>
<path d="M289.07 149.50h9" class="mn"/>
<text x="299.28" y="152.60" class="n">45</text>
<text x="336.75" y="152.60" text-anchor="middle" class="n">0</text>
<text x="372.62" y="152.60" text-anchor="middle" class="n">45</text>
<text x="408.50" y="152.60" text-anchor="middle" class="n">90</text>
<text x="336.75" y="167.60" text-anchor="middle" textLength="41.5" lengthAdjust="spacing"><tspan font-style="italic">φ</tspan> (deg)</text>
<text x="268.40" y="22.50" font-weight="bold" font-size="16.2" class="k">(b)</text>
<text x="329.00" y="24.80" font-size="15.4" class="k">C</text>
<text x="418.30" y="143.60" class="n">0.00</text>
<path d="M415.60 71.45h-2.8" class="tk"/>
<text x="418.30" y="76.65" class="n">1.38</text>
<text x="418.30" y="9.70" class="n">2.75</text>
<rect x="410.90" y="4.50" width="4.70" height="133.90" class="fr"/>
<text transform="translate(458.10 71.45) rotate(-90)" text-anchor="middle" textLength="85" lengthAdjust="spacing"><tspan font-style="italic">f</tspan><tspan font-size="9.5" dy="2.5">R</tspan><tspan dy="-2.5"> (MHz/mV)</tspan></text>
<path d="M490.30 104.93h3" class="tk"/>
<path d="M526.12 138.40v-3" class="tk"/>
<path d="M490.30 71.45h3" class="tk"/>
<path d="M561.95 138.40v-3" class="tk"/>
<path d="M490.30 37.97h3" class="tk"/>
<path d="M597.77 138.40v-3" class="tk"/>
<rect x="490.30" y="4.50" width="143.30" height="133.90" class="fr"/>
<path d="M478.70 149.50h9" class="mn"/>
<text x="488.90" y="152.60" class="n">90</text>
<path d="M514.52 149.50h9" class="mn"/>
<text x="524.73" y="152.60" class="n">45</text>
<text x="562.15" y="152.60" text-anchor="middle" class="n">0</text>
<text x="597.98" y="152.60" text-anchor="middle" class="n">45</text>
<text x="633.80" y="152.60" text-anchor="middle" class="n">90</text>
<text x="562.15" y="167.60" text-anchor="middle" textLength="41.5" lengthAdjust="spacing"><tspan font-style="italic">φ</tspan> (deg)</text>
<text x="493.90" y="22.50" font-weight="bold" font-size="16.2" class="k">(c)</text>
<text x="554.50" y="24.80" font-size="15.4" class="k">C</text>
<text x="643.70" y="143.60" class="n">0.00</text>
<path d="M641.00 71.45h-2.8" class="tk"/>
<text x="643.70" y="76.65" class="n">2.53</text>
<text x="643.70" y="9.70" class="n">5.06</text>
<rect x="636.30" y="4.50" width="4.70" height="133.90" class="fr"/>
<g transform="translate(681.60 80.15) rotate(-90)"><text x="-0.3" y="0" font-style="italic" font-size="17.5">Q</text><text x="11.0" y="-2.6" font-size="13">*</text><text x="11.4" y="3.7" font-size="11.5">2</text></g>
<path d="M39.50 279.58h3" class="tk"/>
<path d="M75.28 313.10v-3" class="tk"/>
<path d="M39.50 246.05h3" class="tk"/>
<path d="M111.05 313.10v-3" class="tk"/>
<path d="M39.50 212.53h3" class="tk"/>
<path d="M146.82 313.10v-3" class="tk"/>
<rect x="39.50" y="179.00" width="143.10" height="134.10" class="fr"/>
<text x="36.70" y="318.40" text-anchor="end" class="n">0</text>
<text x="36.70" y="284.88" text-anchor="end" class="n">45</text>
<text x="36.70" y="251.35" text-anchor="end" class="n">90</text>
<text x="36.70" y="217.83" text-anchor="end" class="n">135</text>
<text x="36.70" y="184.30" text-anchor="end" class="n">180</text>
<path d="M27.90 323.50h9" class="mn"/>
<text x="38.10" y="327.30" class="n">90</text>
<path d="M63.68 323.50h9" class="mn"/>
<text x="73.88" y="327.30" class="n">45</text>
<text x="111.25" y="327.30" text-anchor="middle" class="n">0</text>
<text x="147.02" y="327.30" text-anchor="middle" class="n">45</text>
<text x="182.80" y="327.30" text-anchor="middle" class="n">90</text>
<text x="111.25" y="342.30" text-anchor="middle" textLength="41.5" lengthAdjust="spacing"><tspan font-style="italic">φ</tspan> (deg)</text>
<text transform="translate(12.50 246.05) rotate(-90)" text-anchor="middle" textLength="40.5" lengthAdjust="spacing"><tspan font-style="italic">θ</tspan> (deg)</text>
<text x="43.10" y="197.00" font-weight="bold" font-size="16.2" class="k">(d)</text>
<text x="104.60" y="199.30" font-size="15.4" class="k">L</text>
<path d="M194.10 314.50h8.9" class="mn"/>
<text x="204.30" y="318.30" class="n" style="letter-spacing:0">20.17</text>
<path d="M190.00 246.05h-2.8" class="tk"/>
<text x="192.70" y="251.25" class="n">0.00</text>
<text x="192.70" y="184.20" class="n">20.17</text>
<rect x="185.20" y="179.00" width="4.80" height="134.10" class="fr"/>
<text transform="translate(250.20 246.05) rotate(-90)" text-anchor="middle" textLength="100" lengthAdjust="spacing">(∂<tspan font-style="italic">f</tspan><tspan font-size="9.5" dy="2.5">L</tspan><tspan dy="-2.5">/∂</tspan><tspan font-style="italic">V</tspan>)/<tspan font-style="italic">f</tspan><tspan font-size="9.5" dy="2.5">L</tspan><tspan dy="-2.5"> (V</tspan><tspan font-size="9.5" dy="-5">−1</tspan><tspan dy="5">)</tspan></text>
<path d="M264.80 279.58h3" class="tk"/>
<path d="M300.68 313.10v-3" class="tk"/>
<path d="M264.80 246.05h3" class="tk"/>
<path d="M336.55 313.10v-3" class="tk"/>
<path d="M264.80 212.53h3" class="tk"/>
<path d="M372.43 313.10v-3" class="tk"/>
<rect x="264.80" y="179.00" width="143.50" height="134.10" class="fr"/>
<path d="M253.20 323.50h9" class="mn"/>
<text x="263.40" y="327.30" class="n">90</text>
<path d="M289.07 323.50h9" class="mn"/>
<text x="299.28" y="327.30" class="n">45</text>
<text x="336.75" y="327.30" text-anchor="middle" class="n">0</text>
<text x="372.62" y="327.30" text-anchor="middle" class="n">45</text>
<text x="408.50" y="327.30" text-anchor="middle" class="n">90</text>
<text x="336.75" y="342.30" text-anchor="middle" textLength="41.5" lengthAdjust="spacing"><tspan font-style="italic">φ</tspan> (deg)</text>
<text x="268.40" y="197.00" font-weight="bold" font-size="16.2" class="k">(e)</text>
<text x="329.90" y="199.30" font-size="15.4" class="k">L</text>
<text x="418.30" y="318.30" class="n">0.00</text>
<path d="M415.60 246.05h-2.8" class="tk"/>
<text x="418.30" y="251.25" class="n">10.82</text>
<text x="418.30" y="184.20" class="n">21.64</text>
<rect x="410.90" y="179.00" width="4.70" height="134.10" class="fr"/>
<text transform="translate(464.10 246.05) rotate(-90)" text-anchor="middle" textLength="85" lengthAdjust="spacing"><tspan font-style="italic">f</tspan><tspan font-size="9.5" dy="2.5">R</tspan><tspan dy="-2.5"> (MHz/mV)</tspan></text>
<path d="M490.30 279.58h3" class="tk"/>
<path d="M526.12 313.10v-3" class="tk"/>
<path d="M490.30 246.05h3" class="tk"/>
<path d="M561.95 313.10v-3" class="tk"/>
<path d="M490.30 212.53h3" class="tk"/>
<path d="M597.77 313.10v-3" class="tk"/>
<rect x="490.30" y="179.00" width="143.30" height="134.10" class="fr"/>
<path d="M478.70 323.50h9" class="mn"/>
<text x="488.90" y="327.30" class="n">90</text>
<path d="M514.52 323.50h9" class="mn"/>
<text x="524.73" y="327.30" class="n">45</text>
<text x="562.15" y="327.30" text-anchor="middle" class="n">0</text>
<text x="597.98" y="327.30" text-anchor="middle" class="n">45</text>
<text x="633.80" y="327.30" text-anchor="middle" class="n">90</text>
<text x="562.15" y="342.30" text-anchor="middle" textLength="41.5" lengthAdjust="spacing"><tspan font-style="italic">φ</tspan> (deg)</text>
<text x="494.20" y="197.20" font-size="17.2" class="w">(f)</text>
<text x="555.40" y="199.30" font-size="15.4" class="w">L</text>
<text x="643.70" y="318.30" class="n">0</text>
<path d="M641.00 246.05h-2.8" class="tk"/>
<text x="643.70" y="251.25" class="n">45</text>
<text x="643.70" y="184.20" class="n">90</text>
<rect x="636.30" y="179.00" width="4.70" height="134.10" class="fr"/>
<g transform="translate(670.90 254.75) rotate(-90)"><text x="-0.3" y="0" font-style="italic" font-size="17.5">Q</text><text x="11.0" y="-2.6" font-size="13">*</text><text x="11.4" y="3.7" font-size="11.5">2</text></g>
<path d="M121.00 243.95C123.07 244.04 127.37 244.24 133.40 244.50C139.43 244.76 151.07 245.03 157.20 245.50C163.33 245.97 167.17 246.65 170.20 247.30C173.23 247.95 174.10 248.40 175.40 249.40C176.70 250.40 177.35 251.78 178.00 253.30C178.65 254.82 179.07 256.38 179.30 258.50C179.53 260.62 179.55 263.30 179.40 266.00C179.25 268.70 178.73 271.82 178.40 274.70C178.07 277.58 177.93 280.53 177.40 283.30C176.87 286.07 176.03 289.13 175.20 291.30C174.37 293.47 173.72 294.62 172.40 296.30C171.08 297.98 169.35 299.95 167.30 301.40C165.25 302.85 163.47 303.97 160.10 305.00C156.73 306.03 151.58 307.00 147.10 307.60C142.62 308.20 139.20 308.37 133.20 308.60C127.20 308.83 118.47 309.00 111.10 309.00C103.73 309.00 95.00 308.83 89.00 308.60C83.00 308.37 79.58 308.20 75.10 307.60C70.62 307.00 65.47 306.03 62.10 305.00C58.73 303.97 56.95 302.85 54.90 301.40C52.85 299.95 51.12 297.98 49.80 296.30C48.48 294.62 47.83 293.47 47.00 291.30C46.17 289.13 45.33 286.07 44.80 283.30C44.27 280.53 44.13 277.58 43.80 274.70C43.47 271.82 42.95 268.70 42.80 266.00C42.65 263.30 42.67 260.62 42.90 258.50C43.13 256.38 43.55 254.82 44.20 253.30C44.85 251.78 45.50 250.40 46.80 249.40C48.10 248.40 48.97 247.95 52.00 247.30C55.03 246.65 58.87 245.97 65.00 245.50C71.13 245.03 81.22 244.77 88.80 244.50C96.38 244.23 106.88 244.00 110.50 243.90" class="ct"/><text x="115.8" y="248.3" text-anchor="middle" class="cl">0</text>
</svg></div></body></html>
